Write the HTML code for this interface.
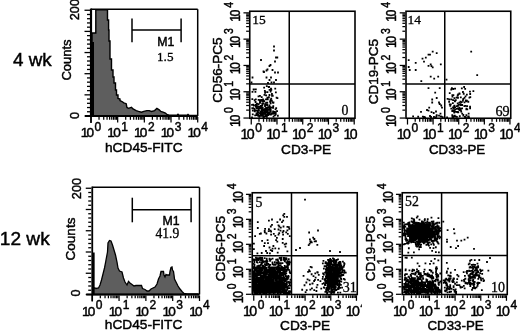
<!DOCTYPE html><html><head><meta charset="utf-8"><style>html,body{margin:0;padding:0;background:#fff;}svg{display:block;will-change:transform;filter:blur(0.3px)}</style></head><body>
<svg width="520" height="334" viewBox="0 0 520 334">
<rect width="520" height="334" fill="#fff"/>
<style>text{stroke:#000;stroke-width:0.45px;fill:#000}text.s{stroke-width:0.3px}</style>
<text x="13" y="66" font-family="'Liberation Sans', sans-serif" font-size="18.8" text-anchor="start" >4 wk</text>
<text x="-0.2" y="244.5" font-family="'Liberation Sans', sans-serif" font-size="19.1" text-anchor="start" >12 wk</text>
<path d="M92 116 L92 33 L95.8 33 L95.8 9.8 L107.5 9.8 L107.5 20 L108.6 20 L108.6 30 L109 30 L109 41 L110 41 L110 59 L111.5 59 L111.5 70 L113 70 L113 77 L114 77 L114 83 L115.5 83 L115.5 90 L116.5 90 L116.5 95 L118 95 L118 98.5 L120 99 L120 100.6 L122 101.5 L123.8 102.9 L126.2 103.7 L126.9 107.5 L128.5 108.3 L131.5 107.3 L133 109 L136.2 110.6 L138.5 111.4 L141.5 112.2 L143.8 111.4 L146.9 110.6 L149.2 110.6 L151.5 111.4 L154.6 110.6 L156.9 108.3 L159.2 109.8 L160.8 111.4 L163.1 112.2 L165.4 113 L166.9 114.5 L169.2 115.2 L177 115.2 L178 114.2 L179 115.2 L187 115.2 L188 114.4 L189 115.2 L197 115.5 L197 116 Z" fill="#5e5e5e" stroke="#000" stroke-width="1.4" stroke-linejoin="miter"/>
<line x1="91" y1="9.25" x2="197.7" y2="9.25" stroke="#000" stroke-width="1.5"/>
<line x1="197.7" y1="9.25" x2="197.7" y2="116" stroke="#000" stroke-width="1.5"/>
<line x1="91" y1="8.55" x2="91" y2="117" stroke="#000" stroke-width="2.2"/>
<line x1="85" y1="116" x2="197.7" y2="116" stroke="#000" stroke-width="2"/>
<line x1="90" y1="116" x2="84.5" y2="116" stroke="#000" stroke-width="1.3"/>
<line x1="90" y1="111.77" x2="87" y2="111.77" stroke="#000" stroke-width="1.3"/>
<line x1="90" y1="107.54" x2="87" y2="107.54" stroke="#000" stroke-width="1.3"/>
<line x1="90" y1="103.31" x2="87" y2="103.31" stroke="#000" stroke-width="1.3"/>
<line x1="90" y1="99.08" x2="87" y2="99.08" stroke="#000" stroke-width="1.3"/>
<line x1="90" y1="94.85" x2="84.5" y2="94.85" stroke="#000" stroke-width="1.3"/>
<line x1="90" y1="90.62" x2="87" y2="90.62" stroke="#000" stroke-width="1.3"/>
<line x1="90" y1="86.39" x2="87" y2="86.39" stroke="#000" stroke-width="1.3"/>
<line x1="90" y1="82.16" x2="87" y2="82.16" stroke="#000" stroke-width="1.3"/>
<line x1="90" y1="77.93" x2="87" y2="77.93" stroke="#000" stroke-width="1.3"/>
<line x1="90" y1="73.7" x2="84.5" y2="73.7" stroke="#000" stroke-width="1.3"/>
<line x1="90" y1="69.47" x2="87" y2="69.47" stroke="#000" stroke-width="1.3"/>
<line x1="90" y1="65.24" x2="87" y2="65.24" stroke="#000" stroke-width="1.3"/>
<line x1="90" y1="61.01" x2="87" y2="61.01" stroke="#000" stroke-width="1.3"/>
<line x1="90" y1="56.78" x2="87" y2="56.78" stroke="#000" stroke-width="1.3"/>
<line x1="90" y1="52.55" x2="84.5" y2="52.55" stroke="#000" stroke-width="1.3"/>
<line x1="90" y1="48.32" x2="87" y2="48.32" stroke="#000" stroke-width="1.3"/>
<line x1="90" y1="44.09" x2="87" y2="44.09" stroke="#000" stroke-width="1.3"/>
<line x1="90" y1="39.86" x2="87" y2="39.86" stroke="#000" stroke-width="1.3"/>
<line x1="90" y1="35.63" x2="87" y2="35.63" stroke="#000" stroke-width="1.3"/>
<line x1="90" y1="31.4" x2="84.5" y2="31.4" stroke="#000" stroke-width="1.3"/>
<line x1="90" y1="27.17" x2="87" y2="27.17" stroke="#000" stroke-width="1.3"/>
<line x1="90" y1="22.94" x2="87" y2="22.94" stroke="#000" stroke-width="1.3"/>
<line x1="90" y1="18.71" x2="87" y2="18.71" stroke="#000" stroke-width="1.3"/>
<line x1="90" y1="14.48" x2="87" y2="14.48" stroke="#000" stroke-width="1.3"/>
<line x1="90" y1="10.25" x2="84.5" y2="10.25" stroke="#000" stroke-width="1.3"/>
<line x1="93" y1="42" x2="93" y2="116" stroke="#000" stroke-width="2"/>
<line x1="91" y1="117" x2="91" y2="122.5" stroke="#000" stroke-width="1.25"/>
<line x1="99.03" y1="117" x2="99.03" y2="119.8" stroke="#000" stroke-width="1.25"/>
<line x1="103.73" y1="117" x2="103.73" y2="119.8" stroke="#000" stroke-width="1.25"/>
<line x1="107.06" y1="117" x2="107.06" y2="119.8" stroke="#000" stroke-width="1.25"/>
<line x1="109.65" y1="117" x2="109.65" y2="119.8" stroke="#000" stroke-width="1.25"/>
<line x1="111.76" y1="117" x2="111.76" y2="119.8" stroke="#000" stroke-width="1.25"/>
<line x1="113.54" y1="117" x2="113.54" y2="119.8" stroke="#000" stroke-width="1.25"/>
<line x1="115.09" y1="117" x2="115.09" y2="119.8" stroke="#000" stroke-width="1.25"/>
<line x1="116.45" y1="117" x2="116.45" y2="119.8" stroke="#000" stroke-width="1.25"/>
<line x1="117.67" y1="117" x2="117.67" y2="122.5" stroke="#000" stroke-width="1.25"/>
<line x1="125.7" y1="117" x2="125.7" y2="119.8" stroke="#000" stroke-width="1.25"/>
<line x1="130.4" y1="117" x2="130.4" y2="119.8" stroke="#000" stroke-width="1.25"/>
<line x1="133.73" y1="117" x2="133.73" y2="119.8" stroke="#000" stroke-width="1.25"/>
<line x1="136.32" y1="117" x2="136.32" y2="119.8" stroke="#000" stroke-width="1.25"/>
<line x1="138.43" y1="117" x2="138.43" y2="119.8" stroke="#000" stroke-width="1.25"/>
<line x1="140.22" y1="117" x2="140.22" y2="119.8" stroke="#000" stroke-width="1.25"/>
<line x1="141.76" y1="117" x2="141.76" y2="119.8" stroke="#000" stroke-width="1.25"/>
<line x1="143.13" y1="117" x2="143.13" y2="119.8" stroke="#000" stroke-width="1.25"/>
<line x1="144.35" y1="117" x2="144.35" y2="122.5" stroke="#000" stroke-width="1.25"/>
<line x1="152.38" y1="117" x2="152.38" y2="119.8" stroke="#000" stroke-width="1.25"/>
<line x1="157.08" y1="117" x2="157.08" y2="119.8" stroke="#000" stroke-width="1.25"/>
<line x1="160.41" y1="117" x2="160.41" y2="119.8" stroke="#000" stroke-width="1.25"/>
<line x1="163" y1="117" x2="163" y2="119.8" stroke="#000" stroke-width="1.25"/>
<line x1="165.11" y1="117" x2="165.11" y2="119.8" stroke="#000" stroke-width="1.25"/>
<line x1="166.89" y1="117" x2="166.89" y2="119.8" stroke="#000" stroke-width="1.25"/>
<line x1="168.44" y1="117" x2="168.44" y2="119.8" stroke="#000" stroke-width="1.25"/>
<line x1="169.8" y1="117" x2="169.8" y2="119.8" stroke="#000" stroke-width="1.25"/>
<line x1="171.02" y1="117" x2="171.02" y2="122.5" stroke="#000" stroke-width="1.25"/>
<line x1="179.05" y1="117" x2="179.05" y2="119.8" stroke="#000" stroke-width="1.25"/>
<line x1="183.75" y1="117" x2="183.75" y2="119.8" stroke="#000" stroke-width="1.25"/>
<line x1="187.08" y1="117" x2="187.08" y2="119.8" stroke="#000" stroke-width="1.25"/>
<line x1="189.67" y1="117" x2="189.67" y2="119.8" stroke="#000" stroke-width="1.25"/>
<line x1="191.78" y1="117" x2="191.78" y2="119.8" stroke="#000" stroke-width="1.25"/>
<line x1="193.57" y1="117" x2="193.57" y2="119.8" stroke="#000" stroke-width="1.25"/>
<line x1="195.11" y1="117" x2="195.11" y2="119.8" stroke="#000" stroke-width="1.25"/>
<line x1="196.48" y1="117" x2="196.48" y2="119.8" stroke="#000" stroke-width="1.25"/>
<line x1="197.7" y1="117" x2="197.7" y2="122.5" stroke="#000" stroke-width="1.25"/>
<line x1="91" y1="116" x2="91" y2="123" stroke="#000" stroke-width="1.6"/>
<line x1="132" y1="18.5" x2="132" y2="42.3" stroke="#000" stroke-width="1.5"/>
<line x1="181.1" y1="18.5" x2="181.1" y2="42.3" stroke="#000" stroke-width="1.5"/>
<line x1="132" y1="30" x2="181.1" y2="30" stroke="#000" stroke-width="1.5"/>
<text x="157.2" y="46.2" font-family="'Liberation Sans', sans-serif" font-size="12.3" text-anchor="start" >M1</text>
<text x="157" y="60.5" font-family="'Liberation Serif', serif" font-size="13.2" text-anchor="start"  class="s">1.5</text>
<text transform="translate(79.4,9.6) rotate(-90)" font-family="'Liberation Sans', sans-serif" font-size="12.8" text-anchor="middle">200</text>
<text transform="translate(79.4,115.5) rotate(-90)" font-family="'Liberation Sans', sans-serif" font-size="12.8" text-anchor="middle">0</text>
<text transform="translate(71,60) rotate(-90)" font-family="'Liberation Sans', sans-serif" font-size="13" text-anchor="middle">Counts</text>
<text x="91" y="137.3" font-family="'Liberation Sans', sans-serif" font-size="13.6" text-anchor="middle">1<tspan dx="-1.8">0</tspan><tspan dx="0.6" dy="-6.6" font-size="12">0</tspan></text>
<text x="117.67" y="137.3" font-family="'Liberation Sans', sans-serif" font-size="13.6" text-anchor="middle">1<tspan dx="-1.8">0</tspan><tspan dx="0.6" dy="-6.6" font-size="12">1</tspan></text>
<text x="144.35" y="137.3" font-family="'Liberation Sans', sans-serif" font-size="13.6" text-anchor="middle">1<tspan dx="-1.8">0</tspan><tspan dx="0.6" dy="-6.6" font-size="12">2</tspan></text>
<text x="171.02" y="137.3" font-family="'Liberation Sans', sans-serif" font-size="13.6" text-anchor="middle">1<tspan dx="-1.8">0</tspan><tspan dx="0.6" dy="-6.6" font-size="12">3</tspan></text>
<text x="197.7" y="137.3" font-family="'Liberation Sans', sans-serif" font-size="13.6" text-anchor="middle">1<tspan dx="-1.8">0</tspan><tspan dx="0.6" dy="-6.6" font-size="12">4</tspan></text>
<text x="105" y="152" font-family="'Liberation Sans', sans-serif" font-size="13.7" text-anchor="start" >hCD45-FITC</text>
<path d="M93 294.5 L93 288 L95 288 L96 288.5 L98.5 288 L100 285 L101.5 280 L103 274 L104.5 268 L105.5 263 L106 260 L107.5 252 L108 243 L109.5 240.5 L111 241 L112.5 245 L114 250 L115.5 255 L117 262 L118 268 L119.5 271 L122 272 L123.5 278 L125 282 L127 285 L128.5 281.5 L130 283 L132 284.5 L134 286 L136 285.5 L141.5 285.5 L142.5 288.5 L145 289.5 L147 291 L149 291 L151 289 L155 287 L157 284 L158.5 279 L160 276 L161 271.5 L163.5 271.5 L164 275 L165 277 L166 274.5 L167 275 L169.5 275 L170 271.5 L171 267.5 L172 267 L172.5 270 L173.5 271.5 L174 275 L174.5 279 L176 282 L178 286 L180 289 L182 291.5 L184 293.5 L187 294 L198 294 L198 294.5 Z" fill="#5e5e5e" stroke="#000" stroke-width="1.3" stroke-linejoin="miter"/>
<line x1="92.25" y1="187.25" x2="199.5" y2="187.25" stroke="#000" stroke-width="1.5"/>
<line x1="199.5" y1="187.25" x2="199.5" y2="294.5" stroke="#000" stroke-width="1.5"/>
<line x1="92.25" y1="186.55" x2="92.25" y2="295.5" stroke="#000" stroke-width="1.8"/>
<line x1="86.25" y1="294.5" x2="199.5" y2="294.5" stroke="#000" stroke-width="1.8"/>
<line x1="91.25" y1="294.5" x2="85.75" y2="294.5" stroke="#000" stroke-width="1.3"/>
<line x1="91.25" y1="290.25" x2="88.25" y2="290.25" stroke="#000" stroke-width="1.3"/>
<line x1="91.25" y1="286" x2="88.25" y2="286" stroke="#000" stroke-width="1.3"/>
<line x1="91.25" y1="281.75" x2="88.25" y2="281.75" stroke="#000" stroke-width="1.3"/>
<line x1="91.25" y1="277.5" x2="88.25" y2="277.5" stroke="#000" stroke-width="1.3"/>
<line x1="91.25" y1="273.25" x2="85.75" y2="273.25" stroke="#000" stroke-width="1.3"/>
<line x1="91.25" y1="269" x2="88.25" y2="269" stroke="#000" stroke-width="1.3"/>
<line x1="91.25" y1="264.75" x2="88.25" y2="264.75" stroke="#000" stroke-width="1.3"/>
<line x1="91.25" y1="260.5" x2="88.25" y2="260.5" stroke="#000" stroke-width="1.3"/>
<line x1="91.25" y1="256.25" x2="88.25" y2="256.25" stroke="#000" stroke-width="1.3"/>
<line x1="91.25" y1="252" x2="85.75" y2="252" stroke="#000" stroke-width="1.3"/>
<line x1="91.25" y1="247.75" x2="88.25" y2="247.75" stroke="#000" stroke-width="1.3"/>
<line x1="91.25" y1="243.5" x2="88.25" y2="243.5" stroke="#000" stroke-width="1.3"/>
<line x1="91.25" y1="239.25" x2="88.25" y2="239.25" stroke="#000" stroke-width="1.3"/>
<line x1="91.25" y1="235" x2="88.25" y2="235" stroke="#000" stroke-width="1.3"/>
<line x1="91.25" y1="230.75" x2="85.75" y2="230.75" stroke="#000" stroke-width="1.3"/>
<line x1="91.25" y1="226.5" x2="88.25" y2="226.5" stroke="#000" stroke-width="1.3"/>
<line x1="91.25" y1="222.25" x2="88.25" y2="222.25" stroke="#000" stroke-width="1.3"/>
<line x1="91.25" y1="218" x2="88.25" y2="218" stroke="#000" stroke-width="1.3"/>
<line x1="91.25" y1="213.75" x2="88.25" y2="213.75" stroke="#000" stroke-width="1.3"/>
<line x1="91.25" y1="209.5" x2="85.75" y2="209.5" stroke="#000" stroke-width="1.3"/>
<line x1="91.25" y1="205.25" x2="88.25" y2="205.25" stroke="#000" stroke-width="1.3"/>
<line x1="91.25" y1="201" x2="88.25" y2="201" stroke="#000" stroke-width="1.3"/>
<line x1="91.25" y1="196.75" x2="88.25" y2="196.75" stroke="#000" stroke-width="1.3"/>
<line x1="91.25" y1="192.5" x2="88.25" y2="192.5" stroke="#000" stroke-width="1.3"/>
<line x1="91.25" y1="188.25" x2="85.75" y2="188.25" stroke="#000" stroke-width="1.3"/>
<line x1="93.7" y1="252.5" x2="93.7" y2="294.5" stroke="#000" stroke-width="1.9"/>
<line x1="92.25" y1="295.5" x2="92.25" y2="301" stroke="#000" stroke-width="1.25"/>
<line x1="100.32" y1="295.5" x2="100.32" y2="298.3" stroke="#000" stroke-width="1.25"/>
<line x1="105.04" y1="295.5" x2="105.04" y2="298.3" stroke="#000" stroke-width="1.25"/>
<line x1="108.39" y1="295.5" x2="108.39" y2="298.3" stroke="#000" stroke-width="1.25"/>
<line x1="110.99" y1="295.5" x2="110.99" y2="298.3" stroke="#000" stroke-width="1.25"/>
<line x1="113.11" y1="295.5" x2="113.11" y2="298.3" stroke="#000" stroke-width="1.25"/>
<line x1="114.91" y1="295.5" x2="114.91" y2="298.3" stroke="#000" stroke-width="1.25"/>
<line x1="116.46" y1="295.5" x2="116.46" y2="298.3" stroke="#000" stroke-width="1.25"/>
<line x1="117.84" y1="295.5" x2="117.84" y2="298.3" stroke="#000" stroke-width="1.25"/>
<line x1="119.06" y1="295.5" x2="119.06" y2="301" stroke="#000" stroke-width="1.25"/>
<line x1="127.13" y1="295.5" x2="127.13" y2="298.3" stroke="#000" stroke-width="1.25"/>
<line x1="131.86" y1="295.5" x2="131.86" y2="298.3" stroke="#000" stroke-width="1.25"/>
<line x1="135.21" y1="295.5" x2="135.21" y2="298.3" stroke="#000" stroke-width="1.25"/>
<line x1="137.8" y1="295.5" x2="137.8" y2="298.3" stroke="#000" stroke-width="1.25"/>
<line x1="139.93" y1="295.5" x2="139.93" y2="298.3" stroke="#000" stroke-width="1.25"/>
<line x1="141.72" y1="295.5" x2="141.72" y2="298.3" stroke="#000" stroke-width="1.25"/>
<line x1="143.28" y1="295.5" x2="143.28" y2="298.3" stroke="#000" stroke-width="1.25"/>
<line x1="144.65" y1="295.5" x2="144.65" y2="298.3" stroke="#000" stroke-width="1.25"/>
<line x1="145.88" y1="295.5" x2="145.88" y2="301" stroke="#000" stroke-width="1.25"/>
<line x1="153.95" y1="295.5" x2="153.95" y2="298.3" stroke="#000" stroke-width="1.25"/>
<line x1="158.67" y1="295.5" x2="158.67" y2="298.3" stroke="#000" stroke-width="1.25"/>
<line x1="162.02" y1="295.5" x2="162.02" y2="298.3" stroke="#000" stroke-width="1.25"/>
<line x1="164.62" y1="295.5" x2="164.62" y2="298.3" stroke="#000" stroke-width="1.25"/>
<line x1="166.74" y1="295.5" x2="166.74" y2="298.3" stroke="#000" stroke-width="1.25"/>
<line x1="168.53" y1="295.5" x2="168.53" y2="298.3" stroke="#000" stroke-width="1.25"/>
<line x1="170.09" y1="295.5" x2="170.09" y2="298.3" stroke="#000" stroke-width="1.25"/>
<line x1="171.46" y1="295.5" x2="171.46" y2="298.3" stroke="#000" stroke-width="1.25"/>
<line x1="172.69" y1="295.5" x2="172.69" y2="301" stroke="#000" stroke-width="1.25"/>
<line x1="180.76" y1="295.5" x2="180.76" y2="298.3" stroke="#000" stroke-width="1.25"/>
<line x1="185.48" y1="295.5" x2="185.48" y2="298.3" stroke="#000" stroke-width="1.25"/>
<line x1="188.83" y1="295.5" x2="188.83" y2="298.3" stroke="#000" stroke-width="1.25"/>
<line x1="191.43" y1="295.5" x2="191.43" y2="298.3" stroke="#000" stroke-width="1.25"/>
<line x1="193.55" y1="295.5" x2="193.55" y2="298.3" stroke="#000" stroke-width="1.25"/>
<line x1="195.35" y1="295.5" x2="195.35" y2="298.3" stroke="#000" stroke-width="1.25"/>
<line x1="196.9" y1="295.5" x2="196.9" y2="298.3" stroke="#000" stroke-width="1.25"/>
<line x1="198.27" y1="295.5" x2="198.27" y2="298.3" stroke="#000" stroke-width="1.25"/>
<line x1="199.5" y1="295.5" x2="199.5" y2="301" stroke="#000" stroke-width="1.25"/>
<line x1="92.25" y1="294.5" x2="92.25" y2="301.5" stroke="#000" stroke-width="1.6"/>
<line x1="132.3" y1="197.7" x2="132.3" y2="222.3" stroke="#000" stroke-width="1.5"/>
<line x1="191.1" y1="197.7" x2="191.1" y2="222.3" stroke="#000" stroke-width="1.5"/>
<line x1="132.3" y1="209.7" x2="191.1" y2="209.7" stroke="#000" stroke-width="1.5"/>
<text x="162.6" y="224.6" font-family="'Liberation Sans', sans-serif" font-size="12.3" text-anchor="start" >M1</text>
<text x="155.5" y="237.7" font-family="'Liberation Serif', serif" font-size="13.6" text-anchor="start"  class="s">41.9</text>
<text transform="translate(81.4,188.5) rotate(-90)" font-family="'Liberation Sans', sans-serif" font-size="12.8" text-anchor="middle">200</text>
<text transform="translate(80.2,293) rotate(-90)" font-family="'Liberation Sans', sans-serif" font-size="12.8" text-anchor="middle">0</text>
<text transform="translate(74.8,239) rotate(-90)" font-family="'Liberation Sans', sans-serif" font-size="13.5" text-anchor="middle">Counts</text>
<text x="92.25" y="315.8" font-family="'Liberation Sans', sans-serif" font-size="13.6" text-anchor="middle">1<tspan dx="-1.8">0</tspan><tspan dx="0.6" dy="-6.6" font-size="12">0</tspan></text>
<text x="119.06" y="315.8" font-family="'Liberation Sans', sans-serif" font-size="13.6" text-anchor="middle">1<tspan dx="-1.8">0</tspan><tspan dx="0.6" dy="-6.6" font-size="12">1</tspan></text>
<text x="145.88" y="315.8" font-family="'Liberation Sans', sans-serif" font-size="13.6" text-anchor="middle">1<tspan dx="-1.8">0</tspan><tspan dx="0.6" dy="-6.6" font-size="12">2</tspan></text>
<text x="172.69" y="315.8" font-family="'Liberation Sans', sans-serif" font-size="13.6" text-anchor="middle">1<tspan dx="-1.8">0</tspan><tspan dx="0.6" dy="-6.6" font-size="12">3</tspan></text>
<text x="199.5" y="315.8" font-family="'Liberation Sans', sans-serif" font-size="13.6" text-anchor="middle">1<tspan dx="-1.8">0</tspan><tspan dx="0.6" dy="-6.6" font-size="12">4</tspan></text>
<text x="104.8" y="329.3" font-family="'Liberation Sans', sans-serif" font-size="13.7" text-anchor="start" >hCD45-FITC</text>
<rect x="249.75" y="11.25" width="105.25" height="107" fill="none" stroke="#000" stroke-width="1.6"/>
<line x1="289.25" y1="11.25" x2="289.25" y2="118.25" stroke="#000" stroke-width="1.5"/>
<line x1="249.75" y1="84" x2="355" y2="84" stroke="#000" stroke-width="1.5"/>
<line x1="248.95" y1="118.05" x2="243.45" y2="118.05" stroke="#000" stroke-width="1.25"/>
<line x1="248.95" y1="110.13" x2="246.15" y2="110.13" stroke="#000" stroke-width="1.25"/>
<line x1="248.95" y1="105.5" x2="246.15" y2="105.5" stroke="#000" stroke-width="1.25"/>
<line x1="248.95" y1="102.22" x2="246.15" y2="102.22" stroke="#000" stroke-width="1.25"/>
<line x1="248.95" y1="99.67" x2="246.15" y2="99.67" stroke="#000" stroke-width="1.25"/>
<line x1="248.95" y1="97.58" x2="246.15" y2="97.58" stroke="#000" stroke-width="1.25"/>
<line x1="248.95" y1="95.82" x2="246.15" y2="95.82" stroke="#000" stroke-width="1.25"/>
<line x1="248.95" y1="94.3" x2="246.15" y2="94.3" stroke="#000" stroke-width="1.25"/>
<line x1="248.95" y1="92.95" x2="246.15" y2="92.95" stroke="#000" stroke-width="1.25"/>
<line x1="248.95" y1="91.75" x2="243.45" y2="91.75" stroke="#000" stroke-width="1.25"/>
<line x1="248.95" y1="83.83" x2="246.15" y2="83.83" stroke="#000" stroke-width="1.25"/>
<line x1="248.95" y1="79.2" x2="246.15" y2="79.2" stroke="#000" stroke-width="1.25"/>
<line x1="248.95" y1="75.92" x2="246.15" y2="75.92" stroke="#000" stroke-width="1.25"/>
<line x1="248.95" y1="73.37" x2="246.15" y2="73.37" stroke="#000" stroke-width="1.25"/>
<line x1="248.95" y1="71.28" x2="246.15" y2="71.28" stroke="#000" stroke-width="1.25"/>
<line x1="248.95" y1="69.52" x2="246.15" y2="69.52" stroke="#000" stroke-width="1.25"/>
<line x1="248.95" y1="68" x2="246.15" y2="68" stroke="#000" stroke-width="1.25"/>
<line x1="248.95" y1="66.65" x2="246.15" y2="66.65" stroke="#000" stroke-width="1.25"/>
<line x1="248.95" y1="65.45" x2="243.45" y2="65.45" stroke="#000" stroke-width="1.25"/>
<line x1="248.95" y1="57.53" x2="246.15" y2="57.53" stroke="#000" stroke-width="1.25"/>
<line x1="248.95" y1="52.9" x2="246.15" y2="52.9" stroke="#000" stroke-width="1.25"/>
<line x1="248.95" y1="49.62" x2="246.15" y2="49.62" stroke="#000" stroke-width="1.25"/>
<line x1="248.95" y1="47.07" x2="246.15" y2="47.07" stroke="#000" stroke-width="1.25"/>
<line x1="248.95" y1="44.98" x2="246.15" y2="44.98" stroke="#000" stroke-width="1.25"/>
<line x1="248.95" y1="43.22" x2="246.15" y2="43.22" stroke="#000" stroke-width="1.25"/>
<line x1="248.95" y1="41.7" x2="246.15" y2="41.7" stroke="#000" stroke-width="1.25"/>
<line x1="248.95" y1="40.35" x2="246.15" y2="40.35" stroke="#000" stroke-width="1.25"/>
<line x1="248.95" y1="39.15" x2="243.45" y2="39.15" stroke="#000" stroke-width="1.25"/>
<line x1="248.95" y1="31.23" x2="246.15" y2="31.23" stroke="#000" stroke-width="1.25"/>
<line x1="248.95" y1="26.6" x2="246.15" y2="26.6" stroke="#000" stroke-width="1.25"/>
<line x1="248.95" y1="23.32" x2="246.15" y2="23.32" stroke="#000" stroke-width="1.25"/>
<line x1="248.95" y1="20.77" x2="246.15" y2="20.77" stroke="#000" stroke-width="1.25"/>
<line x1="248.95" y1="18.68" x2="246.15" y2="18.68" stroke="#000" stroke-width="1.25"/>
<line x1="248.95" y1="16.92" x2="246.15" y2="16.92" stroke="#000" stroke-width="1.25"/>
<line x1="248.95" y1="15.4" x2="246.15" y2="15.4" stroke="#000" stroke-width="1.25"/>
<line x1="248.95" y1="14.05" x2="246.15" y2="14.05" stroke="#000" stroke-width="1.25"/>
<line x1="248.95" y1="12.85" x2="243.45" y2="12.85" stroke="#000" stroke-width="1.25"/>
<line x1="251.25" y1="119.05" x2="251.25" y2="124.55" stroke="#000" stroke-width="1.25"/>
<line x1="259" y1="119.05" x2="259" y2="121.85" stroke="#000" stroke-width="1.25"/>
<line x1="263.53" y1="119.05" x2="263.53" y2="121.85" stroke="#000" stroke-width="1.25"/>
<line x1="266.75" y1="119.05" x2="266.75" y2="121.85" stroke="#000" stroke-width="1.25"/>
<line x1="269.24" y1="119.05" x2="269.24" y2="121.85" stroke="#000" stroke-width="1.25"/>
<line x1="271.28" y1="119.05" x2="271.28" y2="121.85" stroke="#000" stroke-width="1.25"/>
<line x1="273" y1="119.05" x2="273" y2="121.85" stroke="#000" stroke-width="1.25"/>
<line x1="274.49" y1="119.05" x2="274.49" y2="121.85" stroke="#000" stroke-width="1.25"/>
<line x1="275.81" y1="119.05" x2="275.81" y2="121.85" stroke="#000" stroke-width="1.25"/>
<line x1="276.99" y1="119.05" x2="276.99" y2="124.55" stroke="#000" stroke-width="1.25"/>
<line x1="284.74" y1="119.05" x2="284.74" y2="121.85" stroke="#000" stroke-width="1.25"/>
<line x1="289.27" y1="119.05" x2="289.27" y2="121.85" stroke="#000" stroke-width="1.25"/>
<line x1="292.48" y1="119.05" x2="292.48" y2="121.85" stroke="#000" stroke-width="1.25"/>
<line x1="294.98" y1="119.05" x2="294.98" y2="121.85" stroke="#000" stroke-width="1.25"/>
<line x1="297.02" y1="119.05" x2="297.02" y2="121.85" stroke="#000" stroke-width="1.25"/>
<line x1="298.74" y1="119.05" x2="298.74" y2="121.85" stroke="#000" stroke-width="1.25"/>
<line x1="300.23" y1="119.05" x2="300.23" y2="121.85" stroke="#000" stroke-width="1.25"/>
<line x1="301.55" y1="119.05" x2="301.55" y2="121.85" stroke="#000" stroke-width="1.25"/>
<line x1="302.73" y1="119.05" x2="302.73" y2="124.55" stroke="#000" stroke-width="1.25"/>
<line x1="310.47" y1="119.05" x2="310.47" y2="121.85" stroke="#000" stroke-width="1.25"/>
<line x1="315" y1="119.05" x2="315" y2="121.85" stroke="#000" stroke-width="1.25"/>
<line x1="318.22" y1="119.05" x2="318.22" y2="121.85" stroke="#000" stroke-width="1.25"/>
<line x1="320.71" y1="119.05" x2="320.71" y2="121.85" stroke="#000" stroke-width="1.25"/>
<line x1="322.75" y1="119.05" x2="322.75" y2="121.85" stroke="#000" stroke-width="1.25"/>
<line x1="324.48" y1="119.05" x2="324.48" y2="121.85" stroke="#000" stroke-width="1.25"/>
<line x1="325.97" y1="119.05" x2="325.97" y2="121.85" stroke="#000" stroke-width="1.25"/>
<line x1="327.28" y1="119.05" x2="327.28" y2="121.85" stroke="#000" stroke-width="1.25"/>
<line x1="328.46" y1="119.05" x2="328.46" y2="124.55" stroke="#000" stroke-width="1.25"/>
<line x1="336.21" y1="119.05" x2="336.21" y2="121.85" stroke="#000" stroke-width="1.25"/>
<line x1="340.74" y1="119.05" x2="340.74" y2="121.85" stroke="#000" stroke-width="1.25"/>
<line x1="343.96" y1="119.05" x2="343.96" y2="121.85" stroke="#000" stroke-width="1.25"/>
<line x1="346.45" y1="119.05" x2="346.45" y2="121.85" stroke="#000" stroke-width="1.25"/>
<line x1="348.49" y1="119.05" x2="348.49" y2="121.85" stroke="#000" stroke-width="1.25"/>
<line x1="350.21" y1="119.05" x2="350.21" y2="121.85" stroke="#000" stroke-width="1.25"/>
<line x1="351.71" y1="119.05" x2="351.71" y2="121.85" stroke="#000" stroke-width="1.25"/>
<line x1="353.02" y1="119.05" x2="353.02" y2="121.85" stroke="#000" stroke-width="1.25"/>
<line x1="354.2" y1="119.05" x2="354.2" y2="124.55" stroke="#000" stroke-width="1.25"/>
<text transform="translate(240.05,117.05) rotate(-90) scale(0.87,1)" font-family="'Liberation Sans', sans-serif" font-size="14.2" text-anchor="middle">1<tspan dx="-1.8">0</tspan><tspan dx="2" dy="-6.6" font-size="12">0</tspan></text>
<text transform="translate(240.05,90.75) rotate(-90) scale(0.87,1)" font-family="'Liberation Sans', sans-serif" font-size="14.2" text-anchor="middle">1<tspan dx="-1.8">0</tspan><tspan dx="2" dy="-6.6" font-size="12">1</tspan></text>
<text transform="translate(240.05,64.45) rotate(-90) scale(0.87,1)" font-family="'Liberation Sans', sans-serif" font-size="14.2" text-anchor="middle">1<tspan dx="-1.8">0</tspan><tspan dx="2" dy="-6.6" font-size="12">2</tspan></text>
<text transform="translate(240.05,38.15) rotate(-90) scale(0.87,1)" font-family="'Liberation Sans', sans-serif" font-size="14.2" text-anchor="middle">1<tspan dx="-1.8">0</tspan><tspan dx="2" dy="-6.6" font-size="12">3</tspan></text>
<text transform="translate(240.05,11.85) rotate(-90) scale(0.87,1)" font-family="'Liberation Sans', sans-serif" font-size="14.2" text-anchor="middle">1<tspan dx="-1.8">0</tspan><tspan dx="2" dy="-6.6" font-size="12">4</tspan></text>
<clipPath id="c1"><rect x="0" y="0" width="357.5" height="334"/></clipPath><g clip-path="url(#c1)">
<text x="251.25" y="139.25" font-family="'Liberation Sans', sans-serif" font-size="14.2" text-anchor="middle">1<tspan dx="-1.8">0</tspan><tspan dx="0.6" dy="-7" font-size="12">0</tspan></text>
<text x="276.99" y="139.25" font-family="'Liberation Sans', sans-serif" font-size="14.2" text-anchor="middle">1<tspan dx="-1.8">0</tspan><tspan dx="0.6" dy="-7" font-size="12">1</tspan></text>
<text x="302.73" y="139.25" font-family="'Liberation Sans', sans-serif" font-size="14.2" text-anchor="middle">1<tspan dx="-1.8">0</tspan><tspan dx="0.6" dy="-7" font-size="12">2</tspan></text>
<text x="328.46" y="139.25" font-family="'Liberation Sans', sans-serif" font-size="14.2" text-anchor="middle">1<tspan dx="-1.8">0</tspan><tspan dx="0.6" dy="-7" font-size="12">3</tspan></text>
<text x="354.2" y="139.25" font-family="'Liberation Sans', sans-serif" font-size="14.2" text-anchor="middle">1<tspan dx="-1.8">0</tspan><tspan dx="0.6" dy="-7" font-size="12">4</tspan></text>
</g>
<text transform="translate(222.05,70) rotate(-90)" font-family="'Liberation Sans', sans-serif" font-size="13.5" text-anchor="middle">CD56-PC5</text>
<text x="281" y="153.55" font-family="'Liberation Sans', sans-serif" font-size="13.7" text-anchor="start" >CD3-PE</text>
<text x="252.2" y="23.8" font-family="'Liberation Serif', serif" font-size="13.5" text-anchor="start"  class="s">15</text>
<text x="341.6" y="115" font-family="'Liberation Serif', serif" font-size="13.8" text-anchor="start"  class="s">0</text>
<path d="M273.1 45.6h1.8v1.8h-1.8zM273.1 49.6h1.8v1.8h-1.8zM275.1 56.6h1.8v1.8h-1.8zM276.4 56.6h1.8v1.8h-1.8zM260.1 59.1h1.8v1.8h-1.8zM274.1 60.6h1.8v1.8h-1.8zM269.6 64.1h1.8v1.8h-1.8zM268.6 65.1h1.8v1.8h-1.8zM266.6 68.6h1.8v1.8h-1.8zM265.6 69.6h1.8v1.8h-1.8zM271.6 69.1h1.8v1.8h-1.8zM263.1 71.1h1.8v1.8h-1.8zM274.1 71.6h1.8v1.8h-1.8zM277.1 71.6h1.8v1.8h-1.8zM262.6 70.6h1.8v1.8h-1.8zM251.6 76.6h1.8v1.8h-1.8zM265.6 76.6h1.8v1.8h-1.8zM270.1 76.6h1.8v1.8h-1.8zM268.6 79.1h1.8v1.8h-1.8zM275.1 79.1h1.8v1.8h-1.8zM250.6 81.6h1.8v1.8h-1.8zM267.1 82.1h1.8v1.8h-1.8zM270.6 81.6h1.8v1.8h-1.8zM273.1 81.6h1.8v1.8h-1.8z" fill="#000"/>
<path d="M260.31 111.42h1.8v1.8h-1.8zM260.52 106.05h1.8v1.8h-1.8zM255.59 106.71h1.8v1.8h-1.8zM269.88 110.86h1.8v1.8h-1.8zM269.36 109.72h1.8v1.8h-1.8zM264.86 109.3h1.8v1.8h-1.8zM265.64 111.34h1.8v1.8h-1.8zM255.87 105.06h1.8v1.8h-1.8zM264.24 107.8h1.8v1.8h-1.8zM265.75 103.93h1.8v1.8h-1.8zM264.26 110.66h1.8v1.8h-1.8zM266 115.88h1.8v1.8h-1.8zM257.76 103.29h1.8v1.8h-1.8zM259.69 107.41h1.8v1.8h-1.8zM266.52 109.71h1.8v1.8h-1.8zM258.97 101.88h1.8v1.8h-1.8zM258.46 116.04h1.8v1.8h-1.8zM256.44 109.69h1.8v1.8h-1.8zM265.09 98.42h1.8v1.8h-1.8zM262.44 116.59h1.8v1.8h-1.8zM261.36 102.79h1.8v1.8h-1.8zM265.58 107.7h1.8v1.8h-1.8zM251.85 113.48h1.8v1.8h-1.8zM266.79 114.25h1.8v1.8h-1.8zM272.18 110.45h1.8v1.8h-1.8zM262.93 99.66h1.8v1.8h-1.8zM266.41 104.12h1.8v1.8h-1.8zM258.93 99.88h1.8v1.8h-1.8zM255.33 104.65h1.8v1.8h-1.8zM271.12 94.89h1.8v1.8h-1.8zM251.9 109.66h1.8v1.8h-1.8zM272.2 111.86h1.8v1.8h-1.8zM264.6 103.31h1.8v1.8h-1.8zM254.26 114.45h1.8v1.8h-1.8zM269.81 109.12h1.8v1.8h-1.8zM263.82 110.92h1.8v1.8h-1.8zM273.26 112.12h1.8v1.8h-1.8zM265.73 111.66h1.8v1.8h-1.8zM251.12 116.43h1.8v1.8h-1.8zM268.79 111.54h1.8v1.8h-1.8zM268 96.33h1.8v1.8h-1.8zM260.81 114.73h1.8v1.8h-1.8zM265.96 107.12h1.8v1.8h-1.8zM264.37 112.32h1.8v1.8h-1.8zM262.94 115.55h1.8v1.8h-1.8zM257.47 105.4h1.8v1.8h-1.8zM269.39 108.27h1.8v1.8h-1.8zM255.94 114.25h1.8v1.8h-1.8zM272.36 105.21h1.8v1.8h-1.8zM252.44 107.22h1.8v1.8h-1.8zM261.06 106.16h1.8v1.8h-1.8zM271.93 101.42h1.8v1.8h-1.8zM270.92 99.86h1.8v1.8h-1.8zM256.59 112.2h1.8v1.8h-1.8zM270 113.68h1.8v1.8h-1.8zM264.52 109.03h1.8v1.8h-1.8zM263.17 111.84h1.8v1.8h-1.8zM260.87 109.9h1.8v1.8h-1.8zM266.11 108.11h1.8v1.8h-1.8zM267.45 111.78h1.8v1.8h-1.8zM276.17 110.21h1.8v1.8h-1.8zM259.11 105.68h1.8v1.8h-1.8zM262.01 114.1h1.8v1.8h-1.8zM259.74 110.61h1.8v1.8h-1.8zM274.96 91.43h1.8v1.8h-1.8zM254.23 109.69h1.8v1.8h-1.8zM264.89 109.65h1.8v1.8h-1.8zM259.08 112.36h1.8v1.8h-1.8zM264.07 104.71h1.8v1.8h-1.8zM258.22 107.45h1.8v1.8h-1.8zM260.52 107.69h1.8v1.8h-1.8zM269.16 100.5h1.8v1.8h-1.8zM261.63 114.3h1.8v1.8h-1.8zM259.71 112.15h1.8v1.8h-1.8zM269.74 90.66h1.8v1.8h-1.8zM269.72 98.69h1.8v1.8h-1.8zM266.88 98.4h1.8v1.8h-1.8zM263.33 115.87h1.8v1.8h-1.8zM261.05 109.34h1.8v1.8h-1.8zM267.68 109.02h1.8v1.8h-1.8zM269.44 106.19h1.8v1.8h-1.8zM268.5 106.37h1.8v1.8h-1.8zM263.03 112.68h1.8v1.8h-1.8zM263.66 112.25h1.8v1.8h-1.8zM251.41 98.29h1.8v1.8h-1.8zM266.4 101.84h1.8v1.8h-1.8zM254.91 98.54h1.8v1.8h-1.8zM270.96 112.95h1.8v1.8h-1.8zM272.41 102h1.8v1.8h-1.8zM262.11 100.69h1.8v1.8h-1.8zM269.02 106.94h1.8v1.8h-1.8zM261.43 104.18h1.8v1.8h-1.8zM264.9 110.76h1.8v1.8h-1.8zM272.59 101.47h1.8v1.8h-1.8zM272.27 106.93h1.8v1.8h-1.8zM256.89 114.72h1.8v1.8h-1.8zM262.91 108.91h1.8v1.8h-1.8zM272.07 106.39h1.8v1.8h-1.8zM264.32 104.13h1.8v1.8h-1.8zM262.03 113.51h1.8v1.8h-1.8zM261.67 114.86h1.8v1.8h-1.8zM257.4 113.82h1.8v1.8h-1.8zM253.48 108.02h1.8v1.8h-1.8zM260.75 107.91h1.8v1.8h-1.8zM257.96 109.62h1.8v1.8h-1.8zM274.64 108.39h1.8v1.8h-1.8zM265.82 114.6h1.8v1.8h-1.8zM260.71 99.91h1.8v1.8h-1.8zM258.21 115.08h1.8v1.8h-1.8zM269.15 113.25h1.8v1.8h-1.8zM262.15 113.33h1.8v1.8h-1.8zM263.26 100.44h1.8v1.8h-1.8zM251.15 103.95h1.8v1.8h-1.8zM268.56 104.42h1.8v1.8h-1.8zM255.78 103.09h1.8v1.8h-1.8zM251.38 107.34h1.8v1.8h-1.8zM253.84 110.47h1.8v1.8h-1.8zM257.61 95.48h1.8v1.8h-1.8zM267.17 106.31h1.8v1.8h-1.8zM264.14 105.12h1.8v1.8h-1.8zM267.56 112.96h1.8v1.8h-1.8zM266.76 110.22h1.8v1.8h-1.8zM271.44 112.39h1.8v1.8h-1.8zM265.26 94.55h1.8v1.8h-1.8zM260.02 105.05h1.8v1.8h-1.8zM275.68 96.67h1.8v1.8h-1.8zM255.61 112.58h1.8v1.8h-1.8zM275.3 107.32h1.8v1.8h-1.8zM266.03 113.97h1.8v1.8h-1.8zM255.76 107.52h1.8v1.8h-1.8zM264.15 113.47h1.8v1.8h-1.8zM261.86 106.83h1.8v1.8h-1.8zM254.99 105.77h1.8v1.8h-1.8zM268.34 108.76h1.8v1.8h-1.8zM256.13 102.63h1.8v1.8h-1.8zM266.56 91.25h1.8v1.8h-1.8zM266.45 111.22h1.8v1.8h-1.8zM273.89 110.88h1.8v1.8h-1.8zM261.63 111.5h1.8v1.8h-1.8zM264.37 103.54h1.8v1.8h-1.8zM252.28 103.77h1.8v1.8h-1.8zM264.14 109.29h1.8v1.8h-1.8zM259.31 101.77h1.8v1.8h-1.8zM276.94 114.84h1.8v1.8h-1.8zM253.74 99.36h1.8v1.8h-1.8zM274.02 114.53h1.8v1.8h-1.8zM274.85 113.37h1.8v1.8h-1.8zM256 109.79h1.8v1.8h-1.8zM261.69 111.5h1.8v1.8h-1.8zM257.01 107.29h1.8v1.8h-1.8zM265.31 110.55h1.8v1.8h-1.8zM266.57 109.46h1.8v1.8h-1.8zM259.83 113.23h1.8v1.8h-1.8zM262.45 102.73h1.8v1.8h-1.8zM257.72 108.1h1.8v1.8h-1.8zM261.33 109.12h1.8v1.8h-1.8zM262.1 109.24h1.8v1.8h-1.8zM261.16 99.92h1.8v1.8h-1.8zM265.05 114.95h1.8v1.8h-1.8zM265.14 106.87h1.8v1.8h-1.8zM265.23 101.82h1.8v1.8h-1.8zM255.59 112.91h1.8v1.8h-1.8zM254.51 91.01h1.8v1.8h-1.8zM259.43 99.2h1.8v1.8h-1.8zM256.76 111.49h1.8v1.8h-1.8zM265.58 109.25h1.8v1.8h-1.8zM272.49 112.69h1.8v1.8h-1.8zM261.95 111.98h1.8v1.8h-1.8zM273.68 114.41h1.8v1.8h-1.8zM269.27 101.06h1.8v1.8h-1.8zM261.06 112.84h1.8v1.8h-1.8zM260.02 115.05h1.8v1.8h-1.8zM266.27 114h1.8v1.8h-1.8zM270.78 106.7h1.8v1.8h-1.8zM259.7 113.78h1.8v1.8h-1.8zM268.96 108.14h1.8v1.8h-1.8zM253.93 109.32h1.8v1.8h-1.8zM264.62 115.44h1.8v1.8h-1.8zM267.58 108.26h1.8v1.8h-1.8zM268.08 111.61h1.8v1.8h-1.8zM263.54 108.46h1.8v1.8h-1.8zM260.4 112.56h1.8v1.8h-1.8zM254.72 104.01h1.8v1.8h-1.8zM262.13 98.58h1.8v1.8h-1.8zM259.05 95.04h1.8v1.8h-1.8zM257.32 111.79h1.8v1.8h-1.8zM266.06 107.75h1.8v1.8h-1.8zM260.48 98.89h1.8v1.8h-1.8zM274.89 111.45h1.8v1.8h-1.8zM269.75 102.36h1.8v1.8h-1.8zM260.8 96.27h1.8v1.8h-1.8zM267.56 114.18h1.8v1.8h-1.8zM266.51 96.65h1.8v1.8h-1.8zM257.7 98.98h1.8v1.8h-1.8zM262.32 109.72h1.8v1.8h-1.8zM266.54 112.66h1.8v1.8h-1.8zM272.62 115.67h1.8v1.8h-1.8zM252.92 104.81h1.8v1.8h-1.8zM254.68 101.1h1.8v1.8h-1.8zM261.53 108.14h1.8v1.8h-1.8zM271.84 94.83h1.8v1.8h-1.8zM264.18 92.06h1.8v1.8h-1.8zM268.24 85.96h1.8v1.8h-1.8zM270.26 88.38h1.8v1.8h-1.8zM253.04 88.55h1.8v1.8h-1.8zM270.06 87.77h1.8v1.8h-1.8zM270.34 97.78h1.8v1.8h-1.8zM263.94 90.07h1.8v1.8h-1.8zM263.55 93.99h1.8v1.8h-1.8zM271.04 93.12h1.8v1.8h-1.8zM267.81 86.11h1.8v1.8h-1.8zM254.93 88.4h1.8v1.8h-1.8zM270.42 89.06h1.8v1.8h-1.8zM265.86 85.26h1.8v1.8h-1.8zM252.68 88.59h1.8v1.8h-1.8zM268.57 94.1h1.8v1.8h-1.8zM268.67 88.88h1.8v1.8h-1.8zM264.53 91.14h1.8v1.8h-1.8zM263.22 86.64h1.8v1.8h-1.8zM274.34 87.69h1.8v1.8h-1.8zM276.53 97.27h1.8v1.8h-1.8zM251.56 91.07h1.8v1.8h-1.8z" fill="#000"/>
<rect x="406" y="11.25" width="104.75" height="107" fill="none" stroke="#000" stroke-width="1.6"/>
<line x1="444.75" y1="11.25" x2="444.75" y2="118.25" stroke="#000" stroke-width="1.5"/>
<line x1="406" y1="84" x2="510.75" y2="84" stroke="#000" stroke-width="1.5"/>
<line x1="405.2" y1="118.05" x2="399.7" y2="118.05" stroke="#000" stroke-width="1.25"/>
<line x1="405.2" y1="110.13" x2="402.4" y2="110.13" stroke="#000" stroke-width="1.25"/>
<line x1="405.2" y1="105.5" x2="402.4" y2="105.5" stroke="#000" stroke-width="1.25"/>
<line x1="405.2" y1="102.22" x2="402.4" y2="102.22" stroke="#000" stroke-width="1.25"/>
<line x1="405.2" y1="99.67" x2="402.4" y2="99.67" stroke="#000" stroke-width="1.25"/>
<line x1="405.2" y1="97.58" x2="402.4" y2="97.58" stroke="#000" stroke-width="1.25"/>
<line x1="405.2" y1="95.82" x2="402.4" y2="95.82" stroke="#000" stroke-width="1.25"/>
<line x1="405.2" y1="94.3" x2="402.4" y2="94.3" stroke="#000" stroke-width="1.25"/>
<line x1="405.2" y1="92.95" x2="402.4" y2="92.95" stroke="#000" stroke-width="1.25"/>
<line x1="405.2" y1="91.75" x2="399.7" y2="91.75" stroke="#000" stroke-width="1.25"/>
<line x1="405.2" y1="83.83" x2="402.4" y2="83.83" stroke="#000" stroke-width="1.25"/>
<line x1="405.2" y1="79.2" x2="402.4" y2="79.2" stroke="#000" stroke-width="1.25"/>
<line x1="405.2" y1="75.92" x2="402.4" y2="75.92" stroke="#000" stroke-width="1.25"/>
<line x1="405.2" y1="73.37" x2="402.4" y2="73.37" stroke="#000" stroke-width="1.25"/>
<line x1="405.2" y1="71.28" x2="402.4" y2="71.28" stroke="#000" stroke-width="1.25"/>
<line x1="405.2" y1="69.52" x2="402.4" y2="69.52" stroke="#000" stroke-width="1.25"/>
<line x1="405.2" y1="68" x2="402.4" y2="68" stroke="#000" stroke-width="1.25"/>
<line x1="405.2" y1="66.65" x2="402.4" y2="66.65" stroke="#000" stroke-width="1.25"/>
<line x1="405.2" y1="65.45" x2="399.7" y2="65.45" stroke="#000" stroke-width="1.25"/>
<line x1="405.2" y1="57.53" x2="402.4" y2="57.53" stroke="#000" stroke-width="1.25"/>
<line x1="405.2" y1="52.9" x2="402.4" y2="52.9" stroke="#000" stroke-width="1.25"/>
<line x1="405.2" y1="49.62" x2="402.4" y2="49.62" stroke="#000" stroke-width="1.25"/>
<line x1="405.2" y1="47.07" x2="402.4" y2="47.07" stroke="#000" stroke-width="1.25"/>
<line x1="405.2" y1="44.98" x2="402.4" y2="44.98" stroke="#000" stroke-width="1.25"/>
<line x1="405.2" y1="43.22" x2="402.4" y2="43.22" stroke="#000" stroke-width="1.25"/>
<line x1="405.2" y1="41.7" x2="402.4" y2="41.7" stroke="#000" stroke-width="1.25"/>
<line x1="405.2" y1="40.35" x2="402.4" y2="40.35" stroke="#000" stroke-width="1.25"/>
<line x1="405.2" y1="39.15" x2="399.7" y2="39.15" stroke="#000" stroke-width="1.25"/>
<line x1="405.2" y1="31.23" x2="402.4" y2="31.23" stroke="#000" stroke-width="1.25"/>
<line x1="405.2" y1="26.6" x2="402.4" y2="26.6" stroke="#000" stroke-width="1.25"/>
<line x1="405.2" y1="23.32" x2="402.4" y2="23.32" stroke="#000" stroke-width="1.25"/>
<line x1="405.2" y1="20.77" x2="402.4" y2="20.77" stroke="#000" stroke-width="1.25"/>
<line x1="405.2" y1="18.68" x2="402.4" y2="18.68" stroke="#000" stroke-width="1.25"/>
<line x1="405.2" y1="16.92" x2="402.4" y2="16.92" stroke="#000" stroke-width="1.25"/>
<line x1="405.2" y1="15.4" x2="402.4" y2="15.4" stroke="#000" stroke-width="1.25"/>
<line x1="405.2" y1="14.05" x2="402.4" y2="14.05" stroke="#000" stroke-width="1.25"/>
<line x1="405.2" y1="12.85" x2="399.7" y2="12.85" stroke="#000" stroke-width="1.25"/>
<line x1="407.5" y1="119.05" x2="407.5" y2="124.55" stroke="#000" stroke-width="1.25"/>
<line x1="415.21" y1="119.05" x2="415.21" y2="121.85" stroke="#000" stroke-width="1.25"/>
<line x1="419.72" y1="119.05" x2="419.72" y2="121.85" stroke="#000" stroke-width="1.25"/>
<line x1="422.92" y1="119.05" x2="422.92" y2="121.85" stroke="#000" stroke-width="1.25"/>
<line x1="425.4" y1="119.05" x2="425.4" y2="121.85" stroke="#000" stroke-width="1.25"/>
<line x1="427.43" y1="119.05" x2="427.43" y2="121.85" stroke="#000" stroke-width="1.25"/>
<line x1="429.15" y1="119.05" x2="429.15" y2="121.85" stroke="#000" stroke-width="1.25"/>
<line x1="430.63" y1="119.05" x2="430.63" y2="121.85" stroke="#000" stroke-width="1.25"/>
<line x1="431.94" y1="119.05" x2="431.94" y2="121.85" stroke="#000" stroke-width="1.25"/>
<line x1="433.11" y1="119.05" x2="433.11" y2="124.55" stroke="#000" stroke-width="1.25"/>
<line x1="440.82" y1="119.05" x2="440.82" y2="121.85" stroke="#000" stroke-width="1.25"/>
<line x1="445.33" y1="119.05" x2="445.33" y2="121.85" stroke="#000" stroke-width="1.25"/>
<line x1="448.53" y1="119.05" x2="448.53" y2="121.85" stroke="#000" stroke-width="1.25"/>
<line x1="451.01" y1="119.05" x2="451.01" y2="121.85" stroke="#000" stroke-width="1.25"/>
<line x1="453.04" y1="119.05" x2="453.04" y2="121.85" stroke="#000" stroke-width="1.25"/>
<line x1="454.76" y1="119.05" x2="454.76" y2="121.85" stroke="#000" stroke-width="1.25"/>
<line x1="456.24" y1="119.05" x2="456.24" y2="121.85" stroke="#000" stroke-width="1.25"/>
<line x1="457.55" y1="119.05" x2="457.55" y2="121.85" stroke="#000" stroke-width="1.25"/>
<line x1="458.73" y1="119.05" x2="458.73" y2="124.55" stroke="#000" stroke-width="1.25"/>
<line x1="466.44" y1="119.05" x2="466.44" y2="121.85" stroke="#000" stroke-width="1.25"/>
<line x1="470.95" y1="119.05" x2="470.95" y2="121.85" stroke="#000" stroke-width="1.25"/>
<line x1="474.15" y1="119.05" x2="474.15" y2="121.85" stroke="#000" stroke-width="1.25"/>
<line x1="476.63" y1="119.05" x2="476.63" y2="121.85" stroke="#000" stroke-width="1.25"/>
<line x1="478.66" y1="119.05" x2="478.66" y2="121.85" stroke="#000" stroke-width="1.25"/>
<line x1="480.37" y1="119.05" x2="480.37" y2="121.85" stroke="#000" stroke-width="1.25"/>
<line x1="481.86" y1="119.05" x2="481.86" y2="121.85" stroke="#000" stroke-width="1.25"/>
<line x1="483.17" y1="119.05" x2="483.17" y2="121.85" stroke="#000" stroke-width="1.25"/>
<line x1="484.34" y1="119.05" x2="484.34" y2="124.55" stroke="#000" stroke-width="1.25"/>
<line x1="492.05" y1="119.05" x2="492.05" y2="121.85" stroke="#000" stroke-width="1.25"/>
<line x1="496.56" y1="119.05" x2="496.56" y2="121.85" stroke="#000" stroke-width="1.25"/>
<line x1="499.76" y1="119.05" x2="499.76" y2="121.85" stroke="#000" stroke-width="1.25"/>
<line x1="502.24" y1="119.05" x2="502.24" y2="121.85" stroke="#000" stroke-width="1.25"/>
<line x1="504.27" y1="119.05" x2="504.27" y2="121.85" stroke="#000" stroke-width="1.25"/>
<line x1="505.98" y1="119.05" x2="505.98" y2="121.85" stroke="#000" stroke-width="1.25"/>
<line x1="507.47" y1="119.05" x2="507.47" y2="121.85" stroke="#000" stroke-width="1.25"/>
<line x1="508.78" y1="119.05" x2="508.78" y2="121.85" stroke="#000" stroke-width="1.25"/>
<line x1="509.95" y1="119.05" x2="509.95" y2="124.55" stroke="#000" stroke-width="1.25"/>
<text transform="translate(396.3,117.05) rotate(-90) scale(0.87,1)" font-family="'Liberation Sans', sans-serif" font-size="14.2" text-anchor="middle">1<tspan dx="-1.8">0</tspan><tspan dx="2" dy="-6.6" font-size="12">0</tspan></text>
<text transform="translate(396.3,90.75) rotate(-90) scale(0.87,1)" font-family="'Liberation Sans', sans-serif" font-size="14.2" text-anchor="middle">1<tspan dx="-1.8">0</tspan><tspan dx="2" dy="-6.6" font-size="12">1</tspan></text>
<text transform="translate(396.3,64.45) rotate(-90) scale(0.87,1)" font-family="'Liberation Sans', sans-serif" font-size="14.2" text-anchor="middle">1<tspan dx="-1.8">0</tspan><tspan dx="2" dy="-6.6" font-size="12">2</tspan></text>
<text transform="translate(396.3,38.15) rotate(-90) scale(0.87,1)" font-family="'Liberation Sans', sans-serif" font-size="14.2" text-anchor="middle">1<tspan dx="-1.8">0</tspan><tspan dx="2" dy="-6.6" font-size="12">3</tspan></text>
<text transform="translate(396.3,11.85) rotate(-90) scale(0.87,1)" font-family="'Liberation Sans', sans-serif" font-size="14.2" text-anchor="middle">1<tspan dx="-1.8">0</tspan><tspan dx="2" dy="-6.6" font-size="12">4</tspan></text>
<text x="407.5" y="139.25" font-family="'Liberation Sans', sans-serif" font-size="14.2" text-anchor="middle">1<tspan dx="-1.8">0</tspan><tspan dx="0.6" dy="-7" font-size="12">0</tspan></text>
<text x="433.11" y="139.25" font-family="'Liberation Sans', sans-serif" font-size="14.2" text-anchor="middle">1<tspan dx="-1.8">0</tspan><tspan dx="0.6" dy="-7" font-size="12">1</tspan></text>
<text x="458.73" y="139.25" font-family="'Liberation Sans', sans-serif" font-size="14.2" text-anchor="middle">1<tspan dx="-1.8">0</tspan><tspan dx="0.6" dy="-7" font-size="12">2</tspan></text>
<text x="484.34" y="139.25" font-family="'Liberation Sans', sans-serif" font-size="14.2" text-anchor="middle">1<tspan dx="-1.8">0</tspan><tspan dx="0.6" dy="-7" font-size="12">3</tspan></text>
<text x="509.95" y="139.25" font-family="'Liberation Sans', sans-serif" font-size="14.2" text-anchor="middle">1<tspan dx="-1.8">0</tspan><tspan dx="0.6" dy="-7" font-size="12">4</tspan></text>
<text transform="translate(378.3,71.5) rotate(-90)" font-family="'Liberation Sans', sans-serif" font-size="13.5" text-anchor="middle">CD19-PC5</text>
<text x="429" y="153.55" font-family="'Liberation Sans', sans-serif" font-size="13.3" text-anchor="start" >CD33-PE</text>
<text x="407.6" y="23.8" font-family="'Liberation Serif', serif" font-size="13.5" text-anchor="start"  class="s">14</text>
<text x="495.5" y="116" font-family="'Liberation Serif', serif" font-size="14.2" text-anchor="start"  class="s">69</text>
<path d="M431.8 50.8h1.8v1.8h-1.8zM435.8 52.3h1.8v1.8h-1.8zM427.6 53.8h1.8v1.8h-1.8zM429.1 53.8h1.8v1.8h-1.8zM424.9 56.8h1.8v1.8h-1.8zM421.6 57.8h1.8v1.8h-1.8zM423.1 60.8h1.8v1.8h-1.8zM407.8 59.3h1.8v1.8h-1.8zM414.8 61.9h1.8v1.8h-1.8zM439.9 63.5h1.8v1.8h-1.8zM429.8 63.4h1.8v1.8h-1.8zM427.6 64.9h1.8v1.8h-1.8zM430.6 65.3h1.8v1.8h-1.8zM431.8 66.5h1.8v1.8h-1.8zM407.8 66.1h1.8v1.8h-1.8zM408.8 69.1h1.8v1.8h-1.8zM414.8 69.1h1.8v1.8h-1.8zM429.8 75.8h1.8v1.8h-1.8zM433.3 77.8h1.8v1.8h-1.8zM437.3 75.8h1.8v1.8h-1.8zM420.4 80.3h1.8v1.8h-1.8zM445.6 78.8h1.8v1.8h-1.8zM470.3 50.8h1.8v1.8h-1.8zM476.3 74.3h1.8v1.8h-1.8z" fill="#000"/>
<path d="M427.6 87.3h1.8v1.8h-1.8zM438.8 87.3h1.8v1.8h-1.8zM434.3 91.8h1.8v1.8h-1.8zM435.8 97.1h1.8v1.8h-1.8zM431.3 98.6h1.8v1.8h-1.8zM431.3 101.6h1.8v1.8h-1.8zM438.1 101.6h1.8v1.8h-1.8zM438.8 103.1h1.8v1.8h-1.8zM440.3 104.6h1.8v1.8h-1.8zM441.1 106.8h1.8v1.8h-1.8zM428.3 106.8h1.8v1.8h-1.8zM426.1 109.1h1.8v1.8h-1.8zM427.6 109.8h1.8v1.8h-1.8zM420.1 110.9h1.8v1.8h-1.8zM430.6 111.3h1.8v1.8h-1.8zM432.8 112.1h1.8v1.8h-1.8zM435.1 110.6h1.8v1.8h-1.8zM439.6 112.8h1.8v1.8h-1.8zM429.1 115.1h1.8v1.8h-1.8zM435.8 114.3h1.8v1.8h-1.8zM438.1 114.8h1.8v1.8h-1.8zM423.1 116.1h1.8v1.8h-1.8zM430.1 116.1h1.8v1.8h-1.8zM433.1 116.1h1.8v1.8h-1.8z" fill="#000"/>
<path d="M463.24 86.09h1.8v1.8h-1.8zM452.97 107.08h1.8v1.8h-1.8zM458.87 115.34h1.8v1.8h-1.8zM461.32 112.68h1.8v1.8h-1.8zM459.91 103.85h1.8v1.8h-1.8zM459.9 96.47h1.8v1.8h-1.8zM463.6 96.96h1.8v1.8h-1.8zM455.87 105.26h1.8v1.8h-1.8zM463.5 105.31h1.8v1.8h-1.8zM452.66 107.17h1.8v1.8h-1.8zM460.3 110.78h1.8v1.8h-1.8zM466.27 105.25h1.8v1.8h-1.8zM458.58 101.67h1.8v1.8h-1.8zM464.88 99.46h1.8v1.8h-1.8zM460.81 101.26h1.8v1.8h-1.8zM453.28 110.85h1.8v1.8h-1.8zM464.44 105.02h1.8v1.8h-1.8zM453.37 111.59h1.8v1.8h-1.8zM456.83 107.59h1.8v1.8h-1.8zM465.48 114.15h1.8v1.8h-1.8zM457.12 111.39h1.8v1.8h-1.8zM453.54 104.74h1.8v1.8h-1.8zM464.61 95.38h1.8v1.8h-1.8zM448.82 92.13h1.8v1.8h-1.8zM463.57 101.42h1.8v1.8h-1.8zM456.77 102.6h1.8v1.8h-1.8zM456.43 96.39h1.8v1.8h-1.8zM457.23 93.6h1.8v1.8h-1.8zM456.71 107.57h1.8v1.8h-1.8zM459.67 103.25h1.8v1.8h-1.8zM452.13 106.38h1.8v1.8h-1.8zM461.32 104.18h1.8v1.8h-1.8zM454.51 99.48h1.8v1.8h-1.8zM451.95 102.28h1.8v1.8h-1.8zM458.72 109.22h1.8v1.8h-1.8zM453.22 105.2h1.8v1.8h-1.8zM472.47 90.16h1.8v1.8h-1.8zM454.23 106.46h1.8v1.8h-1.8zM457.95 108.36h1.8v1.8h-1.8zM455.79 108.03h1.8v1.8h-1.8zM457.39 111.27h1.8v1.8h-1.8zM446.69 98.02h1.8v1.8h-1.8zM457.09 96.85h1.8v1.8h-1.8zM451.35 110.12h1.8v1.8h-1.8zM453.53 110.18h1.8v1.8h-1.8zM461.2 107.55h1.8v1.8h-1.8zM459.89 104.26h1.8v1.8h-1.8zM449.35 104.86h1.8v1.8h-1.8zM459.6 100.86h1.8v1.8h-1.8zM456.55 111.09h1.8v1.8h-1.8zM452.27 110.22h1.8v1.8h-1.8zM467.34 100.66h1.8v1.8h-1.8zM457.91 103.9h1.8v1.8h-1.8zM465.57 107.63h1.8v1.8h-1.8zM462.04 99.58h1.8v1.8h-1.8zM457.01 105.02h1.8v1.8h-1.8zM462.05 91.11h1.8v1.8h-1.8zM461.19 104.05h1.8v1.8h-1.8zM459.57 108.03h1.8v1.8h-1.8zM448.86 103.4h1.8v1.8h-1.8zM465.31 100.5h1.8v1.8h-1.8zM451.47 94.22h1.8v1.8h-1.8zM450.38 107.78h1.8v1.8h-1.8zM466.41 108.54h1.8v1.8h-1.8zM454.24 99.71h1.8v1.8h-1.8zM460.01 109.49h1.8v1.8h-1.8zM451.52 95.74h1.8v1.8h-1.8zM458.7 107.08h1.8v1.8h-1.8zM449.91 103.48h1.8v1.8h-1.8zM454.12 108.78h1.8v1.8h-1.8zM460.92 87.4h1.8v1.8h-1.8zM454.03 100.46h1.8v1.8h-1.8zM469.16 105.79h1.8v1.8h-1.8zM467.43 100.88h1.8v1.8h-1.8zM452.5 94.26h1.8v1.8h-1.8zM469.19 107.53h1.8v1.8h-1.8zM454.17 87.73h1.8v1.8h-1.8zM458.56 106.66h1.8v1.8h-1.8zM456.76 94.56h1.8v1.8h-1.8zM462.45 113.93h1.8v1.8h-1.8zM452.32 88.09h1.8v1.8h-1.8zM454.88 99.3h1.8v1.8h-1.8zM462.8 92.84h1.8v1.8h-1.8zM465.43 108.53h1.8v1.8h-1.8zM458.71 93.05h1.8v1.8h-1.8zM469.41 96.14h1.8v1.8h-1.8zM465.96 93.79h1.8v1.8h-1.8zM452.19 109.15h1.8v1.8h-1.8zM453.88 114.71h1.8v1.8h-1.8zM458.5 92.53h1.8v1.8h-1.8zM452.24 99.19h1.8v1.8h-1.8zM462.4 114.61h1.8v1.8h-1.8zM450.47 98.51h1.8v1.8h-1.8zM452 115.35h1.8v1.8h-1.8zM450.36 88.6h1.8v1.8h-1.8zM448.48 98.51h1.8v1.8h-1.8zM467.76 112.72h1.8v1.8h-1.8zM463.95 116.03h1.8v1.8h-1.8zM468.53 96.65h1.8v1.8h-1.8zM451.37 114.24h1.8v1.8h-1.8zM464.27 88.02h1.8v1.8h-1.8zM462.38 98.08h1.8v1.8h-1.8zM455.7 96.72h1.8v1.8h-1.8zM450.99 87.18h1.8v1.8h-1.8zM453.54 97.29h1.8v1.8h-1.8zM469.08 90.69h1.8v1.8h-1.8zM469.28 93.11h1.8v1.8h-1.8zM455.3 110.93h1.8v1.8h-1.8zM466.01 99.64h1.8v1.8h-1.8zM448.23 100.83h1.8v1.8h-1.8zM423.03 116.6h1.8v1.8h-1.8zM417.28 115.87h1.8v1.8h-1.8zM439.8 115.44h1.8v1.8h-1.8zM424.25 116.46h1.8v1.8h-1.8zM435.63 115.45h1.8v1.8h-1.8zM412.22 115.48h1.8v1.8h-1.8zM440.54 115.73h1.8v1.8h-1.8zM435.01 116.57h1.8v1.8h-1.8zM421.95 115.75h1.8v1.8h-1.8zM441.75 116.2h1.8v1.8h-1.8zM452.13 116.33h1.8v1.8h-1.8zM453.38 115.76h1.8v1.8h-1.8zM446.19 116.38h1.8v1.8h-1.8zM467.18 116.22h1.8v1.8h-1.8zM467.79 115.43h1.8v1.8h-1.8zM451.48 116.02h1.8v1.8h-1.8zM468.11 116.64h1.8v1.8h-1.8zM454.99 115.73h1.8v1.8h-1.8zM455.99 116.04h1.8v1.8h-1.8zM467.45 115.64h1.8v1.8h-1.8zM464.56 116.36h1.8v1.8h-1.8zM465.02 116.4h1.8v1.8h-1.8z" fill="#000"/>
<rect x="252.25" y="192.75" width="105" height="101.75" fill="none" stroke="#000" stroke-width="1.6"/>
<line x1="291.5" y1="192.75" x2="291.5" y2="294.5" stroke="#000" stroke-width="1.5"/>
<line x1="252.25" y1="255.75" x2="357.25" y2="255.75" stroke="#000" stroke-width="1.5"/>
<line x1="251.45" y1="294.3" x2="245.95" y2="294.3" stroke="#000" stroke-width="1.25"/>
<line x1="251.45" y1="286.78" x2="248.65" y2="286.78" stroke="#000" stroke-width="1.25"/>
<line x1="251.45" y1="282.38" x2="248.65" y2="282.38" stroke="#000" stroke-width="1.25"/>
<line x1="251.45" y1="279.26" x2="248.65" y2="279.26" stroke="#000" stroke-width="1.25"/>
<line x1="251.45" y1="276.83" x2="248.65" y2="276.83" stroke="#000" stroke-width="1.25"/>
<line x1="251.45" y1="274.86" x2="248.65" y2="274.86" stroke="#000" stroke-width="1.25"/>
<line x1="251.45" y1="273.18" x2="248.65" y2="273.18" stroke="#000" stroke-width="1.25"/>
<line x1="251.45" y1="271.73" x2="248.65" y2="271.73" stroke="#000" stroke-width="1.25"/>
<line x1="251.45" y1="270.46" x2="248.65" y2="270.46" stroke="#000" stroke-width="1.25"/>
<line x1="251.45" y1="269.31" x2="245.95" y2="269.31" stroke="#000" stroke-width="1.25"/>
<line x1="251.45" y1="261.79" x2="248.65" y2="261.79" stroke="#000" stroke-width="1.25"/>
<line x1="251.45" y1="257.39" x2="248.65" y2="257.39" stroke="#000" stroke-width="1.25"/>
<line x1="251.45" y1="254.27" x2="248.65" y2="254.27" stroke="#000" stroke-width="1.25"/>
<line x1="251.45" y1="251.85" x2="248.65" y2="251.85" stroke="#000" stroke-width="1.25"/>
<line x1="251.45" y1="249.87" x2="248.65" y2="249.87" stroke="#000" stroke-width="1.25"/>
<line x1="251.45" y1="248.2" x2="248.65" y2="248.2" stroke="#000" stroke-width="1.25"/>
<line x1="251.45" y1="246.75" x2="248.65" y2="246.75" stroke="#000" stroke-width="1.25"/>
<line x1="251.45" y1="245.47" x2="248.65" y2="245.47" stroke="#000" stroke-width="1.25"/>
<line x1="251.45" y1="244.32" x2="245.95" y2="244.32" stroke="#000" stroke-width="1.25"/>
<line x1="251.45" y1="236.8" x2="248.65" y2="236.8" stroke="#000" stroke-width="1.25"/>
<line x1="251.45" y1="232.4" x2="248.65" y2="232.4" stroke="#000" stroke-width="1.25"/>
<line x1="251.45" y1="229.28" x2="248.65" y2="229.28" stroke="#000" stroke-width="1.25"/>
<line x1="251.45" y1="226.86" x2="248.65" y2="226.86" stroke="#000" stroke-width="1.25"/>
<line x1="251.45" y1="224.88" x2="248.65" y2="224.88" stroke="#000" stroke-width="1.25"/>
<line x1="251.45" y1="223.21" x2="248.65" y2="223.21" stroke="#000" stroke-width="1.25"/>
<line x1="251.45" y1="221.76" x2="248.65" y2="221.76" stroke="#000" stroke-width="1.25"/>
<line x1="251.45" y1="220.48" x2="248.65" y2="220.48" stroke="#000" stroke-width="1.25"/>
<line x1="251.45" y1="219.34" x2="245.95" y2="219.34" stroke="#000" stroke-width="1.25"/>
<line x1="251.45" y1="211.82" x2="248.65" y2="211.82" stroke="#000" stroke-width="1.25"/>
<line x1="251.45" y1="207.42" x2="248.65" y2="207.42" stroke="#000" stroke-width="1.25"/>
<line x1="251.45" y1="204.29" x2="248.65" y2="204.29" stroke="#000" stroke-width="1.25"/>
<line x1="251.45" y1="201.87" x2="248.65" y2="201.87" stroke="#000" stroke-width="1.25"/>
<line x1="251.45" y1="199.89" x2="248.65" y2="199.89" stroke="#000" stroke-width="1.25"/>
<line x1="251.45" y1="198.22" x2="248.65" y2="198.22" stroke="#000" stroke-width="1.25"/>
<line x1="251.45" y1="196.77" x2="248.65" y2="196.77" stroke="#000" stroke-width="1.25"/>
<line x1="251.45" y1="195.49" x2="248.65" y2="195.49" stroke="#000" stroke-width="1.25"/>
<line x1="251.45" y1="194.35" x2="245.95" y2="194.35" stroke="#000" stroke-width="1.25"/>
<line x1="253.75" y1="295.3" x2="253.75" y2="300.8" stroke="#000" stroke-width="1.25"/>
<line x1="261.48" y1="295.3" x2="261.48" y2="298.1" stroke="#000" stroke-width="1.25"/>
<line x1="266" y1="295.3" x2="266" y2="298.1" stroke="#000" stroke-width="1.25"/>
<line x1="269.21" y1="295.3" x2="269.21" y2="298.1" stroke="#000" stroke-width="1.25"/>
<line x1="271.7" y1="295.3" x2="271.7" y2="298.1" stroke="#000" stroke-width="1.25"/>
<line x1="273.73" y1="295.3" x2="273.73" y2="298.1" stroke="#000" stroke-width="1.25"/>
<line x1="275.45" y1="295.3" x2="275.45" y2="298.1" stroke="#000" stroke-width="1.25"/>
<line x1="276.94" y1="295.3" x2="276.94" y2="298.1" stroke="#000" stroke-width="1.25"/>
<line x1="278.25" y1="295.3" x2="278.25" y2="298.1" stroke="#000" stroke-width="1.25"/>
<line x1="279.43" y1="295.3" x2="279.43" y2="300.8" stroke="#000" stroke-width="1.25"/>
<line x1="287.15" y1="295.3" x2="287.15" y2="298.1" stroke="#000" stroke-width="1.25"/>
<line x1="291.68" y1="295.3" x2="291.68" y2="298.1" stroke="#000" stroke-width="1.25"/>
<line x1="294.88" y1="295.3" x2="294.88" y2="298.1" stroke="#000" stroke-width="1.25"/>
<line x1="297.37" y1="295.3" x2="297.37" y2="298.1" stroke="#000" stroke-width="1.25"/>
<line x1="299.4" y1="295.3" x2="299.4" y2="298.1" stroke="#000" stroke-width="1.25"/>
<line x1="301.12" y1="295.3" x2="301.12" y2="298.1" stroke="#000" stroke-width="1.25"/>
<line x1="302.61" y1="295.3" x2="302.61" y2="298.1" stroke="#000" stroke-width="1.25"/>
<line x1="303.93" y1="295.3" x2="303.93" y2="298.1" stroke="#000" stroke-width="1.25"/>
<line x1="305.1" y1="295.3" x2="305.1" y2="300.8" stroke="#000" stroke-width="1.25"/>
<line x1="312.83" y1="295.3" x2="312.83" y2="298.1" stroke="#000" stroke-width="1.25"/>
<line x1="317.35" y1="295.3" x2="317.35" y2="298.1" stroke="#000" stroke-width="1.25"/>
<line x1="320.56" y1="295.3" x2="320.56" y2="298.1" stroke="#000" stroke-width="1.25"/>
<line x1="323.05" y1="295.3" x2="323.05" y2="298.1" stroke="#000" stroke-width="1.25"/>
<line x1="325.08" y1="295.3" x2="325.08" y2="298.1" stroke="#000" stroke-width="1.25"/>
<line x1="326.8" y1="295.3" x2="326.8" y2="298.1" stroke="#000" stroke-width="1.25"/>
<line x1="328.29" y1="295.3" x2="328.29" y2="298.1" stroke="#000" stroke-width="1.25"/>
<line x1="329.6" y1="295.3" x2="329.6" y2="298.1" stroke="#000" stroke-width="1.25"/>
<line x1="330.77" y1="295.3" x2="330.77" y2="300.8" stroke="#000" stroke-width="1.25"/>
<line x1="338.5" y1="295.3" x2="338.5" y2="298.1" stroke="#000" stroke-width="1.25"/>
<line x1="343.03" y1="295.3" x2="343.03" y2="298.1" stroke="#000" stroke-width="1.25"/>
<line x1="346.23" y1="295.3" x2="346.23" y2="298.1" stroke="#000" stroke-width="1.25"/>
<line x1="348.72" y1="295.3" x2="348.72" y2="298.1" stroke="#000" stroke-width="1.25"/>
<line x1="350.75" y1="295.3" x2="350.75" y2="298.1" stroke="#000" stroke-width="1.25"/>
<line x1="352.47" y1="295.3" x2="352.47" y2="298.1" stroke="#000" stroke-width="1.25"/>
<line x1="353.96" y1="295.3" x2="353.96" y2="298.1" stroke="#000" stroke-width="1.25"/>
<line x1="355.28" y1="295.3" x2="355.28" y2="298.1" stroke="#000" stroke-width="1.25"/>
<line x1="356.45" y1="295.3" x2="356.45" y2="300.8" stroke="#000" stroke-width="1.25"/>
<text transform="translate(242.55,293.3) rotate(-90) scale(0.87,1)" font-family="'Liberation Sans', sans-serif" font-size="14.2" text-anchor="middle">1<tspan dx="-1.8">0</tspan><tspan dx="2" dy="-6.6" font-size="12">0</tspan></text>
<text transform="translate(242.55,268.31) rotate(-90) scale(0.87,1)" font-family="'Liberation Sans', sans-serif" font-size="14.2" text-anchor="middle">1<tspan dx="-1.8">0</tspan><tspan dx="2" dy="-6.6" font-size="12">1</tspan></text>
<text transform="translate(242.55,243.32) rotate(-90) scale(0.87,1)" font-family="'Liberation Sans', sans-serif" font-size="14.2" text-anchor="middle">1<tspan dx="-1.8">0</tspan><tspan dx="2" dy="-6.6" font-size="12">2</tspan></text>
<text transform="translate(242.55,218.34) rotate(-90) scale(0.87,1)" font-family="'Liberation Sans', sans-serif" font-size="14.2" text-anchor="middle">1<tspan dx="-1.8">0</tspan><tspan dx="2" dy="-6.6" font-size="12">3</tspan></text>
<text transform="translate(242.55,193.35) rotate(-90) scale(0.87,1)" font-family="'Liberation Sans', sans-serif" font-size="14.2" text-anchor="middle">1<tspan dx="-1.8">0</tspan><tspan dx="2" dy="-6.6" font-size="12">4</tspan></text>
<clipPath id="c3"><rect x="0" y="0" width="361.8" height="334"/></clipPath><g clip-path="url(#c3)">
<text x="253.75" y="315.5" font-family="'Liberation Sans', sans-serif" font-size="14.2" text-anchor="middle">1<tspan dx="-1.8">0</tspan><tspan dx="0.6" dy="-7" font-size="12">0</tspan></text>
<text x="279.43" y="315.5" font-family="'Liberation Sans', sans-serif" font-size="14.2" text-anchor="middle">1<tspan dx="-1.8">0</tspan><tspan dx="0.6" dy="-7" font-size="12">1</tspan></text>
<text x="305.1" y="315.5" font-family="'Liberation Sans', sans-serif" font-size="14.2" text-anchor="middle">1<tspan dx="-1.8">0</tspan><tspan dx="0.6" dy="-7" font-size="12">2</tspan></text>
<text x="330.77" y="315.5" font-family="'Liberation Sans', sans-serif" font-size="14.2" text-anchor="middle">1<tspan dx="-1.8">0</tspan><tspan dx="0.6" dy="-7" font-size="12">3</tspan></text>
<text x="356.45" y="315.5" font-family="'Liberation Sans', sans-serif" font-size="14.2" text-anchor="middle">1<tspan dx="-1.8">0</tspan><tspan dx="0.6" dy="-7" font-size="12">4</tspan></text>
</g>
<text transform="translate(224.55,248.5) rotate(-90)" font-family="'Liberation Sans', sans-serif" font-size="13.5" text-anchor="middle">CD56-PC5</text>
<text x="280" y="329.8" font-family="'Liberation Sans', sans-serif" font-size="13.7" text-anchor="start" >CD3-PE</text>
<text x="255.4" y="206.5" font-family="'Liberation Serif', serif" font-size="13.8" text-anchor="start"  class="s">5</text>
<text x="342.8" y="292" font-family="'Liberation Serif', serif" font-size="14" text-anchor="start"  class="s">31</text>
<path d="M272.34 274.29h1.8v1.8h-1.8zM262.99 275.15h1.8v1.8h-1.8zM278.02 268.08h1.8v1.8h-1.8zM259.01 284.92h1.8v1.8h-1.8zM260.64 267.72h1.8v1.8h-1.8zM253.7 279.91h1.8v1.8h-1.8zM263.19 290.61h1.8v1.8h-1.8zM281.31 290.8h1.8v1.8h-1.8zM261.21 268.2h1.8v1.8h-1.8zM255.73 278.56h1.8v1.8h-1.8zM275.67 277.27h1.8v1.8h-1.8zM260.21 276.52h1.8v1.8h-1.8zM272.76 282.95h1.8v1.8h-1.8zM276.91 287.27h1.8v1.8h-1.8zM274.19 269.13h1.8v1.8h-1.8zM279.93 273.44h1.8v1.8h-1.8zM271.02 275.42h1.8v1.8h-1.8zM276.59 271.08h1.8v1.8h-1.8zM260.64 272.23h1.8v1.8h-1.8zM257.58 288.2h1.8v1.8h-1.8zM271.39 274.26h1.8v1.8h-1.8zM265.47 290.91h1.8v1.8h-1.8zM269.09 271.88h1.8v1.8h-1.8zM278.87 282.43h1.8v1.8h-1.8zM284.81 268.66h1.8v1.8h-1.8zM268.03 286.58h1.8v1.8h-1.8zM279.92 288.96h1.8v1.8h-1.8zM253.91 273.44h1.8v1.8h-1.8zM256.47 270.84h1.8v1.8h-1.8zM284.22 280.68h1.8v1.8h-1.8zM282.83 275.41h1.8v1.8h-1.8zM280.75 277.33h1.8v1.8h-1.8zM261.05 285.54h1.8v1.8h-1.8zM283.34 268.74h1.8v1.8h-1.8zM271.97 281.6h1.8v1.8h-1.8zM259.67 275.32h1.8v1.8h-1.8zM257.19 271.2h1.8v1.8h-1.8zM260.88 281.09h1.8v1.8h-1.8zM273.78 271.19h1.8v1.8h-1.8zM252.97 274.28h1.8v1.8h-1.8zM274.65 270.73h1.8v1.8h-1.8zM262.75 271.19h1.8v1.8h-1.8zM278.45 279.8h1.8v1.8h-1.8zM254.66 268.63h1.8v1.8h-1.8zM265.45 279.85h1.8v1.8h-1.8zM273.37 268.38h1.8v1.8h-1.8zM257.92 283.49h1.8v1.8h-1.8zM265.92 273.18h1.8v1.8h-1.8zM262.6 289.93h1.8v1.8h-1.8zM262.75 280.26h1.8v1.8h-1.8zM264.21 276.51h1.8v1.8h-1.8zM280.69 291.02h1.8v1.8h-1.8zM264.42 271.03h1.8v1.8h-1.8zM276.26 271.19h1.8v1.8h-1.8zM252.79 288.64h1.8v1.8h-1.8zM266.37 286.61h1.8v1.8h-1.8zM265.8 288.17h1.8v1.8h-1.8zM267.58 270.16h1.8v1.8h-1.8zM253.08 279.89h1.8v1.8h-1.8zM273.42 288.84h1.8v1.8h-1.8zM255.49 281.65h1.8v1.8h-1.8zM264.65 278.71h1.8v1.8h-1.8zM257.34 273.18h1.8v1.8h-1.8zM269.54 289.24h1.8v1.8h-1.8zM256.14 278.36h1.8v1.8h-1.8zM278.76 290.27h1.8v1.8h-1.8zM259.01 269.27h1.8v1.8h-1.8zM283.25 290.49h1.8v1.8h-1.8zM268.29 267.43h1.8v1.8h-1.8zM282.7 275.8h1.8v1.8h-1.8zM281.99 281.61h1.8v1.8h-1.8zM279.4 270.11h1.8v1.8h-1.8zM278.14 271.65h1.8v1.8h-1.8zM265.75 287.26h1.8v1.8h-1.8zM279.55 270.67h1.8v1.8h-1.8zM259.69 276.09h1.8v1.8h-1.8zM269.43 275.69h1.8v1.8h-1.8zM256.6 272.28h1.8v1.8h-1.8zM276.16 288.53h1.8v1.8h-1.8zM253.94 280.16h1.8v1.8h-1.8zM277.22 267.05h1.8v1.8h-1.8zM279.84 269.04h1.8v1.8h-1.8zM272.08 279.85h1.8v1.8h-1.8zM272.98 273.76h1.8v1.8h-1.8zM266.25 280.67h1.8v1.8h-1.8zM266.44 282.57h1.8v1.8h-1.8zM267.12 277.06h1.8v1.8h-1.8zM253.36 281.57h1.8v1.8h-1.8zM268.51 271.98h1.8v1.8h-1.8zM277.42 285.6h1.8v1.8h-1.8zM267.49 270.59h1.8v1.8h-1.8zM267.98 268.78h1.8v1.8h-1.8zM256.77 276.86h1.8v1.8h-1.8zM255.58 277.15h1.8v1.8h-1.8zM269.18 267.12h1.8v1.8h-1.8zM273.28 268.16h1.8v1.8h-1.8zM276.44 285.54h1.8v1.8h-1.8zM269.22 267.46h1.8v1.8h-1.8zM268.98 275.55h1.8v1.8h-1.8zM283.5 269.5h1.8v1.8h-1.8zM280.45 291h1.8v1.8h-1.8zM276.39 286.47h1.8v1.8h-1.8zM258.9 290.64h1.8v1.8h-1.8zM268.59 290.02h1.8v1.8h-1.8zM282.37 270.23h1.8v1.8h-1.8zM278.22 289.36h1.8v1.8h-1.8zM254.73 274.87h1.8v1.8h-1.8zM277.18 270.07h1.8v1.8h-1.8zM281.74 272.97h1.8v1.8h-1.8zM279.11 269.69h1.8v1.8h-1.8zM268.92 289.1h1.8v1.8h-1.8zM259.37 272.67h1.8v1.8h-1.8zM269.05 274.08h1.8v1.8h-1.8zM253.8 270.65h1.8v1.8h-1.8zM257.84 289.51h1.8v1.8h-1.8zM274.69 288.49h1.8v1.8h-1.8zM258.08 285.72h1.8v1.8h-1.8zM256.34 279.37h1.8v1.8h-1.8zM273.28 275.09h1.8v1.8h-1.8zM280.97 279.98h1.8v1.8h-1.8zM271.45 288.16h1.8v1.8h-1.8zM256 290.92h1.8v1.8h-1.8zM273.07 275.96h1.8v1.8h-1.8zM278.52 272.72h1.8v1.8h-1.8zM284.79 280.53h1.8v1.8h-1.8zM264.31 285.22h1.8v1.8h-1.8zM266.97 270.52h1.8v1.8h-1.8zM276.77 267.31h1.8v1.8h-1.8zM279.24 272.44h1.8v1.8h-1.8zM273.38 290.7h1.8v1.8h-1.8zM271.64 282.69h1.8v1.8h-1.8zM262.76 266.14h1.8v1.8h-1.8zM253.7 269.83h1.8v1.8h-1.8zM272.62 276.91h1.8v1.8h-1.8zM269.26 288.49h1.8v1.8h-1.8zM256.89 271.78h1.8v1.8h-1.8zM273.83 266.66h1.8v1.8h-1.8zM252.69 274.97h1.8v1.8h-1.8zM256.06 275.03h1.8v1.8h-1.8zM259.89 280.69h1.8v1.8h-1.8zM271.75 271.2h1.8v1.8h-1.8zM272.88 277.97h1.8v1.8h-1.8zM256.98 289.51h1.8v1.8h-1.8zM260.52 269.83h1.8v1.8h-1.8zM255.71 282.06h1.8v1.8h-1.8zM280.92 285.65h1.8v1.8h-1.8zM265.66 272.71h1.8v1.8h-1.8zM252.97 282.22h1.8v1.8h-1.8zM270.88 274.86h1.8v1.8h-1.8zM273.58 277.19h1.8v1.8h-1.8zM283.06 284.44h1.8v1.8h-1.8zM260.68 288.69h1.8v1.8h-1.8zM254.03 279.39h1.8v1.8h-1.8zM265.79 272.04h1.8v1.8h-1.8zM254.5 285.57h1.8v1.8h-1.8zM253 279.87h1.8v1.8h-1.8zM283.18 269.66h1.8v1.8h-1.8zM259.08 281.3h1.8v1.8h-1.8zM269.08 282.14h1.8v1.8h-1.8zM279.03 270.47h1.8v1.8h-1.8zM262.65 273.61h1.8v1.8h-1.8zM254.18 288.33h1.8v1.8h-1.8zM278.05 283.98h1.8v1.8h-1.8zM252.81 287.21h1.8v1.8h-1.8zM276.82 277.73h1.8v1.8h-1.8zM276.71 277.41h1.8v1.8h-1.8zM259.94 268.73h1.8v1.8h-1.8zM260.15 267.07h1.8v1.8h-1.8zM263.5 284.84h1.8v1.8h-1.8zM275.19 287.23h1.8v1.8h-1.8zM275.73 272.75h1.8v1.8h-1.8zM270.6 277h1.8v1.8h-1.8zM278.22 279.18h1.8v1.8h-1.8zM261.22 282.15h1.8v1.8h-1.8zM283.97 271.52h1.8v1.8h-1.8zM281.2 266.48h1.8v1.8h-1.8zM261.06 272h1.8v1.8h-1.8zM276.78 289.72h1.8v1.8h-1.8zM276.85 274.27h1.8v1.8h-1.8zM281.21 274.31h1.8v1.8h-1.8zM260.37 288.79h1.8v1.8h-1.8zM273.1 283.42h1.8v1.8h-1.8zM274.22 290.58h1.8v1.8h-1.8zM267.86 287.09h1.8v1.8h-1.8zM275.27 287.54h1.8v1.8h-1.8zM266.81 284.22h1.8v1.8h-1.8zM271.14 273.79h1.8v1.8h-1.8zM259.49 281.67h1.8v1.8h-1.8zM255.13 288.87h1.8v1.8h-1.8zM257.3 266.77h1.8v1.8h-1.8zM256.07 289.32h1.8v1.8h-1.8zM263.81 269.65h1.8v1.8h-1.8zM253.53 267.14h1.8v1.8h-1.8zM275.11 281.95h1.8v1.8h-1.8zM275.25 284.52h1.8v1.8h-1.8zM254.74 280.86h1.8v1.8h-1.8zM264.41 286.54h1.8v1.8h-1.8zM279.24 288.38h1.8v1.8h-1.8zM254.74 287.79h1.8v1.8h-1.8zM282.32 289.71h1.8v1.8h-1.8zM256.08 271.24h1.8v1.8h-1.8zM256.24 266.96h1.8v1.8h-1.8zM280.15 286.4h1.8v1.8h-1.8zM273.21 286.73h1.8v1.8h-1.8zM273.12 273.28h1.8v1.8h-1.8zM255.85 268.55h1.8v1.8h-1.8zM277.21 271.22h1.8v1.8h-1.8zM262.97 276.69h1.8v1.8h-1.8zM253.28 272.52h1.8v1.8h-1.8zM261.78 283.99h1.8v1.8h-1.8zM264.56 274.12h1.8v1.8h-1.8zM283.93 278.69h1.8v1.8h-1.8zM280.27 281.56h1.8v1.8h-1.8zM253.61 276.42h1.8v1.8h-1.8zM266.78 285.43h1.8v1.8h-1.8zM263.87 283.72h1.8v1.8h-1.8zM270.08 271.51h1.8v1.8h-1.8zM280.62 268.37h1.8v1.8h-1.8zM279.24 270.36h1.8v1.8h-1.8zM252.64 271.15h1.8v1.8h-1.8zM277.37 290.55h1.8v1.8h-1.8zM252.74 278.37h1.8v1.8h-1.8zM268.57 286.02h1.8v1.8h-1.8zM258.6 278.46h1.8v1.8h-1.8zM263.88 286.9h1.8v1.8h-1.8zM261.07 289.7h1.8v1.8h-1.8zM261.82 271.47h1.8v1.8h-1.8zM275.33 278.56h1.8v1.8h-1.8zM256.17 282.01h1.8v1.8h-1.8zM255.23 285.8h1.8v1.8h-1.8zM275.26 285.77h1.8v1.8h-1.8zM273.01 274.99h1.8v1.8h-1.8zM265.64 275.96h1.8v1.8h-1.8zM281.54 268.25h1.8v1.8h-1.8zM281.47 266.73h1.8v1.8h-1.8zM259.3 272.68h1.8v1.8h-1.8zM281.89 278.63h1.8v1.8h-1.8zM264.93 288.2h1.8v1.8h-1.8zM260.19 277.62h1.8v1.8h-1.8zM269.88 284.96h1.8v1.8h-1.8zM277.07 282.26h1.8v1.8h-1.8zM263.93 274.27h1.8v1.8h-1.8zM257.65 287.18h1.8v1.8h-1.8zM274.12 284.65h1.8v1.8h-1.8zM258.11 277.07h1.8v1.8h-1.8zM277.74 280.58h1.8v1.8h-1.8zM256.7 277.65h1.8v1.8h-1.8zM281.37 272.05h1.8v1.8h-1.8zM258.83 273.64h1.8v1.8h-1.8zM275.45 287.19h1.8v1.8h-1.8zM257.62 270h1.8v1.8h-1.8zM260.65 274.26h1.8v1.8h-1.8zM269.57 270.12h1.8v1.8h-1.8zM263.26 270.83h1.8v1.8h-1.8zM284.29 284.32h1.8v1.8h-1.8zM255.91 290.16h1.8v1.8h-1.8zM255.9 275.71h1.8v1.8h-1.8zM284.57 285.97h1.8v1.8h-1.8zM276.43 276.97h1.8v1.8h-1.8zM258.98 282.05h1.8v1.8h-1.8zM256.07 271.26h1.8v1.8h-1.8zM265.22 266.95h1.8v1.8h-1.8zM265.57 285.88h1.8v1.8h-1.8zM275.14 278.61h1.8v1.8h-1.8zM273.15 277.68h1.8v1.8h-1.8zM257.21 281.19h1.8v1.8h-1.8zM265.75 284.62h1.8v1.8h-1.8zM282.11 276.85h1.8v1.8h-1.8zM271.25 284.83h1.8v1.8h-1.8zM266.29 271.81h1.8v1.8h-1.8zM276.07 288.1h1.8v1.8h-1.8zM277.76 283.6h1.8v1.8h-1.8zM280.3 283.09h1.8v1.8h-1.8zM273.45 277.45h1.8v1.8h-1.8zM262.77 281.81h1.8v1.8h-1.8zM255.78 276.59h1.8v1.8h-1.8zM278.03 283.93h1.8v1.8h-1.8zM273.06 272.35h1.8v1.8h-1.8zM266.37 277.48h1.8v1.8h-1.8zM272.8 276.33h1.8v1.8h-1.8zM274.55 289.35h1.8v1.8h-1.8zM258.55 282.46h1.8v1.8h-1.8zM277.89 275.82h1.8v1.8h-1.8zM268.52 290.47h1.8v1.8h-1.8zM253.84 279.68h1.8v1.8h-1.8zM257.83 285.64h1.8v1.8h-1.8zM283.17 279.08h1.8v1.8h-1.8zM255.89 280.46h1.8v1.8h-1.8zM270.18 284.03h1.8v1.8h-1.8zM269.25 282.08h1.8v1.8h-1.8zM279.54 279.14h1.8v1.8h-1.8zM265.94 289.8h1.8v1.8h-1.8zM259.43 283.21h1.8v1.8h-1.8zM265.36 285.17h1.8v1.8h-1.8zM256.58 290.71h1.8v1.8h-1.8zM264.15 267.52h1.8v1.8h-1.8zM261.52 276.09h1.8v1.8h-1.8zM253.03 276.56h1.8v1.8h-1.8zM266.27 283.56h1.8v1.8h-1.8zM264.04 272.73h1.8v1.8h-1.8zM259.89 284.64h1.8v1.8h-1.8zM283.15 279.28h1.8v1.8h-1.8zM259.71 286.14h1.8v1.8h-1.8zM265.34 271.4h1.8v1.8h-1.8zM256.8 285.52h1.8v1.8h-1.8zM278.91 281.96h1.8v1.8h-1.8zM267.85 280.15h1.8v1.8h-1.8zM259.94 290.2h1.8v1.8h-1.8zM264.08 282.07h1.8v1.8h-1.8zM279.21 286.5h1.8v1.8h-1.8zM267.81 273.46h1.8v1.8h-1.8zM270.42 269.23h1.8v1.8h-1.8zM279.7 274.97h1.8v1.8h-1.8zM280.25 272.79h1.8v1.8h-1.8zM264.82 272.44h1.8v1.8h-1.8zM266.45 270.75h1.8v1.8h-1.8zM252.69 284.14h1.8v1.8h-1.8zM261.74 272.22h1.8v1.8h-1.8zM262.41 278.09h1.8v1.8h-1.8zM266.53 282.03h1.8v1.8h-1.8zM274.03 275.16h1.8v1.8h-1.8zM282.78 287.46h1.8v1.8h-1.8zM254.45 286.8h1.8v1.8h-1.8zM282.04 285.7h1.8v1.8h-1.8zM257.16 286.88h1.8v1.8h-1.8zM273.18 266.47h1.8v1.8h-1.8zM252.97 289.89h1.8v1.8h-1.8zM273.92 272.35h1.8v1.8h-1.8zM255.9 269.67h1.8v1.8h-1.8zM260.19 285.51h1.8v1.8h-1.8zM263.86 269.92h1.8v1.8h-1.8zM281.98 285.89h1.8v1.8h-1.8zM258.06 288.38h1.8v1.8h-1.8zM272.37 285.63h1.8v1.8h-1.8zM274.32 288.45h1.8v1.8h-1.8zM278.21 287.07h1.8v1.8h-1.8zM259.01 283.42h1.8v1.8h-1.8zM269.85 284.65h1.8v1.8h-1.8zM266.85 288.17h1.8v1.8h-1.8zM270.64 272.71h1.8v1.8h-1.8zM260.21 269.58h1.8v1.8h-1.8zM268.62 267.56h1.8v1.8h-1.8zM267.78 269.71h1.8v1.8h-1.8zM268.57 278.55h1.8v1.8h-1.8zM270.14 287.67h1.8v1.8h-1.8zM252.81 287.12h1.8v1.8h-1.8zM267.81 280.16h1.8v1.8h-1.8zM274.22 287.11h1.8v1.8h-1.8zM264.79 276.57h1.8v1.8h-1.8zM283.82 267.98h1.8v1.8h-1.8zM273.3 282h1.8v1.8h-1.8zM253.53 281.34h1.8v1.8h-1.8zM274.78 289.39h1.8v1.8h-1.8zM263.34 290.64h1.8v1.8h-1.8zM269.2 278.22h1.8v1.8h-1.8zM281.77 266.95h1.8v1.8h-1.8zM275.94 281.73h1.8v1.8h-1.8zM263.6 287.64h1.8v1.8h-1.8zM264.5 277.96h1.8v1.8h-1.8zM269.68 285.36h1.8v1.8h-1.8zM259.45 276.98h1.8v1.8h-1.8zM266.33 279.95h1.8v1.8h-1.8zM279.47 273.42h1.8v1.8h-1.8zM279.5 276.19h1.8v1.8h-1.8zM268.97 272.89h1.8v1.8h-1.8zM269.06 290.47h1.8v1.8h-1.8zM273.87 285.9h1.8v1.8h-1.8zM263.35 274.03h1.8v1.8h-1.8zM262.32 280.76h1.8v1.8h-1.8zM273.23 285.71h1.8v1.8h-1.8zM253.9 284.17h1.8v1.8h-1.8zM281.38 279.74h1.8v1.8h-1.8zM254.22 273.61h1.8v1.8h-1.8zM252.8 270.85h1.8v1.8h-1.8zM282.55 281.32h1.8v1.8h-1.8zM273.99 285.83h1.8v1.8h-1.8zM282.17 281.39h1.8v1.8h-1.8zM272.64 281.77h1.8v1.8h-1.8zM275.23 281.01h1.8v1.8h-1.8zM274.73 271.41h1.8v1.8h-1.8zM274.28 277.55h1.8v1.8h-1.8zM277.39 268.63h1.8v1.8h-1.8zM258.49 267.02h1.8v1.8h-1.8zM277.77 288.95h1.8v1.8h-1.8zM273.91 275.32h1.8v1.8h-1.8zM279.33 285.76h1.8v1.8h-1.8zM270.87 272.55h1.8v1.8h-1.8zM262.42 276.64h1.8v1.8h-1.8zM262.95 276.87h1.8v1.8h-1.8zM273.46 289.45h1.8v1.8h-1.8zM254.38 280.29h1.8v1.8h-1.8zM253.88 269.07h1.8v1.8h-1.8zM278.94 280.48h1.8v1.8h-1.8zM282.46 277.26h1.8v1.8h-1.8zM253.06 275.78h1.8v1.8h-1.8zM271.84 289.54h1.8v1.8h-1.8zM284.48 277.99h1.8v1.8h-1.8zM266 268.65h1.8v1.8h-1.8zM273.55 271.41h1.8v1.8h-1.8zM257.53 266.49h1.8v1.8h-1.8zM252.76 283.19h1.8v1.8h-1.8zM256.55 290.26h1.8v1.8h-1.8zM255.46 287.84h1.8v1.8h-1.8zM256.79 266.54h1.8v1.8h-1.8zM275.98 272.16h1.8v1.8h-1.8zM276.44 270.79h1.8v1.8h-1.8zM254.23 285.45h1.8v1.8h-1.8zM275.79 287.49h1.8v1.8h-1.8zM276.32 268.21h1.8v1.8h-1.8zM273.03 283.83h1.8v1.8h-1.8zM267.57 289.41h1.8v1.8h-1.8zM260.86 290.21h1.8v1.8h-1.8zM275.91 266.39h1.8v1.8h-1.8zM253.08 282.37h1.8v1.8h-1.8zM279.16 268.09h1.8v1.8h-1.8zM262.71 284.34h1.8v1.8h-1.8zM257.99 287.62h1.8v1.8h-1.8zM268.41 267.59h1.8v1.8h-1.8zM264.55 280.47h1.8v1.8h-1.8zM266.86 283.02h1.8v1.8h-1.8zM257.31 286.03h1.8v1.8h-1.8zM264.41 282.22h1.8v1.8h-1.8zM273.07 276.55h1.8v1.8h-1.8zM265.14 285.76h1.8v1.8h-1.8zM283.31 285.72h1.8v1.8h-1.8zM271.02 273.41h1.8v1.8h-1.8zM254.57 290.45h1.8v1.8h-1.8zM275.46 286.79h1.8v1.8h-1.8zM263.39 281.25h1.8v1.8h-1.8zM284.37 286.88h1.8v1.8h-1.8zM272.14 273.81h1.8v1.8h-1.8zM266.53 288.3h1.8v1.8h-1.8zM264.84 283.22h1.8v1.8h-1.8zM272.16 288.5h1.8v1.8h-1.8zM278.84 273.18h1.8v1.8h-1.8zM252.65 272.68h1.8v1.8h-1.8zM266.33 280.77h1.8v1.8h-1.8zM279.12 288.29h1.8v1.8h-1.8zM253.97 286.93h1.8v1.8h-1.8zM278.98 287.78h1.8v1.8h-1.8zM271.19 272.95h1.8v1.8h-1.8zM280.26 286.28h1.8v1.8h-1.8zM274.85 288.94h1.8v1.8h-1.8zM263.87 268.23h1.8v1.8h-1.8zM270.59 286.03h1.8v1.8h-1.8zM259.11 284.85h1.8v1.8h-1.8zM282.88 271.95h1.8v1.8h-1.8zM272.32 283.04h1.8v1.8h-1.8zM267.72 271.26h1.8v1.8h-1.8zM260.88 284.88h1.8v1.8h-1.8zM278.33 277.59h1.8v1.8h-1.8zM255.45 286.26h1.8v1.8h-1.8zM277.7 271.92h1.8v1.8h-1.8zM271.44 288.52h1.8v1.8h-1.8zM281.37 279.15h1.8v1.8h-1.8zM268.09 280.83h1.8v1.8h-1.8zM258.75 270.91h1.8v1.8h-1.8zM258.47 283.63h1.8v1.8h-1.8zM264.39 280.21h1.8v1.8h-1.8zM265.68 279.03h1.8v1.8h-1.8zM257.44 267.21h1.8v1.8h-1.8zM285.01 275.45h1.8v1.8h-1.8zM256.05 281.92h1.8v1.8h-1.8zM278.19 270h1.8v1.8h-1.8zM272.01 274.72h1.8v1.8h-1.8zM269.48 266.61h1.8v1.8h-1.8zM253.69 290.86h1.8v1.8h-1.8zM280.75 278.26h1.8v1.8h-1.8zM271.03 272.64h1.8v1.8h-1.8zM277.92 276.75h1.8v1.8h-1.8zM283.36 285.28h1.8v1.8h-1.8zM279.21 290.19h1.8v1.8h-1.8zM260.85 267.05h1.8v1.8h-1.8zM259.13 270.62h1.8v1.8h-1.8zM255.32 267.37h1.8v1.8h-1.8zM270.71 287.87h1.8v1.8h-1.8zM267.49 289.78h1.8v1.8h-1.8zM282.17 267.7h1.8v1.8h-1.8zM272.04 276.03h1.8v1.8h-1.8zM256.5 290.08h1.8v1.8h-1.8zM260.96 280.21h1.8v1.8h-1.8zM273.42 290.01h1.8v1.8h-1.8zM274.37 275.93h1.8v1.8h-1.8zM267.17 270.09h1.8v1.8h-1.8zM283.99 290.89h1.8v1.8h-1.8zM259.81 267.07h1.8v1.8h-1.8zM260.92 274.9h1.8v1.8h-1.8zM281.94 288.71h1.8v1.8h-1.8zM279.81 267.28h1.8v1.8h-1.8zM278.16 283.84h1.8v1.8h-1.8zM273.62 290.74h1.8v1.8h-1.8zM254.41 269.72h1.8v1.8h-1.8zM277.14 289.58h1.8v1.8h-1.8zM274.6 273.57h1.8v1.8h-1.8zM271.82 285.05h1.8v1.8h-1.8zM256.03 274.2h1.8v1.8h-1.8zM260.95 269.2h1.8v1.8h-1.8zM268.24 270.31h1.8v1.8h-1.8zM260.35 269.68h1.8v1.8h-1.8zM274.62 266.42h1.8v1.8h-1.8zM275.91 270.98h1.8v1.8h-1.8zM253.77 289.29h1.8v1.8h-1.8zM259.77 289.45h1.8v1.8h-1.8zM280.77 288.32h1.8v1.8h-1.8zM257.14 277.28h1.8v1.8h-1.8zM255.75 289.32h1.8v1.8h-1.8zM279.97 281.81h1.8v1.8h-1.8zM267.3 274.59h1.8v1.8h-1.8zM279.35 278.04h1.8v1.8h-1.8zM273.02 269.67h1.8v1.8h-1.8zM259.8 267.52h1.8v1.8h-1.8zM275.8 279.93h1.8v1.8h-1.8zM257.3 287.87h1.8v1.8h-1.8zM261.26 276.39h1.8v1.8h-1.8zM257.66 272.88h1.8v1.8h-1.8zM279.89 274.46h1.8v1.8h-1.8zM258.05 278.38h1.8v1.8h-1.8zM262.94 288.68h1.8v1.8h-1.8zM256.31 290.57h1.8v1.8h-1.8zM254.45 288.48h1.8v1.8h-1.8zM274.32 271.38h1.8v1.8h-1.8zM268.12 273.26h1.8v1.8h-1.8zM260.98 271.14h1.8v1.8h-1.8zM264.44 290.88h1.8v1.8h-1.8zM285.04 289.23h1.8v1.8h-1.8zM255.77 273.34h1.8v1.8h-1.8zM281.73 267.54h1.8v1.8h-1.8zM276.21 273.44h1.8v1.8h-1.8zM284.41 266.5h1.8v1.8h-1.8zM278.83 274.62h1.8v1.8h-1.8zM257.15 266.15h1.8v1.8h-1.8zM279.65 279.26h1.8v1.8h-1.8zM258.64 276.98h1.8v1.8h-1.8zM282.24 271.56h1.8v1.8h-1.8zM271.17 269.55h1.8v1.8h-1.8zM258.45 285.36h1.8v1.8h-1.8zM275.73 271.02h1.8v1.8h-1.8zM255.18 268.29h1.8v1.8h-1.8zM272.38 278.49h1.8v1.8h-1.8zM261.5 271.25h1.8v1.8h-1.8zM272.5 283.79h1.8v1.8h-1.8zM278.98 280.67h1.8v1.8h-1.8zM259.17 267.74h1.8v1.8h-1.8zM276.41 276.3h1.8v1.8h-1.8zM276.05 267.48h1.8v1.8h-1.8zM278.95 274.48h1.8v1.8h-1.8zM279.96 287.71h1.8v1.8h-1.8zM268.62 266.49h1.8v1.8h-1.8zM282.18 278.02h1.8v1.8h-1.8zM280.94 272.76h1.8v1.8h-1.8zM258.65 286.89h1.8v1.8h-1.8zM264.53 270.19h1.8v1.8h-1.8zM264.66 280.97h1.8v1.8h-1.8zM252.75 279.1h1.8v1.8h-1.8zM267.09 278.99h1.8v1.8h-1.8zM256.53 283.96h1.8v1.8h-1.8zM279.14 287.74h1.8v1.8h-1.8zM263.03 283.88h1.8v1.8h-1.8zM265 284.88h1.8v1.8h-1.8zM254.59 287.92h1.8v1.8h-1.8zM283.61 278.47h1.8v1.8h-1.8zM269.28 279.36h1.8v1.8h-1.8zM270.06 266.62h1.8v1.8h-1.8zM284.04 271.69h1.8v1.8h-1.8zM258.53 268.67h1.8v1.8h-1.8zM260.74 286.53h1.8v1.8h-1.8zM253.58 268.51h1.8v1.8h-1.8zM275.32 270.98h1.8v1.8h-1.8zM253.17 281.08h1.8v1.8h-1.8zM271.34 279.17h1.8v1.8h-1.8zM275.44 268.67h1.8v1.8h-1.8zM280.86 284.03h1.8v1.8h-1.8zM254.07 269.18h1.8v1.8h-1.8zM268.64 278.62h1.8v1.8h-1.8zM261.69 269.15h1.8v1.8h-1.8zM265.78 269.52h1.8v1.8h-1.8zM271.83 287.63h1.8v1.8h-1.8zM257.38 280.42h1.8v1.8h-1.8zM276.86 270.21h1.8v1.8h-1.8zM279.45 289.54h1.8v1.8h-1.8zM265.23 276.61h1.8v1.8h-1.8zM279.89 279.24h1.8v1.8h-1.8zM265.46 289.63h1.8v1.8h-1.8zM277.85 274.56h1.8v1.8h-1.8zM260.41 274.48h1.8v1.8h-1.8zM266.76 290.63h1.8v1.8h-1.8zM278.74 288.92h1.8v1.8h-1.8zM279.09 287.29h1.8v1.8h-1.8zM254.34 279.03h1.8v1.8h-1.8zM283.73 289.46h1.8v1.8h-1.8zM260.7 276.65h1.8v1.8h-1.8zM273.16 275.21h1.8v1.8h-1.8zM269.85 267.83h1.8v1.8h-1.8zM266.67 278.72h1.8v1.8h-1.8zM253.28 269.59h1.8v1.8h-1.8zM284.12 285.51h1.8v1.8h-1.8zM283.05 281.93h1.8v1.8h-1.8zM278.9 288.21h1.8v1.8h-1.8zM281.35 266.96h1.8v1.8h-1.8zM273.45 272.74h1.8v1.8h-1.8zM274.65 272.94h1.8v1.8h-1.8zM270.22 289.21h1.8v1.8h-1.8zM272.79 272.36h1.8v1.8h-1.8zM269.51 276.94h1.8v1.8h-1.8zM283.5 273.29h1.8v1.8h-1.8zM262.53 282.29h1.8v1.8h-1.8zM256.51 280.96h1.8v1.8h-1.8zM283.67 278.94h1.8v1.8h-1.8zM261.32 277.76h1.8v1.8h-1.8zM269.95 269.81h1.8v1.8h-1.8zM256.63 269.38h1.8v1.8h-1.8zM262.14 276.26h1.8v1.8h-1.8zM261.97 272.19h1.8v1.8h-1.8zM255.46 279.76h1.8v1.8h-1.8zM279.89 281.35h1.8v1.8h-1.8zM271.13 282.36h1.8v1.8h-1.8zM259.14 283.86h1.8v1.8h-1.8zM267.58 279.8h1.8v1.8h-1.8zM272.52 277.82h1.8v1.8h-1.8zM262.69 272.16h1.8v1.8h-1.8zM259.8 278.91h1.8v1.8h-1.8zM265.05 280.74h1.8v1.8h-1.8zM252.99 274.92h1.8v1.8h-1.8zM280.61 272.06h1.8v1.8h-1.8zM270.69 278.39h1.8v1.8h-1.8zM261.86 290.79h1.8v1.8h-1.8zM262.2 285.4h1.8v1.8h-1.8zM257.75 267.77h1.8v1.8h-1.8zM280.92 277.1h1.8v1.8h-1.8zM254.62 275.8h1.8v1.8h-1.8zM266.9 284.49h1.8v1.8h-1.8zM256.15 271.73h1.8v1.8h-1.8zM283.78 284.57h1.8v1.8h-1.8zM257.62 274.53h1.8v1.8h-1.8zM264.05 282.98h1.8v1.8h-1.8zM272.63 287.35h1.8v1.8h-1.8zM279.29 279.04h1.8v1.8h-1.8zM276.61 284.68h1.8v1.8h-1.8zM277.29 277.98h1.8v1.8h-1.8zM278.11 283.81h1.8v1.8h-1.8zM282.33 269.28h1.8v1.8h-1.8zM280.9 266.21h1.8v1.8h-1.8zM277.48 280.75h1.8v1.8h-1.8zM268.78 290.17h1.8v1.8h-1.8zM271.19 276.55h1.8v1.8h-1.8zM278.07 287.92h1.8v1.8h-1.8zM272.34 275.59h1.8v1.8h-1.8zM267.3 277.55h1.8v1.8h-1.8zM276.1 273.42h1.8v1.8h-1.8zM265.3 279.98h1.8v1.8h-1.8zM265.1 274.15h1.8v1.8h-1.8zM278.18 287.34h1.8v1.8h-1.8zM268.84 277.2h1.8v1.8h-1.8zM258.59 273.7h1.8v1.8h-1.8zM257.31 280.49h1.8v1.8h-1.8zM271.5 268.3h1.8v1.8h-1.8zM282.51 274.2h1.8v1.8h-1.8zM280.01 287.05h1.8v1.8h-1.8zM283.76 271.21h1.8v1.8h-1.8zM266.46 288.86h1.8v1.8h-1.8zM252.95 267.29h1.8v1.8h-1.8zM270.96 278.53h1.8v1.8h-1.8zM282.51 285.44h1.8v1.8h-1.8zM270.1 291.06h1.8v1.8h-1.8zM269.42 279.03h1.8v1.8h-1.8zM274.87 275.84h1.8v1.8h-1.8zM264.23 280.97h1.8v1.8h-1.8zM264.01 289.8h1.8v1.8h-1.8zM274.59 279.23h1.8v1.8h-1.8zM255.82 275.46h1.8v1.8h-1.8zM265.63 280.13h1.8v1.8h-1.8zM271.26 288.1h1.8v1.8h-1.8zM283.95 278.27h1.8v1.8h-1.8zM266.91 281.72h1.8v1.8h-1.8zM284.97 274.68h1.8v1.8h-1.8zM269.83 286.5h1.8v1.8h-1.8zM258.15 274.05h1.8v1.8h-1.8zM284.4 286.75h1.8v1.8h-1.8zM269.26 268.86h1.8v1.8h-1.8zM281.67 283.35h1.8v1.8h-1.8zM279.27 290.86h1.8v1.8h-1.8zM281.46 276.62h1.8v1.8h-1.8zM257.68 273.35h1.8v1.8h-1.8zM269.23 278.72h1.8v1.8h-1.8zM258.71 270.66h1.8v1.8h-1.8zM273.08 281.18h1.8v1.8h-1.8zM264.08 290.94h1.8v1.8h-1.8zM273.29 267.16h1.8v1.8h-1.8zM265.97 285.79h1.8v1.8h-1.8zM262.57 283.37h1.8v1.8h-1.8zM252.73 273.71h1.8v1.8h-1.8zM279.97 280.76h1.8v1.8h-1.8zM274.31 271.02h1.8v1.8h-1.8zM268.78 279.93h1.8v1.8h-1.8zM261.25 282.27h1.8v1.8h-1.8zM269.87 291.03h1.8v1.8h-1.8zM271.27 276.38h1.8v1.8h-1.8zM256.55 270.02h1.8v1.8h-1.8zM277.28 268.77h1.8v1.8h-1.8zM255.85 270.36h1.8v1.8h-1.8zM269.58 286.68h1.8v1.8h-1.8zM272.52 286.27h1.8v1.8h-1.8zM254.62 266.41h1.8v1.8h-1.8zM277.64 274.17h1.8v1.8h-1.8zM275.85 274.95h1.8v1.8h-1.8zM258.11 272.77h1.8v1.8h-1.8zM255.83 288.7h1.8v1.8h-1.8zM271.52 274.82h1.8v1.8h-1.8zM267.22 275.74h1.8v1.8h-1.8zM254.38 288.36h1.8v1.8h-1.8zM271.54 290.09h1.8v1.8h-1.8zM266.89 281.6h1.8v1.8h-1.8zM260.7 267.2h1.8v1.8h-1.8zM282.85 287.47h1.8v1.8h-1.8zM262.83 288.57h1.8v1.8h-1.8zM279.12 273.69h1.8v1.8h-1.8zM272.18 290.1h1.8v1.8h-1.8zM268.71 289.84h1.8v1.8h-1.8zM260.5 275.84h1.8v1.8h-1.8zM275.95 271.63h1.8v1.8h-1.8zM262.65 287.98h1.8v1.8h-1.8zM268.34 285.92h1.8v1.8h-1.8zM260.51 270.44h1.8v1.8h-1.8zM264.25 270.76h1.8v1.8h-1.8zM284.18 273.37h1.8v1.8h-1.8zM270.85 268.97h1.8v1.8h-1.8zM269.95 275.74h1.8v1.8h-1.8zM265.7 267.74h1.8v1.8h-1.8zM256.61 286.75h1.8v1.8h-1.8zM264.02 272.22h1.8v1.8h-1.8zM258.81 273.19h1.8v1.8h-1.8zM260.31 266.97h1.8v1.8h-1.8zM274.19 274.64h1.8v1.8h-1.8zM257.67 283.75h1.8v1.8h-1.8zM255.61 272.84h1.8v1.8h-1.8zM279.74 269.29h1.8v1.8h-1.8zM267.01 287.01h1.8v1.8h-1.8zM278.76 270.08h1.8v1.8h-1.8zM264.07 284.16h1.8v1.8h-1.8zM264.85 290.06h1.8v1.8h-1.8zM259.36 289.87h1.8v1.8h-1.8zM269.01 271.78h1.8v1.8h-1.8zM267.31 269.37h1.8v1.8h-1.8zM275.56 272.62h1.8v1.8h-1.8zM281.84 280.79h1.8v1.8h-1.8zM264.56 272.26h1.8v1.8h-1.8zM272.37 271.41h1.8v1.8h-1.8zM280.95 269.17h1.8v1.8h-1.8zM269.27 279.66h1.8v1.8h-1.8zM261.39 285.39h1.8v1.8h-1.8zM265.11 282.54h1.8v1.8h-1.8zM271.05 273.87h1.8v1.8h-1.8zM265.27 268.25h1.8v1.8h-1.8zM258.35 287.38h1.8v1.8h-1.8zM263.03 282.67h1.8v1.8h-1.8zM256.14 280.15h1.8v1.8h-1.8zM264.35 278.61h1.8v1.8h-1.8zM262.25 267.75h1.8v1.8h-1.8zM262.72 271.76h1.8v1.8h-1.8zM256.7 284.02h1.8v1.8h-1.8zM261.78 276.18h1.8v1.8h-1.8zM282.14 285.47h1.8v1.8h-1.8zM281.29 287.63h1.8v1.8h-1.8zM256.9 273.01h1.8v1.8h-1.8zM253.56 283.09h1.8v1.8h-1.8zM274.17 274.89h1.8v1.8h-1.8zM266.01 282.58h1.8v1.8h-1.8zM275.33 272.31h1.8v1.8h-1.8zM280.12 274.9h1.8v1.8h-1.8zM273.04 270.64h1.8v1.8h-1.8zM256.35 288.92h1.8v1.8h-1.8zM276.46 283.91h1.8v1.8h-1.8zM253.91 267.1h1.8v1.8h-1.8zM257.87 271.05h1.8v1.8h-1.8zM262.45 275.62h1.8v1.8h-1.8zM253.88 273.87h1.8v1.8h-1.8zM273.35 270.59h1.8v1.8h-1.8zM279.88 280.35h1.8v1.8h-1.8zM275.89 272.47h1.8v1.8h-1.8zM266.74 283.21h1.8v1.8h-1.8zM263.94 266.12h1.8v1.8h-1.8zM279.71 285.51h1.8v1.8h-1.8zM261.91 267.17h1.8v1.8h-1.8zM280.36 281.28h1.8v1.8h-1.8zM254.14 272.21h1.8v1.8h-1.8zM256.21 285.89h1.8v1.8h-1.8zM259.43 288.96h1.8v1.8h-1.8zM276.96 268.25h1.8v1.8h-1.8zM275.18 275.94h1.8v1.8h-1.8zM276.9 286.82h1.8v1.8h-1.8zM261.74 268.35h1.8v1.8h-1.8zM283.36 276.7h1.8v1.8h-1.8zM282.83 283.39h1.8v1.8h-1.8zM276.6 286.85h1.8v1.8h-1.8zM273.01 277.42h1.8v1.8h-1.8zM254.36 283.56h1.8v1.8h-1.8zM266.52 278.9h1.8v1.8h-1.8zM282.76 269.29h1.8v1.8h-1.8zM277.36 267.19h1.8v1.8h-1.8zM275.44 286.24h1.8v1.8h-1.8zM286.28 278.31h1.8v1.8h-1.8zM289.46 281.18h1.8v1.8h-1.8zM287.55 268.97h1.8v1.8h-1.8zM285.37 272.37h1.8v1.8h-1.8zM286.95 267.44h1.8v1.8h-1.8zM286.5 265.4h1.8v1.8h-1.8zM288.28 282.22h1.8v1.8h-1.8zM286.17 268.71h1.8v1.8h-1.8zM287.42 275.12h1.8v1.8h-1.8zM289.31 272.17h1.8v1.8h-1.8zM286.45 288.97h1.8v1.8h-1.8zM285.74 278.84h1.8v1.8h-1.8zM286.6 286.78h1.8v1.8h-1.8zM287.57 285.06h1.8v1.8h-1.8zM285.86 282.1h1.8v1.8h-1.8zM287.79 275.63h1.8v1.8h-1.8zM288.55 287.28h1.8v1.8h-1.8zM285.62 270.21h1.8v1.8h-1.8zM286.72 267.6h1.8v1.8h-1.8zM285.37 269.95h1.8v1.8h-1.8zM285.99 283.2h1.8v1.8h-1.8zM287.12 264.66h1.8v1.8h-1.8zM286.56 275.86h1.8v1.8h-1.8zM286.73 266.4h1.8v1.8h-1.8zM285.42 261.44h1.8v1.8h-1.8zM289.56 284.74h1.8v1.8h-1.8zM285.48 283.69h1.8v1.8h-1.8zM289.51 278.86h1.8v1.8h-1.8zM285.59 276.5h1.8v1.8h-1.8zM287.05 267.08h1.8v1.8h-1.8zM287.54 261.36h1.8v1.8h-1.8zM289.24 281.4h1.8v1.8h-1.8zM287.92 290.56h1.8v1.8h-1.8zM288.04 269.02h1.8v1.8h-1.8zM286.21 265.47h1.8v1.8h-1.8zM285.22 285.49h1.8v1.8h-1.8zM288.88 270.43h1.8v1.8h-1.8zM285.94 281.2h1.8v1.8h-1.8zM288.91 290.29h1.8v1.8h-1.8zM285.86 285.82h1.8v1.8h-1.8zM288.84 284.48h1.8v1.8h-1.8zM286.57 266.91h1.8v1.8h-1.8zM288.81 271.18h1.8v1.8h-1.8zM286.76 278.46h1.8v1.8h-1.8zM286.76 287.29h1.8v1.8h-1.8zM286.18 262.4h1.8v1.8h-1.8zM287.65 280.89h1.8v1.8h-1.8zM288.79 283.33h1.8v1.8h-1.8zM289.17 290.87h1.8v1.8h-1.8zM287.32 276.84h1.8v1.8h-1.8zM258.35 291.55h1.8v1.8h-1.8zM273.81 291.22h1.8v1.8h-1.8zM277.71 291.35h1.8v1.8h-1.8zM268.78 292.55h1.8v1.8h-1.8zM255.87 291.16h1.8v1.8h-1.8zM268.64 291.39h1.8v1.8h-1.8zM278.99 291.1h1.8v1.8h-1.8zM283.29 292.38h1.8v1.8h-1.8zM281.32 291.74h1.8v1.8h-1.8zM262.94 292.09h1.8v1.8h-1.8zM271.38 291.73h1.8v1.8h-1.8zM264.96 291.76h1.8v1.8h-1.8zM276.91 292.34h1.8v1.8h-1.8zM285.6 291.35h1.8v1.8h-1.8zM263.39 291.76h1.8v1.8h-1.8zM273.16 291.62h1.8v1.8h-1.8zM259.73 291.23h1.8v1.8h-1.8zM264.41 291.79h1.8v1.8h-1.8zM288.05 292.46h1.8v1.8h-1.8zM284.19 292.56h1.8v1.8h-1.8zM287.71 292.03h1.8v1.8h-1.8zM282.21 291.19h1.8v1.8h-1.8zM277.29 292.01h1.8v1.8h-1.8zM263.44 291.96h1.8v1.8h-1.8zM287.38 291.82h1.8v1.8h-1.8zM276.23 291.55h1.8v1.8h-1.8zM265.13 292.43h1.8v1.8h-1.8zM253.62 291.38h1.8v1.8h-1.8zM277.37 291.77h1.8v1.8h-1.8zM255.71 292.09h1.8v1.8h-1.8zM266.18 291.97h1.8v1.8h-1.8zM267.8 291.89h1.8v1.8h-1.8zM273.22 291.69h1.8v1.8h-1.8zM256.77 291.37h1.8v1.8h-1.8zM285.08 291.92h1.8v1.8h-1.8zM256.7 292.39h1.8v1.8h-1.8zM261.85 291.24h1.8v1.8h-1.8zM271.97 291.48h1.8v1.8h-1.8zM270.46 291.93h1.8v1.8h-1.8zM260.87 291.96h1.8v1.8h-1.8zM256.73 291.87h1.8v1.8h-1.8zM274.08 291.22h1.8v1.8h-1.8zM267.49 291.21h1.8v1.8h-1.8zM268.64 292.4h1.8v1.8h-1.8zM272.7 292.17h1.8v1.8h-1.8zM280.23 291.27h1.8v1.8h-1.8zM288.76 292.18h1.8v1.8h-1.8zM256.33 292.35h1.8v1.8h-1.8zM266.91 291.36h1.8v1.8h-1.8zM287.64 291.94h1.8v1.8h-1.8zM280.89 291.31h1.8v1.8h-1.8zM280.93 291.19h1.8v1.8h-1.8zM261.25 291.66h1.8v1.8h-1.8zM253.15 291.99h1.8v1.8h-1.8zM260.38 291.55h1.8v1.8h-1.8zM278.42 291.74h1.8v1.8h-1.8zM285.03 292.03h1.8v1.8h-1.8zM284.43 291.94h1.8v1.8h-1.8zM286.09 292.41h1.8v1.8h-1.8zM258.73 292.22h1.8v1.8h-1.8zM256.41 276.94h1.8v1.8h-1.8zM272.72 291.14h1.8v1.8h-1.8zM262.96 272.56h1.8v1.8h-1.8zM264.52 285.34h1.8v1.8h-1.8zM261.09 285.43h1.8v1.8h-1.8zM261.28 283h1.8v1.8h-1.8zM272.74 280.37h1.8v1.8h-1.8zM266.81 287.91h1.8v1.8h-1.8zM260.6 289.38h1.8v1.8h-1.8zM274.8 281.84h1.8v1.8h-1.8zM257.69 276.97h1.8v1.8h-1.8zM266.84 286.78h1.8v1.8h-1.8zM261.65 289.97h1.8v1.8h-1.8zM266.02 285.57h1.8v1.8h-1.8zM260.39 281.69h1.8v1.8h-1.8zM258.72 287.63h1.8v1.8h-1.8zM271.29 282.14h1.8v1.8h-1.8zM275.65 281.2h1.8v1.8h-1.8zM273.83 289.56h1.8v1.8h-1.8zM262.32 286.15h1.8v1.8h-1.8zM270.13 292.07h1.8v1.8h-1.8zM257.27 290.73h1.8v1.8h-1.8zM279.56 287.4h1.8v1.8h-1.8zM263.97 288.16h1.8v1.8h-1.8zM271.03 288.05h1.8v1.8h-1.8zM260.92 282.89h1.8v1.8h-1.8zM267.99 287.02h1.8v1.8h-1.8zM278.3 279.66h1.8v1.8h-1.8zM254.64 280.78h1.8v1.8h-1.8zM259.27 290.8h1.8v1.8h-1.8zM271.37 275.41h1.8v1.8h-1.8zM280.51 283.69h1.8v1.8h-1.8zM264.24 279.96h1.8v1.8h-1.8zM258.35 282.91h1.8v1.8h-1.8zM254.44 285.18h1.8v1.8h-1.8zM274.37 289.12h1.8v1.8h-1.8zM254.65 287.77h1.8v1.8h-1.8zM265.43 291.49h1.8v1.8h-1.8zM261.63 289.73h1.8v1.8h-1.8zM253.67 288.99h1.8v1.8h-1.8zM256.62 284.97h1.8v1.8h-1.8zM267.09 289.04h1.8v1.8h-1.8zM262.1 291.99h1.8v1.8h-1.8zM263.06 279.59h1.8v1.8h-1.8zM274.37 285h1.8v1.8h-1.8zM277.91 283.33h1.8v1.8h-1.8zM271.15 288.91h1.8v1.8h-1.8zM276.63 289.95h1.8v1.8h-1.8zM272.22 284.24h1.8v1.8h-1.8zM264.99 288.39h1.8v1.8h-1.8zM269.54 291.17h1.8v1.8h-1.8zM262.92 283.06h1.8v1.8h-1.8zM259.16 289.47h1.8v1.8h-1.8zM260.75 283.92h1.8v1.8h-1.8zM262.24 271.76h1.8v1.8h-1.8zM261.5 285.65h1.8v1.8h-1.8zM273.3 275.7h1.8v1.8h-1.8zM261.87 289.83h1.8v1.8h-1.8zM276.25 281.05h1.8v1.8h-1.8zM271.82 285.17h1.8v1.8h-1.8zM258.45 282.18h1.8v1.8h-1.8zM260.79 282.19h1.8v1.8h-1.8zM275.74 289.29h1.8v1.8h-1.8zM279.91 289.47h1.8v1.8h-1.8zM258.17 284.43h1.8v1.8h-1.8zM263.33 287.33h1.8v1.8h-1.8zM277.74 283.6h1.8v1.8h-1.8zM268.82 286.94h1.8v1.8h-1.8zM262.78 289.44h1.8v1.8h-1.8zM268.49 289.87h1.8v1.8h-1.8zM265.61 284.51h1.8v1.8h-1.8zM269.62 281.31h1.8v1.8h-1.8zM257.18 283.9h1.8v1.8h-1.8zM264.62 282.47h1.8v1.8h-1.8zM260.62 277.21h1.8v1.8h-1.8zM266.64 282.01h1.8v1.8h-1.8zM269.39 270.75h1.8v1.8h-1.8zM256.6 288.51h1.8v1.8h-1.8zM266.1 287.7h1.8v1.8h-1.8zM266.68 281.47h1.8v1.8h-1.8zM273 286.82h1.8v1.8h-1.8zM265.3 284.5h1.8v1.8h-1.8zM270.91 287.66h1.8v1.8h-1.8zM277.17 289.71h1.8v1.8h-1.8zM258.55 285.81h1.8v1.8h-1.8zM274.85 284.98h1.8v1.8h-1.8zM269.16 290.12h1.8v1.8h-1.8zM263.19 273.61h1.8v1.8h-1.8zM266.5 288.34h1.8v1.8h-1.8zM266.54 282.7h1.8v1.8h-1.8zM277.95 286.32h1.8v1.8h-1.8zM258.47 282.94h1.8v1.8h-1.8zM268.91 280.77h1.8v1.8h-1.8zM279.62 290.55h1.8v1.8h-1.8zM278.28 289.95h1.8v1.8h-1.8zM279.64 284.24h1.8v1.8h-1.8zM266.46 291.61h1.8v1.8h-1.8zM265.97 291.12h1.8v1.8h-1.8zM266.01 278.51h1.8v1.8h-1.8zM271.01 283.64h1.8v1.8h-1.8zM265.3 275.94h1.8v1.8h-1.8zM263.09 292.37h1.8v1.8h-1.8zM255.22 283.31h1.8v1.8h-1.8zM269.66 284.22h1.8v1.8h-1.8zM264.38 288.38h1.8v1.8h-1.8zM270.57 289.2h1.8v1.8h-1.8zM263.14 284.72h1.8v1.8h-1.8zM260.33 274.97h1.8v1.8h-1.8zM267.92 286.9h1.8v1.8h-1.8zM263.97 285.55h1.8v1.8h-1.8zM257.12 286.97h1.8v1.8h-1.8zM260.41 288.29h1.8v1.8h-1.8zM274.34 291.86h1.8v1.8h-1.8zM272.75 291.88h1.8v1.8h-1.8zM259.73 287.09h1.8v1.8h-1.8zM274 284.38h1.8v1.8h-1.8zM278.34 280.58h1.8v1.8h-1.8zM264.11 290.81h1.8v1.8h-1.8zM264.72 289.36h1.8v1.8h-1.8zM277.74 289.02h1.8v1.8h-1.8zM253.34 291.28h1.8v1.8h-1.8zM264.06 287.77h1.8v1.8h-1.8zM259.03 279.02h1.8v1.8h-1.8zM253.65 271.24h1.8v1.8h-1.8zM277.4 280.31h1.8v1.8h-1.8zM257.34 290.21h1.8v1.8h-1.8zM256.87 290.96h1.8v1.8h-1.8zM259.94 288.89h1.8v1.8h-1.8zM266.23 287.09h1.8v1.8h-1.8zM259.26 290.21h1.8v1.8h-1.8zM266.84 289.93h1.8v1.8h-1.8zM275.73 278.34h1.8v1.8h-1.8zM268.04 286.06h1.8v1.8h-1.8zM261.75 282.11h1.8v1.8h-1.8zM256.68 281.08h1.8v1.8h-1.8zM283.32 287.16h1.8v1.8h-1.8zM273.05 281.39h1.8v1.8h-1.8zM264.65 281.25h1.8v1.8h-1.8zM262.51 281.27h1.8v1.8h-1.8zM260.82 282.35h1.8v1.8h-1.8zM255.61 281.66h1.8v1.8h-1.8zM252.7 286.16h1.8v1.8h-1.8zM266.2 290.37h1.8v1.8h-1.8zM277.21 283.85h1.8v1.8h-1.8zM268.25 283.02h1.8v1.8h-1.8zM276 275.86h1.8v1.8h-1.8zM267.31 285.78h1.8v1.8h-1.8zM267.43 284.3h1.8v1.8h-1.8zM269.86 290.86h1.8v1.8h-1.8zM273.35 290.49h1.8v1.8h-1.8zM269.48 280.22h1.8v1.8h-1.8zM260.58 287.85h1.8v1.8h-1.8zM261.03 280.93h1.8v1.8h-1.8zM265.45 283.69h1.8v1.8h-1.8zM260.63 281.91h1.8v1.8h-1.8zM257.07 286.53h1.8v1.8h-1.8zM258.2 291.07h1.8v1.8h-1.8zM263.57 287.87h1.8v1.8h-1.8zM271.55 288.43h1.8v1.8h-1.8zM263.35 282.39h1.8v1.8h-1.8zM261.43 291.09h1.8v1.8h-1.8zM267.53 284.83h1.8v1.8h-1.8zM269.11 279.07h1.8v1.8h-1.8zM262.82 288.4h1.8v1.8h-1.8zM255.26 289.13h1.8v1.8h-1.8zM262.95 282.22h1.8v1.8h-1.8zM268.92 281.91h1.8v1.8h-1.8zM254.23 292.3h1.8v1.8h-1.8zM271.49 285.32h1.8v1.8h-1.8zM282.17 285.41h1.8v1.8h-1.8zM263.08 289.12h1.8v1.8h-1.8zM265.51 281.24h1.8v1.8h-1.8zM280.16 281.24h1.8v1.8h-1.8zM279.65 288.39h1.8v1.8h-1.8zM253.19 288.66h1.8v1.8h-1.8zM271.18 281.85h1.8v1.8h-1.8zM253.21 289.67h1.8v1.8h-1.8zM256.43 278.45h1.8v1.8h-1.8zM262.52 288.1h1.8v1.8h-1.8zM259.14 280.21h1.8v1.8h-1.8zM267.37 276.89h1.8v1.8h-1.8zM270.83 289.96h1.8v1.8h-1.8zM283.05 292.26h1.8v1.8h-1.8zM268.9 288.64h1.8v1.8h-1.8zM265.4 279.37h1.8v1.8h-1.8zM280.74 290.17h1.8v1.8h-1.8zM262.04 280.42h1.8v1.8h-1.8zM280.97 290.2h1.8v1.8h-1.8zM285.37 286.97h1.8v1.8h-1.8zM269.38 284.68h1.8v1.8h-1.8zM263.78 291.72h1.8v1.8h-1.8zM261.84 291.35h1.8v1.8h-1.8zM273.95 281.18h1.8v1.8h-1.8zM253.64 286.67h1.8v1.8h-1.8zM273.99 288.72h1.8v1.8h-1.8zM278.36 279.08h1.8v1.8h-1.8zM270.37 283.47h1.8v1.8h-1.8zM266.17 288.97h1.8v1.8h-1.8zM254.74 285.77h1.8v1.8h-1.8zM252.67 288.65h1.8v1.8h-1.8zM256.02 284.22h1.8v1.8h-1.8zM267.44 283.3h1.8v1.8h-1.8zM277.36 283.39h1.8v1.8h-1.8zM274.17 288.75h1.8v1.8h-1.8zM254.06 285.83h1.8v1.8h-1.8zM256.17 285h1.8v1.8h-1.8zM269.87 279.5h1.8v1.8h-1.8zM276.07 289.37h1.8v1.8h-1.8zM262.87 285.64h1.8v1.8h-1.8zM267.86 285.34h1.8v1.8h-1.8zM259.4 284.95h1.8v1.8h-1.8zM277.57 283.49h1.8v1.8h-1.8zM269.15 280.41h1.8v1.8h-1.8zM257.51 279.11h1.8v1.8h-1.8zM262.99 291.07h1.8v1.8h-1.8zM268.35 284.24h1.8v1.8h-1.8zM271.61 285.08h1.8v1.8h-1.8zM269.07 288.69h1.8v1.8h-1.8zM270.87 272.71h1.8v1.8h-1.8zM262.6 283.9h1.8v1.8h-1.8zM281 290.33h1.8v1.8h-1.8zM285.31 290.06h1.8v1.8h-1.8zM262.93 291.3h1.8v1.8h-1.8zM256.72 284.51h1.8v1.8h-1.8zM259.19 285.81h1.8v1.8h-1.8zM273.39 284.31h1.8v1.8h-1.8zM268.53 284.21h1.8v1.8h-1.8zM274.5 271.11h1.8v1.8h-1.8zM262.89 288.08h1.8v1.8h-1.8zM275.33 290.82h1.8v1.8h-1.8zM263.51 280.8h1.8v1.8h-1.8zM262.76 284.43h1.8v1.8h-1.8zM267.76 284.4h1.8v1.8h-1.8zM277.59 284.38h1.8v1.8h-1.8zM262.52 292.47h1.8v1.8h-1.8zM265.13 280.07h1.8v1.8h-1.8zM269.5 285.97h1.8v1.8h-1.8zM253.89 282.79h1.8v1.8h-1.8zM270.23 288.84h1.8v1.8h-1.8zM269.56 283.54h1.8v1.8h-1.8zM267.61 286.4h1.8v1.8h-1.8zM263.15 285.5h1.8v1.8h-1.8zM263.85 289.27h1.8v1.8h-1.8zM260.5 286.12h1.8v1.8h-1.8zM255 283.33h1.8v1.8h-1.8zM278.01 288.61h1.8v1.8h-1.8zM278.1 292.07h1.8v1.8h-1.8zM258.68 291.74h1.8v1.8h-1.8zM261.68 284.03h1.8v1.8h-1.8zM273.91 282.2h1.8v1.8h-1.8zM268 289.25h1.8v1.8h-1.8zM269.08 285.04h1.8v1.8h-1.8zM274.23 291.64h1.8v1.8h-1.8zM254.59 286.86h1.8v1.8h-1.8zM266.75 290.1h1.8v1.8h-1.8zM270 290.96h1.8v1.8h-1.8zM275.89 288.26h1.8v1.8h-1.8zM256.02 286.53h1.8v1.8h-1.8zM268.67 285.5h1.8v1.8h-1.8zM258.03 285.03h1.8v1.8h-1.8zM264.14 285.02h1.8v1.8h-1.8zM268.27 286.91h1.8v1.8h-1.8zM252.67 280.87h1.8v1.8h-1.8zM269.08 282.06h1.8v1.8h-1.8zM269.65 280.9h1.8v1.8h-1.8zM266.52 286.68h1.8v1.8h-1.8zM275.65 284.83h1.8v1.8h-1.8zM261.16 288.52h1.8v1.8h-1.8zM262.38 284h1.8v1.8h-1.8zM261.72 289.84h1.8v1.8h-1.8zM267.58 291.1h1.8v1.8h-1.8zM284.58 286.92h1.8v1.8h-1.8zM269.49 274.21h1.8v1.8h-1.8zM265.24 278.57h1.8v1.8h-1.8zM276.04 278.4h1.8v1.8h-1.8zM279.72 292.33h1.8v1.8h-1.8zM261.28 290h1.8v1.8h-1.8zM281.16 285.19h1.8v1.8h-1.8zM264.93 283.87h1.8v1.8h-1.8zM277.34 274.67h1.8v1.8h-1.8zM280.13 281.51h1.8v1.8h-1.8zM274.91 277.72h1.8v1.8h-1.8zM255.19 283.65h1.8v1.8h-1.8zM273.87 277.74h1.8v1.8h-1.8zM271.48 283.43h1.8v1.8h-1.8zM278.24 285.3h1.8v1.8h-1.8zM270.25 286.11h1.8v1.8h-1.8zM284.08 285.02h1.8v1.8h-1.8zM265.92 291.06h1.8v1.8h-1.8zM257.3 288.25h1.8v1.8h-1.8zM258.25 278.42h1.8v1.8h-1.8zM269.61 278.35h1.8v1.8h-1.8zM284.3 283.08h1.8v1.8h-1.8zM261.2 288.52h1.8v1.8h-1.8zM253.06 277.76h1.8v1.8h-1.8zM275.17 277.98h1.8v1.8h-1.8zM277.84 287.3h1.8v1.8h-1.8zM270.4 287.4h1.8v1.8h-1.8zM269.48 281.32h1.8v1.8h-1.8zM255.48 283.04h1.8v1.8h-1.8zM261.2 290.68h1.8v1.8h-1.8zM258.41 283.7h1.8v1.8h-1.8zM272.54 289.6h1.8v1.8h-1.8zM261.51 280.92h1.8v1.8h-1.8zM254.51 277.87h1.8v1.8h-1.8zM284.88 289.98h1.8v1.8h-1.8zM268.62 291.47h1.8v1.8h-1.8zM275.17 285.61h1.8v1.8h-1.8zM254.9 291.45h1.8v1.8h-1.8zM277.68 285.14h1.8v1.8h-1.8zM272.21 286.82h1.8v1.8h-1.8zM268.28 283.98h1.8v1.8h-1.8zM264.81 287.07h1.8v1.8h-1.8zM276.34 291.61h1.8v1.8h-1.8zM273.66 281.61h1.8v1.8h-1.8zM277.9 281.6h1.8v1.8h-1.8zM278.77 290.95h1.8v1.8h-1.8zM257.88 282.81h1.8v1.8h-1.8zM275.88 283.22h1.8v1.8h-1.8zM284.65 291.09h1.8v1.8h-1.8zM259.4 280.1h1.8v1.8h-1.8zM278.87 280.97h1.8v1.8h-1.8zM265.1 285.5h1.8v1.8h-1.8zM262.38 290h1.8v1.8h-1.8zM262.09 286.24h1.8v1.8h-1.8zM259.47 283.32h1.8v1.8h-1.8zM265.81 282.14h1.8v1.8h-1.8zM254.05 285.38h1.8v1.8h-1.8zM280.86 285.91h1.8v1.8h-1.8zM270.69 278.62h1.8v1.8h-1.8zM260.88 278.2h1.8v1.8h-1.8zM263.98 290.61h1.8v1.8h-1.8zM267.85 281.77h1.8v1.8h-1.8zM269.8 284.61h1.8v1.8h-1.8zM264.61 283.44h1.8v1.8h-1.8zM263.72 288.94h1.8v1.8h-1.8zM268.74 291.87h1.8v1.8h-1.8zM271.94 285.72h1.8v1.8h-1.8zM271.73 290.03h1.8v1.8h-1.8zM256.57 290.76h1.8v1.8h-1.8zM273.54 286.03h1.8v1.8h-1.8zM252.66 279.19h1.8v1.8h-1.8zM262.6 290.26h1.8v1.8h-1.8zM265.65 280.34h1.8v1.8h-1.8zM265.25 282.28h1.8v1.8h-1.8zM256.18 286.19h1.8v1.8h-1.8zM259.27 283.7h1.8v1.8h-1.8zM265.53 285.37h1.8v1.8h-1.8zM271.69 280.22h1.8v1.8h-1.8zM264.3 291.56h1.8v1.8h-1.8zM277.66 290.32h1.8v1.8h-1.8zM265.49 278.07h1.8v1.8h-1.8zM272.31 290.41h1.8v1.8h-1.8zM253.85 280.23h1.8v1.8h-1.8zM266.8 281.16h1.8v1.8h-1.8zM281.96 283.48h1.8v1.8h-1.8zM259.11 292.12h1.8v1.8h-1.8zM268.6 281.87h1.8v1.8h-1.8zM253.61 275.8h1.8v1.8h-1.8zM271.78 291.16h1.8v1.8h-1.8zM275.5 289.59h1.8v1.8h-1.8zM257.97 280.25h1.8v1.8h-1.8zM253.29 291.56h1.8v1.8h-1.8zM270.13 275.98h1.8v1.8h-1.8zM265.44 280.03h1.8v1.8h-1.8zM284 279.44h1.8v1.8h-1.8zM264.2 275.98h1.8v1.8h-1.8zM260.76 279.19h1.8v1.8h-1.8zM264.46 289.31h1.8v1.8h-1.8zM264 291.21h1.8v1.8h-1.8zM265.9 289.73h1.8v1.8h-1.8zM268.44 281.74h1.8v1.8h-1.8zM263.77 284.89h1.8v1.8h-1.8zM270.25 282.58h1.8v1.8h-1.8zM280.59 287.28h1.8v1.8h-1.8zM270.78 290.78h1.8v1.8h-1.8zM276.24 289.47h1.8v1.8h-1.8zM285.08 289.87h1.8v1.8h-1.8zM271.13 289.84h1.8v1.8h-1.8zM258.21 283.13h1.8v1.8h-1.8zM270.02 280.15h1.8v1.8h-1.8zM283.84 289.08h1.8v1.8h-1.8zM277.93 288.36h1.8v1.8h-1.8zM261.57 288.1h1.8v1.8h-1.8zM253.01 280.08h1.8v1.8h-1.8zM255.52 284.01h1.8v1.8h-1.8zM284.96 286.81h1.8v1.8h-1.8zM274.65 285.81h1.8v1.8h-1.8zM269.32 286.9h1.8v1.8h-1.8zM259.26 287.55h1.8v1.8h-1.8zM261.97 280.72h1.8v1.8h-1.8zM261.21 290.37h1.8v1.8h-1.8zM257.75 289.9h1.8v1.8h-1.8zM253.34 286.44h1.8v1.8h-1.8zM267.94 291.55h1.8v1.8h-1.8zM283.09 285.42h1.8v1.8h-1.8zM262.09 277.68h1.8v1.8h-1.8zM271.99 288.66h1.8v1.8h-1.8zM262.38 278.77h1.8v1.8h-1.8zM274.48 286.83h1.8v1.8h-1.8zM271.66 288.12h1.8v1.8h-1.8zM269.17 280.87h1.8v1.8h-1.8zM269.29 288.81h1.8v1.8h-1.8zM281.74 281.48h1.8v1.8h-1.8zM268.76 289.18h1.8v1.8h-1.8zM253.03 284.33h1.8v1.8h-1.8zM267.22 291.52h1.8v1.8h-1.8zM258.54 273.08h1.8v1.8h-1.8zM276.8 286.32h1.8v1.8h-1.8zM263.91 281.23h1.8v1.8h-1.8zM273.1 276.45h1.8v1.8h-1.8zM266.28 287.82h1.8v1.8h-1.8zM264.02 287.66h1.8v1.8h-1.8zM274.44 277.88h1.8v1.8h-1.8zM261.91 287.5h1.8v1.8h-1.8zM275.52 282.34h1.8v1.8h-1.8zM273.87 289.39h1.8v1.8h-1.8zM267.36 291.41h1.8v1.8h-1.8zM274.07 283.81h1.8v1.8h-1.8zM276.78 291.98h1.8v1.8h-1.8zM270.25 289.96h1.8v1.8h-1.8zM253.81 279.99h1.8v1.8h-1.8zM261.28 287.93h1.8v1.8h-1.8zM264.52 285.13h1.8v1.8h-1.8zM254.17 288.21h1.8v1.8h-1.8zM257 278.7h1.8v1.8h-1.8zM260.67 280.77h1.8v1.8h-1.8zM261.88 285.84h1.8v1.8h-1.8zM269.95 276.24h1.8v1.8h-1.8zM253.04 279.74h1.8v1.8h-1.8zM269.84 287.73h1.8v1.8h-1.8zM284.7 285.49h1.8v1.8h-1.8zM268.48 287.55h1.8v1.8h-1.8zM279.32 283.47h1.8v1.8h-1.8zM272.61 284.82h1.8v1.8h-1.8zM266.3 288.05h1.8v1.8h-1.8zM265.33 284.29h1.8v1.8h-1.8zM282.16 285.52h1.8v1.8h-1.8zM283.95 278.56h1.8v1.8h-1.8zM268.35 288.04h1.8v1.8h-1.8zM256.35 285.7h1.8v1.8h-1.8zM264.01 287.55h1.8v1.8h-1.8zM265.02 285.78h1.8v1.8h-1.8zM274.74 277.48h1.8v1.8h-1.8zM259.68 287.9h1.8v1.8h-1.8zM260.7 283.79h1.8v1.8h-1.8zM260.3 288.35h1.8v1.8h-1.8zM278.78 285.99h1.8v1.8h-1.8zM262.16 289.23h1.8v1.8h-1.8zM262.44 275.51h1.8v1.8h-1.8zM283.56 257.66h1.8v1.8h-1.8zM266.02 259.78h1.8v1.8h-1.8zM280.43 258.15h1.8v1.8h-1.8zM274.73 266.87h1.8v1.8h-1.8zM280.66 256.67h1.8v1.8h-1.8zM255.34 257.79h1.8v1.8h-1.8zM277.87 262.89h1.8v1.8h-1.8zM271.58 261.38h1.8v1.8h-1.8zM267.47 263.02h1.8v1.8h-1.8zM276.27 266.22h1.8v1.8h-1.8zM279.34 264.96h1.8v1.8h-1.8zM285.92 265.39h1.8v1.8h-1.8zM278.76 256.92h1.8v1.8h-1.8zM277.45 265.52h1.8v1.8h-1.8zM268.32 265.82h1.8v1.8h-1.8zM259.16 266.5h1.8v1.8h-1.8zM268.72 264.02h1.8v1.8h-1.8zM261.82 259.76h1.8v1.8h-1.8zM265.32 260.01h1.8v1.8h-1.8zM256.06 261.25h1.8v1.8h-1.8zM288.4 263.47h1.8v1.8h-1.8zM286.63 264.6h1.8v1.8h-1.8zM283.14 267.04h1.8v1.8h-1.8zM280.07 259.48h1.8v1.8h-1.8zM261.72 260.93h1.8v1.8h-1.8zM253.36 259.02h1.8v1.8h-1.8zM284.95 266.27h1.8v1.8h-1.8zM264.6 264.69h1.8v1.8h-1.8zM280.89 265.94h1.8v1.8h-1.8zM281.6 262.19h1.8v1.8h-1.8zM256.43 265.27h1.8v1.8h-1.8zM264.05 263.18h1.8v1.8h-1.8zM266 262.24h1.8v1.8h-1.8zM287.85 258.29h1.8v1.8h-1.8zM271.98 263.42h1.8v1.8h-1.8zM272.25 266.45h1.8v1.8h-1.8zM267.47 266.19h1.8v1.8h-1.8zM277.78 266.76h1.8v1.8h-1.8zM255.87 258.83h1.8v1.8h-1.8zM263.09 266.12h1.8v1.8h-1.8zM253.1 259.33h1.8v1.8h-1.8zM278.73 266.99h1.8v1.8h-1.8zM259.03 261.2h1.8v1.8h-1.8zM277.67 263.85h1.8v1.8h-1.8zM279.83 264.51h1.8v1.8h-1.8zM261.67 259.3h1.8v1.8h-1.8zM253.61 263.86h1.8v1.8h-1.8zM260.24 259.32h1.8v1.8h-1.8zM287.8 263.35h1.8v1.8h-1.8zM274.18 263.49h1.8v1.8h-1.8zM274.42 263.9h1.8v1.8h-1.8zM263.69 257.27h1.8v1.8h-1.8zM255.04 256.75h1.8v1.8h-1.8zM265.79 258.09h1.8v1.8h-1.8zM256.72 261.78h1.8v1.8h-1.8zM287.99 263.82h1.8v1.8h-1.8zM262.58 264.68h1.8v1.8h-1.8zM259.09 257.65h1.8v1.8h-1.8zM263.67 260.89h1.8v1.8h-1.8zM277.77 261.27h1.8v1.8h-1.8zM279.18 257.6h1.8v1.8h-1.8zM286.63 260.19h1.8v1.8h-1.8zM282.98 256.92h1.8v1.8h-1.8zM282.85 258.98h1.8v1.8h-1.8zM283.81 265.03h1.8v1.8h-1.8zM277.08 259.52h1.8v1.8h-1.8zM252.96 258.59h1.8v1.8h-1.8zM285.63 258.26h1.8v1.8h-1.8zM276.66 262.76h1.8v1.8h-1.8zM276.73 258.5h1.8v1.8h-1.8zM257.84 257.62h1.8v1.8h-1.8zM288.47 260.62h1.8v1.8h-1.8zM276.41 262.58h1.8v1.8h-1.8zM260.75 257.28h1.8v1.8h-1.8zM253.14 265.55h1.8v1.8h-1.8zM257.35 266.71h1.8v1.8h-1.8zM265.87 264.19h1.8v1.8h-1.8zM257.65 264.87h1.8v1.8h-1.8zM261.79 260.45h1.8v1.8h-1.8zM271.69 257.77h1.8v1.8h-1.8zM261.66 264.96h1.8v1.8h-1.8zM263.01 260.6h1.8v1.8h-1.8zM280.51 258.95h1.8v1.8h-1.8zM259.68 258.9h1.8v1.8h-1.8zM266.62 260.44h1.8v1.8h-1.8zM276.01 261.55h1.8v1.8h-1.8zM284.34 257.13h1.8v1.8h-1.8zM276.82 265.38h1.8v1.8h-1.8zM261.17 256.91h1.8v1.8h-1.8zM268.6 257.82h1.8v1.8h-1.8zM269.39 264.07h1.8v1.8h-1.8zM256.02 257.84h1.8v1.8h-1.8zM270.1 258.43h1.8v1.8h-1.8zM261.02 261.22h1.8v1.8h-1.8zM256.92 257.31h1.8v1.8h-1.8zM265.78 261.53h1.8v1.8h-1.8zM286.79 262.43h1.8v1.8h-1.8zM255.21 258.94h1.8v1.8h-1.8zM279.76 262.51h1.8v1.8h-1.8zM284.36 266.71h1.8v1.8h-1.8zM283.91 257.76h1.8v1.8h-1.8zM287.04 262.11h1.8v1.8h-1.8zM261.35 258.39h1.8v1.8h-1.8zM284.16 258.83h1.8v1.8h-1.8zM255.63 259.39h1.8v1.8h-1.8zM286.33 261.44h1.8v1.8h-1.8zM279.29 257.38h1.8v1.8h-1.8zM269.14 259.94h1.8v1.8h-1.8zM260.09 263.56h1.8v1.8h-1.8zM265.79 257.86h1.8v1.8h-1.8zM288.52 261.66h1.8v1.8h-1.8zM259.17 256.71h1.8v1.8h-1.8zM276.43 262h1.8v1.8h-1.8zM253.49 261.54h1.8v1.8h-1.8zM279.63 262.24h1.8v1.8h-1.8zM261.14 261.84h1.8v1.8h-1.8zM274.68 263.44h1.8v1.8h-1.8zM257.89 265.04h1.8v1.8h-1.8zM287.11 264.37h1.8v1.8h-1.8zM283.89 260.46h1.8v1.8h-1.8zM285.55 258.51h1.8v1.8h-1.8zM260.88 262.88h1.8v1.8h-1.8zM285.51 257.46h1.8v1.8h-1.8zM260.52 256.98h1.8v1.8h-1.8zM268.62 258.08h1.8v1.8h-1.8zM259.59 264.46h1.8v1.8h-1.8zM273.89 266.46h1.8v1.8h-1.8zM267.27 263.73h1.8v1.8h-1.8zM253.06 266.56h1.8v1.8h-1.8zM261.11 261.61h1.8v1.8h-1.8zM271.28 266.56h1.8v1.8h-1.8zM270.56 267.01h1.8v1.8h-1.8zM275.27 258.87h1.8v1.8h-1.8zM283.04 258.72h1.8v1.8h-1.8zM289.08 261.39h1.8v1.8h-1.8zM260.86 266.69h1.8v1.8h-1.8zM264.35 260.87h1.8v1.8h-1.8zM265.13 263.62h1.8v1.8h-1.8zM253.44 260.53h1.8v1.8h-1.8zM258.52 265.29h1.8v1.8h-1.8zM252.61 262.98h1.8v1.8h-1.8zM262.01 261.37h1.8v1.8h-1.8zM273.11 264.07h1.8v1.8h-1.8zM257.63 259.12h1.8v1.8h-1.8zM257 266.68h1.8v1.8h-1.8zM258.04 258.04h1.8v1.8h-1.8zM271.66 262.7h1.8v1.8h-1.8zM284.96 257.2h1.8v1.8h-1.8zM261.15 258.36h1.8v1.8h-1.8zM273.97 261.35h1.8v1.8h-1.8zM283.4 212.9h1.8v1.8h-1.8zM282.3 214.4h1.8v1.8h-1.8zM283.4 215.9h1.8v1.8h-1.8zM286.1 215.9h1.8v1.8h-1.8zM271.1 218.6h1.8v1.8h-1.8zM268 219.8h1.8v1.8h-1.8zM279.2 218.6h1.8v1.8h-1.8zM282.3 219.8h1.8v1.8h-1.8zM281.1 221.3h1.8v1.8h-1.8zM276.5 221.3h1.8v1.8h-1.8zM256.9 221.3h1.8v1.8h-1.8zM271.1 224h1.8v1.8h-1.8zM269.9 225.6h1.8v1.8h-1.8zM277.6 224.4h1.8v1.8h-1.8zM278.4 225.6h1.8v1.8h-1.8zM279.9 226.7h1.8v1.8h-1.8zM282.6 225.6h1.8v1.8h-1.8zM286.5 225.9h1.8v1.8h-1.8zM288 226.3h1.8v1.8h-1.8zM256.9 227.1h1.8v1.8h-1.8zM264.2 227.9h1.8v1.8h-1.8zM268 228.3h1.8v1.8h-1.8zM269.6 229.8h1.8v1.8h-1.8zM273.8 228.3h1.8v1.8h-1.8zM277.6 228.6h1.8v1.8h-1.8zM279.6 229.8h1.8v1.8h-1.8zM282.6 230.1h1.8v1.8h-1.8zM286.5 229.4h1.8v1.8h-1.8zM288.4 227.9h1.8v1.8h-1.8zM263.8 230.1h1.8v1.8h-1.8zM254.2 235.3h1.8v1.8h-1.8zM258.9 233h1.8v1.8h-1.8zM260 232.6h1.8v1.8h-1.8zM263.9 231.4h1.8v1.8h-1.8zM265.5 232.6h1.8v1.8h-1.8zM267.8 230.3h1.8v1.8h-1.8zM270.2 230.7h1.8v1.8h-1.8zM270.2 233.8h1.8v1.8h-1.8zM272.9 233h1.8v1.8h-1.8zM274.4 234.9h1.8v1.8h-1.8zM276 236.9h1.8v1.8h-1.8zM275.2 239.2h1.8v1.8h-1.8zM276.4 240.8h1.8v1.8h-1.8zM277.6 233.8h1.8v1.8h-1.8zM278.3 232.2h1.8v1.8h-1.8zM281.8 231.4h1.8v1.8h-1.8zM282.2 233.8h1.8v1.8h-1.8zM285.3 231.4h1.8v1.8h-1.8zM286.9 233h1.8v1.8h-1.8zM288.9 235.3h1.8v1.8h-1.8zM281.8 238.1h1.8v1.8h-1.8zM261.2 240h1.8v1.8h-1.8zM263.9 242.3h1.8v1.8h-1.8zM266.7 239.2h1.8v1.8h-1.8zM267.1 242.3h1.8v1.8h-1.8zM263.2 245.1h1.8v1.8h-1.8zM281.8 241.9h1.8v1.8h-1.8zM283.8 243.5h1.8v1.8h-1.8zM285.3 242.7h1.8v1.8h-1.8zM284.6 245.8h1.8v1.8h-1.8zM272.5 245.1h1.8v1.8h-1.8zM268.6 246.6h1.8v1.8h-1.8zM271.7 247.8h1.8v1.8h-1.8zM274.4 247.4h1.8v1.8h-1.8zM277.9 247.8h1.8v1.8h-1.8zM253 248.2h1.8v1.8h-1.8zM265.1 250.1h1.8v1.8h-1.8zM269.8 249.3h1.8v1.8h-1.8zM271.3 250.1h1.8v1.8h-1.8zM256.5 252.4h1.8v1.8h-1.8zM260.8 252.1h1.8v1.8h-1.8zM266.3 252.1h1.8v1.8h-1.8zM269 252.4h1.8v1.8h-1.8zM276.8 251.7h1.8v1.8h-1.8zM286.5 250.5h1.8v1.8h-1.8zM253 242.7h1.8v1.8h-1.8zM324.41 284.31h1.8v1.8h-1.8zM327.13 258.92h1.8v1.8h-1.8zM334 272.2h1.8v1.8h-1.8zM334.73 270.82h1.8v1.8h-1.8zM339.09 280.46h1.8v1.8h-1.8zM331.67 275.13h1.8v1.8h-1.8zM330.33 281.3h1.8v1.8h-1.8zM338.62 270.34h1.8v1.8h-1.8zM327.01 279.42h1.8v1.8h-1.8zM335.11 260.82h1.8v1.8h-1.8zM328.5 265.23h1.8v1.8h-1.8zM333.21 278.6h1.8v1.8h-1.8zM328.34 264.08h1.8v1.8h-1.8zM333.52 272.72h1.8v1.8h-1.8zM338.3 282.93h1.8v1.8h-1.8zM328.93 271.66h1.8v1.8h-1.8zM330.06 267.64h1.8v1.8h-1.8zM331.41 282.67h1.8v1.8h-1.8zM325.45 272.08h1.8v1.8h-1.8zM336.7 280.69h1.8v1.8h-1.8zM328.05 266.94h1.8v1.8h-1.8zM327.9 259.86h1.8v1.8h-1.8zM335.41 274.72h1.8v1.8h-1.8zM328.49 261.38h1.8v1.8h-1.8zM329.66 269.56h1.8v1.8h-1.8zM337.54 270.03h1.8v1.8h-1.8zM331.53 283.6h1.8v1.8h-1.8zM333.6 272.5h1.8v1.8h-1.8zM322.94 286.52h1.8v1.8h-1.8zM333.34 270.25h1.8v1.8h-1.8zM330.77 265.64h1.8v1.8h-1.8zM327.74 260.96h1.8v1.8h-1.8zM332.98 278.69h1.8v1.8h-1.8zM331.75 281.01h1.8v1.8h-1.8zM333.1 275.18h1.8v1.8h-1.8zM327.8 279.33h1.8v1.8h-1.8zM335.53 279.68h1.8v1.8h-1.8zM335.76 269.92h1.8v1.8h-1.8zM327.44 285.17h1.8v1.8h-1.8zM328.92 276.25h1.8v1.8h-1.8zM330.39 274.29h1.8v1.8h-1.8zM330.09 269.33h1.8v1.8h-1.8zM324.45 290.94h1.8v1.8h-1.8zM327.72 264.15h1.8v1.8h-1.8zM333.24 288.58h1.8v1.8h-1.8zM330.18 280.67h1.8v1.8h-1.8zM333.34 263.11h1.8v1.8h-1.8zM335.64 259.22h1.8v1.8h-1.8zM328.96 270.93h1.8v1.8h-1.8zM335.78 275.15h1.8v1.8h-1.8zM330.64 267.01h1.8v1.8h-1.8zM331.44 274.47h1.8v1.8h-1.8zM333.82 286.4h1.8v1.8h-1.8zM333.85 274.26h1.8v1.8h-1.8zM330.53 288.22h1.8v1.8h-1.8zM331.85 273.96h1.8v1.8h-1.8zM337.79 287.92h1.8v1.8h-1.8zM333.22 273.14h1.8v1.8h-1.8zM328.74 283.5h1.8v1.8h-1.8zM329.41 282.56h1.8v1.8h-1.8zM328.19 275.02h1.8v1.8h-1.8zM332.6 275.38h1.8v1.8h-1.8zM331.97 277.46h1.8v1.8h-1.8zM326.93 264.33h1.8v1.8h-1.8zM330.55 289.99h1.8v1.8h-1.8zM330.64 265.94h1.8v1.8h-1.8zM328.65 274.4h1.8v1.8h-1.8zM335.49 269.12h1.8v1.8h-1.8zM333.18 275.75h1.8v1.8h-1.8zM329.78 265.79h1.8v1.8h-1.8zM330.54 267.74h1.8v1.8h-1.8zM333.1 258.61h1.8v1.8h-1.8zM335.29 280.77h1.8v1.8h-1.8zM333.25 287.27h1.8v1.8h-1.8zM333.34 259.08h1.8v1.8h-1.8zM331.3 278.06h1.8v1.8h-1.8zM328.56 264.16h1.8v1.8h-1.8zM332.71 278.6h1.8v1.8h-1.8zM329.52 271.97h1.8v1.8h-1.8zM329.22 269.12h1.8v1.8h-1.8zM330.89 283.53h1.8v1.8h-1.8zM325.13 271.11h1.8v1.8h-1.8zM337.09 276.89h1.8v1.8h-1.8zM331.67 281.44h1.8v1.8h-1.8zM327.38 263.48h1.8v1.8h-1.8zM324.95 261.3h1.8v1.8h-1.8zM332.02 281.56h1.8v1.8h-1.8zM329.56 268.13h1.8v1.8h-1.8zM332.6 279.49h1.8v1.8h-1.8zM332.05 257.39h1.8v1.8h-1.8zM332 266.65h1.8v1.8h-1.8zM328.67 287.28h1.8v1.8h-1.8zM335.99 278.33h1.8v1.8h-1.8zM332.12 275.62h1.8v1.8h-1.8zM328.93 273.66h1.8v1.8h-1.8zM338.18 266.43h1.8v1.8h-1.8zM328.65 275.52h1.8v1.8h-1.8zM334.4 281.4h1.8v1.8h-1.8zM327.52 272.96h1.8v1.8h-1.8zM330.12 263.3h1.8v1.8h-1.8zM331.39 269.89h1.8v1.8h-1.8zM334.5 277.89h1.8v1.8h-1.8zM328.22 274.81h1.8v1.8h-1.8zM329.78 268.54h1.8v1.8h-1.8zM329.3 283.42h1.8v1.8h-1.8zM329.57 259.09h1.8v1.8h-1.8zM328.24 281.17h1.8v1.8h-1.8zM339.06 264.88h1.8v1.8h-1.8zM329.79 271.22h1.8v1.8h-1.8zM325.9 277.62h1.8v1.8h-1.8zM330.91 276.54h1.8v1.8h-1.8zM339.37 271.77h1.8v1.8h-1.8zM334.03 281.4h1.8v1.8h-1.8zM328.75 268.92h1.8v1.8h-1.8zM336.86 280.36h1.8v1.8h-1.8zM331.63 264.53h1.8v1.8h-1.8zM334.36 278.72h1.8v1.8h-1.8zM339.22 287h1.8v1.8h-1.8zM334.07 276.45h1.8v1.8h-1.8zM331.33 269.28h1.8v1.8h-1.8zM332.24 276.24h1.8v1.8h-1.8zM333.51 283.61h1.8v1.8h-1.8zM332.25 269.35h1.8v1.8h-1.8zM334.08 287.69h1.8v1.8h-1.8zM328.02 277.78h1.8v1.8h-1.8zM333.13 278.79h1.8v1.8h-1.8zM332.97 273.31h1.8v1.8h-1.8zM330.72 288.86h1.8v1.8h-1.8zM337.5 261.84h1.8v1.8h-1.8zM321.73 277.94h1.8v1.8h-1.8zM328.61 269.58h1.8v1.8h-1.8zM325.21 277.19h1.8v1.8h-1.8zM330.9 269.38h1.8v1.8h-1.8zM336.55 284.37h1.8v1.8h-1.8zM329.58 279.86h1.8v1.8h-1.8zM330.96 284.22h1.8v1.8h-1.8zM333.25 273.8h1.8v1.8h-1.8zM333.14 267.83h1.8v1.8h-1.8zM334.03 287.26h1.8v1.8h-1.8zM329.77 278.97h1.8v1.8h-1.8zM324.95 282.3h1.8v1.8h-1.8zM334.34 265.18h1.8v1.8h-1.8zM337.54 275.1h1.8v1.8h-1.8zM324.71 262.13h1.8v1.8h-1.8zM334.33 271.72h1.8v1.8h-1.8zM335.18 260.55h1.8v1.8h-1.8zM330.74 282.65h1.8v1.8h-1.8zM328.6 280.05h1.8v1.8h-1.8zM329.78 277.11h1.8v1.8h-1.8zM326.53 280.92h1.8v1.8h-1.8zM335.95 264.27h1.8v1.8h-1.8zM330.22 259.15h1.8v1.8h-1.8zM332.22 267.75h1.8v1.8h-1.8zM329.03 266.78h1.8v1.8h-1.8zM332.19 270.03h1.8v1.8h-1.8zM327.76 272.12h1.8v1.8h-1.8zM332.6 266.62h1.8v1.8h-1.8zM335.2 259.58h1.8v1.8h-1.8zM332.61 270.7h1.8v1.8h-1.8zM336.91 268.48h1.8v1.8h-1.8zM328.65 262.37h1.8v1.8h-1.8zM338.43 279.5h1.8v1.8h-1.8zM327.1 271.17h1.8v1.8h-1.8zM327.57 287.42h1.8v1.8h-1.8zM331.87 282.1h1.8v1.8h-1.8zM331.11 278.24h1.8v1.8h-1.8zM330.69 275.93h1.8v1.8h-1.8zM331.89 267.91h1.8v1.8h-1.8zM332.38 275.55h1.8v1.8h-1.8zM330.96 268.12h1.8v1.8h-1.8zM327.36 276.25h1.8v1.8h-1.8zM329.12 285.94h1.8v1.8h-1.8zM334.48 267.87h1.8v1.8h-1.8zM336.09 265.47h1.8v1.8h-1.8zM328.18 291.07h1.8v1.8h-1.8zM329.49 272.21h1.8v1.8h-1.8zM325.01 265.26h1.8v1.8h-1.8zM326.76 272.9h1.8v1.8h-1.8zM324.32 283.4h1.8v1.8h-1.8zM329.79 268.8h1.8v1.8h-1.8zM328.76 280.61h1.8v1.8h-1.8zM336.77 270.53h1.8v1.8h-1.8zM337.06 288.2h1.8v1.8h-1.8zM336.06 276.72h1.8v1.8h-1.8zM325.6 280h1.8v1.8h-1.8zM329.59 275.8h1.8v1.8h-1.8zM324.14 271.63h1.8v1.8h-1.8zM331.96 265.9h1.8v1.8h-1.8zM332.19 288.75h1.8v1.8h-1.8zM331.95 268.1h1.8v1.8h-1.8zM327.7 277.68h1.8v1.8h-1.8zM332.06 281.38h1.8v1.8h-1.8zM328.16 286.94h1.8v1.8h-1.8zM332.95 284.54h1.8v1.8h-1.8zM325.45 274.07h1.8v1.8h-1.8zM337.02 291.76h1.8v1.8h-1.8zM335.98 274.1h1.8v1.8h-1.8zM331.78 268.6h1.8v1.8h-1.8zM335.17 268.01h1.8v1.8h-1.8zM325.53 289.7h1.8v1.8h-1.8zM331.32 275.99h1.8v1.8h-1.8zM322.97 273.81h1.8v1.8h-1.8zM338.77 260.98h1.8v1.8h-1.8zM322.29 272.68h1.8v1.8h-1.8zM329.13 272.26h1.8v1.8h-1.8zM326.44 262.19h1.8v1.8h-1.8zM326.52 279.73h1.8v1.8h-1.8zM330.92 281.32h1.8v1.8h-1.8zM327.1 279.29h1.8v1.8h-1.8zM329.46 274.88h1.8v1.8h-1.8zM334.56 274.39h1.8v1.8h-1.8zM329.8 259.47h1.8v1.8h-1.8zM331.34 280.99h1.8v1.8h-1.8zM328.75 273.52h1.8v1.8h-1.8zM324.53 262.36h1.8v1.8h-1.8zM332.6 285.51h1.8v1.8h-1.8zM329.95 259.38h1.8v1.8h-1.8zM329.69 260.33h1.8v1.8h-1.8zM330.08 291.11h1.8v1.8h-1.8zM332.21 272.76h1.8v1.8h-1.8zM334.96 270.75h1.8v1.8h-1.8zM332.34 275.87h1.8v1.8h-1.8zM332.76 261.14h1.8v1.8h-1.8zM333.75 281.88h1.8v1.8h-1.8zM327.76 287.26h1.8v1.8h-1.8zM331.18 280.09h1.8v1.8h-1.8zM333.17 281.95h1.8v1.8h-1.8zM328.72 268.93h1.8v1.8h-1.8zM332.5 279.48h1.8v1.8h-1.8zM333.24 277.1h1.8v1.8h-1.8zM329.29 283.87h1.8v1.8h-1.8zM332.86 283.51h1.8v1.8h-1.8zM321.61 283.03h1.8v1.8h-1.8zM321.99 275.97h1.8v1.8h-1.8zM328.62 275.17h1.8v1.8h-1.8zM329.32 271.35h1.8v1.8h-1.8zM331.82 277.17h1.8v1.8h-1.8zM328.18 278.9h1.8v1.8h-1.8zM327.94 277.9h1.8v1.8h-1.8zM329.72 265.74h1.8v1.8h-1.8zM335.47 288.81h1.8v1.8h-1.8zM330.71 273.65h1.8v1.8h-1.8zM334.69 262.32h1.8v1.8h-1.8zM327.83 284.15h1.8v1.8h-1.8zM334.48 269.72h1.8v1.8h-1.8zM328.18 277.21h1.8v1.8h-1.8zM325.82 269.67h1.8v1.8h-1.8zM333.32 280.9h1.8v1.8h-1.8zM335.11 261.31h1.8v1.8h-1.8zM326.28 266.85h1.8v1.8h-1.8zM326.2 292.39h1.8v1.8h-1.8zM327.43 271.31h1.8v1.8h-1.8zM331.88 278.16h1.8v1.8h-1.8zM336.56 264.4h1.8v1.8h-1.8zM334.41 275.43h1.8v1.8h-1.8zM326.69 275.44h1.8v1.8h-1.8zM325.82 288.56h1.8v1.8h-1.8zM328.35 283.08h1.8v1.8h-1.8zM336 268.58h1.8v1.8h-1.8zM327.72 275.27h1.8v1.8h-1.8zM327.15 282.13h1.8v1.8h-1.8zM331.76 267.28h1.8v1.8h-1.8zM328.52 280.58h1.8v1.8h-1.8zM325.63 289.19h1.8v1.8h-1.8zM328.14 272.35h1.8v1.8h-1.8zM327.61 288.62h1.8v1.8h-1.8zM334.21 285.74h1.8v1.8h-1.8zM333.57 274.9h1.8v1.8h-1.8zM337.5 280.05h1.8v1.8h-1.8zM332.75 279.26h1.8v1.8h-1.8zM333.88 276.59h1.8v1.8h-1.8zM330.47 259.81h1.8v1.8h-1.8zM338.89 262.45h1.8v1.8h-1.8zM322.95 267.71h1.8v1.8h-1.8zM338.42 285.03h1.8v1.8h-1.8zM328.82 276.47h1.8v1.8h-1.8zM329.83 276.72h1.8v1.8h-1.8zM335.54 263.31h1.8v1.8h-1.8zM322.55 259.97h1.8v1.8h-1.8zM332.35 274.82h1.8v1.8h-1.8zM331.67 275.43h1.8v1.8h-1.8zM329.71 261.84h1.8v1.8h-1.8zM332.82 277.57h1.8v1.8h-1.8zM333.29 285.29h1.8v1.8h-1.8zM327.63 277.69h1.8v1.8h-1.8zM331.04 280.65h1.8v1.8h-1.8zM343.29 269.46h1.8v1.8h-1.8zM330.45 268.73h1.8v1.8h-1.8zM332.03 278.78h1.8v1.8h-1.8zM327.42 285.95h1.8v1.8h-1.8zM335.45 278.1h1.8v1.8h-1.8zM330.68 271.97h1.8v1.8h-1.8zM324.86 280h1.8v1.8h-1.8zM327.4 269.58h1.8v1.8h-1.8zM334.89 265.83h1.8v1.8h-1.8zM329.12 281.82h1.8v1.8h-1.8zM338.16 267.89h1.8v1.8h-1.8zM335.29 268.21h1.8v1.8h-1.8zM332.57 278.46h1.8v1.8h-1.8zM326.77 283.33h1.8v1.8h-1.8zM337.94 274.57h1.8v1.8h-1.8zM332.12 263.55h1.8v1.8h-1.8zM337.89 274.67h1.8v1.8h-1.8zM326.25 280.98h1.8v1.8h-1.8zM325.55 267.92h1.8v1.8h-1.8zM323 286.48h1.8v1.8h-1.8zM339.5 268.39h1.8v1.8h-1.8zM328.62 268.9h1.8v1.8h-1.8zM328.95 279.09h1.8v1.8h-1.8zM336.64 265.03h1.8v1.8h-1.8zM332.77 257.88h1.8v1.8h-1.8zM336.89 273.3h1.8v1.8h-1.8zM328.44 287.88h1.8v1.8h-1.8zM330.7 286.43h1.8v1.8h-1.8zM335.18 289.01h1.8v1.8h-1.8zM328.06 274.61h1.8v1.8h-1.8zM332.5 272.36h1.8v1.8h-1.8zM336.89 267.67h1.8v1.8h-1.8zM334.91 286.37h1.8v1.8h-1.8zM323.68 265.37h1.8v1.8h-1.8zM327.67 269.18h1.8v1.8h-1.8zM332.58 272.54h1.8v1.8h-1.8zM331.4 269.97h1.8v1.8h-1.8zM330.79 278.46h1.8v1.8h-1.8zM333.93 267.07h1.8v1.8h-1.8zM330.67 267.25h1.8v1.8h-1.8zM330.42 261.18h1.8v1.8h-1.8zM334.73 280.14h1.8v1.8h-1.8zM330.63 267.94h1.8v1.8h-1.8zM329.37 268.11h1.8v1.8h-1.8zM325.23 288.8h1.8v1.8h-1.8zM343.6 263.04h1.8v1.8h-1.8zM326.67 279.31h1.8v1.8h-1.8zM333.4 259.94h1.8v1.8h-1.8zM323.8 278.98h1.8v1.8h-1.8zM323.53 286.91h1.8v1.8h-1.8zM329.22 274.87h1.8v1.8h-1.8zM331.09 269.06h1.8v1.8h-1.8zM330.56 271.4h1.8v1.8h-1.8zM335.83 273.27h1.8v1.8h-1.8zM330.98 269.34h1.8v1.8h-1.8zM328.69 267.47h1.8v1.8h-1.8zM331.14 290.63h1.8v1.8h-1.8zM335.34 276.23h1.8v1.8h-1.8zM337.44 283.22h1.8v1.8h-1.8zM331.89 272.62h1.8v1.8h-1.8zM326.93 276.34h1.8v1.8h-1.8zM329.9 259.83h1.8v1.8h-1.8zM326.22 291.53h1.8v1.8h-1.8zM331.91 278.58h1.8v1.8h-1.8zM331.86 269.92h1.8v1.8h-1.8zM332.85 283.85h1.8v1.8h-1.8zM329.93 278.71h1.8v1.8h-1.8zM335 269.75h1.8v1.8h-1.8zM331.74 267.44h1.8v1.8h-1.8zM333.39 270.78h1.8v1.8h-1.8zM335.46 267.22h1.8v1.8h-1.8zM337.52 271.31h1.8v1.8h-1.8zM327.91 265.97h1.8v1.8h-1.8zM333.62 266.39h1.8v1.8h-1.8zM337.96 285.64h1.8v1.8h-1.8zM333.07 261.3h1.8v1.8h-1.8zM331.01 267.56h1.8v1.8h-1.8zM324.22 277.93h1.8v1.8h-1.8zM339.47 269.28h1.8v1.8h-1.8zM334.17 285.66h1.8v1.8h-1.8zM327.45 271.04h1.8v1.8h-1.8zM332.12 278.35h1.8v1.8h-1.8zM326.75 276.05h1.8v1.8h-1.8zM330.69 282.66h1.8v1.8h-1.8zM325.03 269.02h1.8v1.8h-1.8zM329.19 271.25h1.8v1.8h-1.8zM333.85 268.45h1.8v1.8h-1.8zM341.5 267.74h1.8v1.8h-1.8zM334.29 283.28h1.8v1.8h-1.8zM334.77 272.26h1.8v1.8h-1.8zM327.95 271.8h1.8v1.8h-1.8zM333.63 275.19h1.8v1.8h-1.8zM333.31 279.27h1.8v1.8h-1.8zM327.74 265.68h1.8v1.8h-1.8zM336.58 269.73h1.8v1.8h-1.8zM325.08 290.83h1.8v1.8h-1.8zM327.93 265.69h1.8v1.8h-1.8zM334.78 263.91h1.8v1.8h-1.8zM327.79 283.53h1.8v1.8h-1.8zM331.59 274.6h1.8v1.8h-1.8zM328.66 272.1h1.8v1.8h-1.8zM329.2 273.89h1.8v1.8h-1.8zM334.03 262.66h1.8v1.8h-1.8zM336.82 273.43h1.8v1.8h-1.8zM331.05 273.58h1.8v1.8h-1.8zM334.92 276.99h1.8v1.8h-1.8zM334.33 272.59h1.8v1.8h-1.8zM330.64 273.6h1.8v1.8h-1.8zM324.02 283.91h1.8v1.8h-1.8zM325.1 265.15h1.8v1.8h-1.8zM333.65 274.6h1.8v1.8h-1.8zM334.19 289.45h1.8v1.8h-1.8zM338.18 286.54h1.8v1.8h-1.8zM330.24 292.54h1.8v1.8h-1.8zM327.76 273.32h1.8v1.8h-1.8zM334.89 272.18h1.8v1.8h-1.8zM330.64 270.92h1.8v1.8h-1.8zM335.94 283.64h1.8v1.8h-1.8zM330.83 279.15h1.8v1.8h-1.8zM327.42 284.08h1.8v1.8h-1.8zM342.73 265.83h1.8v1.8h-1.8zM336.41 273.59h1.8v1.8h-1.8zM329.82 269.72h1.8v1.8h-1.8zM330.38 262.83h1.8v1.8h-1.8zM325.94 289.06h1.8v1.8h-1.8zM331.03 279.07h1.8v1.8h-1.8zM332.28 278.39h1.8v1.8h-1.8zM325.3 265.56h1.8v1.8h-1.8zM333.51 283.08h1.8v1.8h-1.8zM326.75 268.9h1.8v1.8h-1.8zM327.04 279.98h1.8v1.8h-1.8zM332.41 274.4h1.8v1.8h-1.8zM328.63 277.19h1.8v1.8h-1.8zM331.22 267.41h1.8v1.8h-1.8zM332.37 268.12h1.8v1.8h-1.8zM334.72 279.73h1.8v1.8h-1.8zM328.49 279.38h1.8v1.8h-1.8zM331.36 267.75h1.8v1.8h-1.8zM327.63 259.14h1.8v1.8h-1.8zM326.8 277.22h1.8v1.8h-1.8zM335.69 268.45h1.8v1.8h-1.8zM331.71 277.2h1.8v1.8h-1.8zM334.07 278.09h1.8v1.8h-1.8zM335.76 281h1.8v1.8h-1.8zM328.2 277.67h1.8v1.8h-1.8zM322.2 272.49h1.8v1.8h-1.8zM331.18 279.31h1.8v1.8h-1.8zM329.95 281.59h1.8v1.8h-1.8zM336.12 266.55h1.8v1.8h-1.8zM329.04 276.44h1.8v1.8h-1.8zM332.96 275.39h1.8v1.8h-1.8zM334.26 263.46h1.8v1.8h-1.8zM334.05 284.6h1.8v1.8h-1.8zM335.32 277.94h1.8v1.8h-1.8zM330.2 277.7h1.8v1.8h-1.8zM330.82 259.82h1.8v1.8h-1.8zM328.8 273.74h1.8v1.8h-1.8zM329.14 265.71h1.8v1.8h-1.8zM330.22 270.76h1.8v1.8h-1.8zM331.36 273.66h1.8v1.8h-1.8zM331.75 283.04h1.8v1.8h-1.8zM331.62 277.76h1.8v1.8h-1.8zM329.58 280.2h1.8v1.8h-1.8zM329.81 268.49h1.8v1.8h-1.8zM326.39 282.13h1.8v1.8h-1.8zM329.1 276.31h1.8v1.8h-1.8zM335.4 278.92h1.8v1.8h-1.8zM339.62 272.91h1.8v1.8h-1.8zM334.73 280.34h1.8v1.8h-1.8zM328.61 274.53h1.8v1.8h-1.8zM328.95 264.88h1.8v1.8h-1.8zM332.24 267.13h1.8v1.8h-1.8zM337.48 267.43h1.8v1.8h-1.8zM329.03 274.92h1.8v1.8h-1.8zM329.13 274.58h1.8v1.8h-1.8zM328.79 261.3h1.8v1.8h-1.8zM321.93 262.49h1.8v1.8h-1.8zM336.88 278.1h1.8v1.8h-1.8zM331.68 269.92h1.8v1.8h-1.8zM330.55 276.79h1.8v1.8h-1.8zM325.82 266.92h1.8v1.8h-1.8zM327.72 285.43h1.8v1.8h-1.8zM327.09 284.65h1.8v1.8h-1.8zM330.8 274.39h1.8v1.8h-1.8zM336.23 281.97h1.8v1.8h-1.8zM334.67 264.48h1.8v1.8h-1.8zM335.42 289.22h1.8v1.8h-1.8zM330.71 269.74h1.8v1.8h-1.8zM326.95 283.26h1.8v1.8h-1.8zM332.22 274.16h1.8v1.8h-1.8zM326.41 288.69h1.8v1.8h-1.8zM334.43 273.92h1.8v1.8h-1.8zM336.71 265.54h1.8v1.8h-1.8zM334.45 265.11h1.8v1.8h-1.8zM336.46 271.62h1.8v1.8h-1.8zM335.75 270.36h1.8v1.8h-1.8zM332.61 284.38h1.8v1.8h-1.8zM327.67 274.97h1.8v1.8h-1.8zM327.91 281.77h1.8v1.8h-1.8zM328.81 270.74h1.8v1.8h-1.8zM330.33 284.58h1.8v1.8h-1.8zM327.14 273.87h1.8v1.8h-1.8zM329.85 269.15h1.8v1.8h-1.8zM328.11 272.66h1.8v1.8h-1.8zM331.84 260.17h1.8v1.8h-1.8zM331.99 263.44h1.8v1.8h-1.8zM327.42 273.51h1.8v1.8h-1.8zM330.13 282.93h1.8v1.8h-1.8zM329.3 258.03h1.8v1.8h-1.8zM324.98 275.69h1.8v1.8h-1.8zM332.06 283.7h1.8v1.8h-1.8zM329.06 280.09h1.8v1.8h-1.8zM327.06 285.76h1.8v1.8h-1.8zM330.83 268h1.8v1.8h-1.8zM331.78 289.78h1.8v1.8h-1.8zM327.88 262.94h1.8v1.8h-1.8zM327.24 263.7h1.8v1.8h-1.8zM330.91 277.26h1.8v1.8h-1.8zM330.48 275.87h1.8v1.8h-1.8zM335.6 271.5h1.8v1.8h-1.8zM332.02 267.98h1.8v1.8h-1.8zM330.15 277.79h1.8v1.8h-1.8zM332.86 259.99h1.8v1.8h-1.8zM327.46 274.77h1.8v1.8h-1.8zM330.55 284.42h1.8v1.8h-1.8zM335.55 259.38h1.8v1.8h-1.8zM327.41 277.61h1.8v1.8h-1.8zM332.01 278.92h1.8v1.8h-1.8zM333.15 267.65h1.8v1.8h-1.8zM335.87 258.9h1.8v1.8h-1.8zM328.87 276.7h1.8v1.8h-1.8zM331.62 265.47h1.8v1.8h-1.8zM337.1 287.34h1.8v1.8h-1.8zM327.55 277.46h1.8v1.8h-1.8zM328.69 270.21h1.8v1.8h-1.8zM334.85 275.24h1.8v1.8h-1.8zM330.69 275.02h1.8v1.8h-1.8zM326.65 285.09h1.8v1.8h-1.8zM328.25 285.88h1.8v1.8h-1.8zM329.36 270h1.8v1.8h-1.8zM336.75 275.82h1.8v1.8h-1.8zM328.67 269.28h1.8v1.8h-1.8zM333.4 290.94h1.8v1.8h-1.8zM333.43 270.56h1.8v1.8h-1.8zM326.84 268.05h1.8v1.8h-1.8zM330.65 276.3h1.8v1.8h-1.8zM328.61 285.62h1.8v1.8h-1.8zM327.46 267.67h1.8v1.8h-1.8zM332.99 278.43h1.8v1.8h-1.8zM329.62 282.76h1.8v1.8h-1.8zM325.75 288.8h1.8v1.8h-1.8zM339.41 291.67h1.8v1.8h-1.8zM331.55 291.8h1.8v1.8h-1.8zM331.3 286.06h1.8v1.8h-1.8zM330.34 275.85h1.8v1.8h-1.8zM333.09 258.38h1.8v1.8h-1.8zM330.31 289.56h1.8v1.8h-1.8zM334.6 277.05h1.8v1.8h-1.8zM331.84 286.58h1.8v1.8h-1.8zM327.51 271.44h1.8v1.8h-1.8zM331.65 270.07h1.8v1.8h-1.8zM330.7 289.11h1.8v1.8h-1.8zM334.66 279.52h1.8v1.8h-1.8zM331.16 274.67h1.8v1.8h-1.8zM332.48 276.28h1.8v1.8h-1.8zM328.35 281.13h1.8v1.8h-1.8zM327.96 273.74h1.8v1.8h-1.8zM329.74 263.75h1.8v1.8h-1.8zM333.4 273.48h1.8v1.8h-1.8zM326.68 273.4h1.8v1.8h-1.8zM325.87 287h1.8v1.8h-1.8zM333.06 291.95h1.8v1.8h-1.8zM328.95 280.44h1.8v1.8h-1.8zM327.43 266.45h1.8v1.8h-1.8zM330.76 277.79h1.8v1.8h-1.8zM334.61 271.7h1.8v1.8h-1.8zM335.28 282.76h1.8v1.8h-1.8zM327.78 272.5h1.8v1.8h-1.8zM327.63 289.41h1.8v1.8h-1.8zM329.01 282.04h1.8v1.8h-1.8zM334.56 271.82h1.8v1.8h-1.8zM329.26 277.19h1.8v1.8h-1.8zM328.16 262.76h1.8v1.8h-1.8zM327.44 277.14h1.8v1.8h-1.8zM331.83 289.91h1.8v1.8h-1.8zM324.18 278.61h1.8v1.8h-1.8zM326.73 284.45h1.8v1.8h-1.8zM333.73 275.24h1.8v1.8h-1.8zM336.68 270.76h1.8v1.8h-1.8zM329.09 264.68h1.8v1.8h-1.8zM328.62 275.13h1.8v1.8h-1.8zM333.64 285.57h1.8v1.8h-1.8zM330.08 267.56h1.8v1.8h-1.8zM329.84 270.26h1.8v1.8h-1.8zM329.33 270.5h1.8v1.8h-1.8zM327.81 273.63h1.8v1.8h-1.8zM329.16 272.59h1.8v1.8h-1.8zM325.87 275.4h1.8v1.8h-1.8zM333.26 279.89h1.8v1.8h-1.8zM329.03 263.91h1.8v1.8h-1.8zM326.19 263.62h1.8v1.8h-1.8zM328.67 271.33h1.8v1.8h-1.8zM324.41 280.09h1.8v1.8h-1.8zM325.29 267.98h1.8v1.8h-1.8zM328.38 281.5h1.8v1.8h-1.8zM338.04 270.94h1.8v1.8h-1.8zM330.07 270.6h1.8v1.8h-1.8zM330.35 272.59h1.8v1.8h-1.8zM340.4 264.39h1.8v1.8h-1.8zM330.69 267.06h1.8v1.8h-1.8zM332.44 269.47h1.8v1.8h-1.8zM333.27 264.47h1.8v1.8h-1.8zM339.05 275.97h1.8v1.8h-1.8zM324.45 280.34h1.8v1.8h-1.8zM337.94 262.1h1.8v1.8h-1.8zM340.19 266.51h1.8v1.8h-1.8zM340.93 266.31h1.8v1.8h-1.8zM341.33 271.13h1.8v1.8h-1.8zM339.99 271.19h1.8v1.8h-1.8zM338.2 267.6h1.8v1.8h-1.8zM340.22 275.01h1.8v1.8h-1.8zM338.09 285.58h1.8v1.8h-1.8zM343.28 262.18h1.8v1.8h-1.8zM341.79 269.62h1.8v1.8h-1.8zM339.68 264.65h1.8v1.8h-1.8zM343.18 264.41h1.8v1.8h-1.8zM338.9 265.1h1.8v1.8h-1.8zM343.88 278.76h1.8v1.8h-1.8zM335.84 267h1.8v1.8h-1.8zM340 267.13h1.8v1.8h-1.8zM338.23 262.68h1.8v1.8h-1.8zM339.72 262.57h1.8v1.8h-1.8zM341.16 286.65h1.8v1.8h-1.8zM338.3 281.45h1.8v1.8h-1.8zM340.02 265.49h1.8v1.8h-1.8zM338.25 263.48h1.8v1.8h-1.8zM339.38 274.93h1.8v1.8h-1.8zM341.4 268.19h1.8v1.8h-1.8zM336.16 269.59h1.8v1.8h-1.8zM343.23 272.05h1.8v1.8h-1.8zM338.03 273.86h1.8v1.8h-1.8zM336.77 279.4h1.8v1.8h-1.8zM337.71 264.12h1.8v1.8h-1.8zM337.67 269.48h1.8v1.8h-1.8zM341.56 266.23h1.8v1.8h-1.8zM334.71 269.57h1.8v1.8h-1.8zM340.39 280.71h1.8v1.8h-1.8zM336.34 280.3h1.8v1.8h-1.8zM340.77 273.24h1.8v1.8h-1.8zM337.21 264.05h1.8v1.8h-1.8zM336.75 276.53h1.8v1.8h-1.8zM339.64 277.45h1.8v1.8h-1.8zM343.58 270.25h1.8v1.8h-1.8zM338.98 283.29h1.8v1.8h-1.8zM335.89 267.04h1.8v1.8h-1.8zM338.19 267.52h1.8v1.8h-1.8zM339.45 264.37h1.8v1.8h-1.8zM341.96 260.76h1.8v1.8h-1.8zM337.1 258.53h1.8v1.8h-1.8zM335.65 274.16h1.8v1.8h-1.8zM340.65 268.78h1.8v1.8h-1.8zM341.18 274.37h1.8v1.8h-1.8zM337.68 269.86h1.8v1.8h-1.8zM340 283.92h1.8v1.8h-1.8zM338.02 272.67h1.8v1.8h-1.8zM340.44 278.49h1.8v1.8h-1.8zM340.15 277.49h1.8v1.8h-1.8zM336.48 268.33h1.8v1.8h-1.8zM334.34 269.79h1.8v1.8h-1.8zM344.83 271.79h1.8v1.8h-1.8zM339.32 271.96h1.8v1.8h-1.8zM339.46 261.06h1.8v1.8h-1.8zM337.4 268.94h1.8v1.8h-1.8zM339.51 264.23h1.8v1.8h-1.8zM338.84 265.11h1.8v1.8h-1.8zM335.86 265.63h1.8v1.8h-1.8zM337.12 275.88h1.8v1.8h-1.8zM342.39 274.11h1.8v1.8h-1.8zM338.58 266.33h1.8v1.8h-1.8zM335.24 266.54h1.8v1.8h-1.8zM342.95 278.04h1.8v1.8h-1.8zM339.65 268.46h1.8v1.8h-1.8zM339.11 273.03h1.8v1.8h-1.8zM339.08 273.07h1.8v1.8h-1.8zM308.56 279.51h1.8v1.8h-1.8zM311.03 287.56h1.8v1.8h-1.8zM305.79 289.29h1.8v1.8h-1.8zM312.6 275.22h1.8v1.8h-1.8zM313.23 280.12h1.8v1.8h-1.8zM311.73 282.46h1.8v1.8h-1.8zM309.7 265.93h1.8v1.8h-1.8zM317.21 278.96h1.8v1.8h-1.8zM322.92 282.17h1.8v1.8h-1.8zM301.3 288.84h1.8v1.8h-1.8zM309.05 283.43h1.8v1.8h-1.8zM306.65 278.44h1.8v1.8h-1.8zM303.63 284.37h1.8v1.8h-1.8zM316.42 271.15h1.8v1.8h-1.8zM315.77 286.45h1.8v1.8h-1.8zM317.86 273.93h1.8v1.8h-1.8zM309.02 270.42h1.8v1.8h-1.8zM305.48 281.62h1.8v1.8h-1.8zM313.34 289.31h1.8v1.8h-1.8zM314.72 276.65h1.8v1.8h-1.8zM304.69 291.2h1.8v1.8h-1.8zM314.07 278.92h1.8v1.8h-1.8zM307.18 271h1.8v1.8h-1.8zM316.83 271.58h1.8v1.8h-1.8zM316.55 284.06h1.8v1.8h-1.8zM310.85 266.54h1.8v1.8h-1.8zM315.52 290.11h1.8v1.8h-1.8zM308.24 269.34h1.8v1.8h-1.8zM319.52 280.28h1.8v1.8h-1.8zM309.43 288.71h1.8v1.8h-1.8zM311.47 282.68h1.8v1.8h-1.8zM310.73 273.33h1.8v1.8h-1.8zM314.4 272.49h1.8v1.8h-1.8zM302.65 274.97h1.8v1.8h-1.8zM320.37 287.71h1.8v1.8h-1.8zM316.44 243.97h1.8v1.8h-1.8zM315.06 240.36h1.8v1.8h-1.8zM310.03 241.41h1.8v1.8h-1.8zM308.77 242.72h1.8v1.8h-1.8zM310 240.4h1.8v1.8h-1.8zM309.01 238.5h1.8v1.8h-1.8zM313.51 238.1h1.8v1.8h-1.8zM309.45 240.52h1.8v1.8h-1.8zM313.26 238.24h1.8v1.8h-1.8zM308.23 231.59h1.8v1.8h-1.8zM307.81 244.32h1.8v1.8h-1.8zM310.88 241.47h1.8v1.8h-1.8zM313.73 240.53h1.8v1.8h-1.8zM312.28 236.7h1.8v1.8h-1.8zM304.1 198.8h1.8v1.8h-1.8zM317.1 229.6h1.8v1.8h-1.8zM299.1 247.1h1.8v1.8h-1.8zM295.1 249.1h1.8v1.8h-1.8zM339.1 251.1h1.8v1.8h-1.8zM329.1 250.1h1.8v1.8h-1.8z" fill="#000"/>
<rect x="402.25" y="192.75" width="105" height="101.75" fill="none" stroke="#000" stroke-width="1.6"/>
<line x1="441.6" y1="192.75" x2="441.6" y2="294.5" stroke="#000" stroke-width="1.5"/>
<line x1="402.25" y1="255.5" x2="507.25" y2="255.5" stroke="#000" stroke-width="1.5"/>
<line x1="401.45" y1="294.3" x2="395.95" y2="294.3" stroke="#000" stroke-width="1.25"/>
<line x1="401.45" y1="286.78" x2="398.65" y2="286.78" stroke="#000" stroke-width="1.25"/>
<line x1="401.45" y1="282.38" x2="398.65" y2="282.38" stroke="#000" stroke-width="1.25"/>
<line x1="401.45" y1="279.26" x2="398.65" y2="279.26" stroke="#000" stroke-width="1.25"/>
<line x1="401.45" y1="276.83" x2="398.65" y2="276.83" stroke="#000" stroke-width="1.25"/>
<line x1="401.45" y1="274.86" x2="398.65" y2="274.86" stroke="#000" stroke-width="1.25"/>
<line x1="401.45" y1="273.18" x2="398.65" y2="273.18" stroke="#000" stroke-width="1.25"/>
<line x1="401.45" y1="271.73" x2="398.65" y2="271.73" stroke="#000" stroke-width="1.25"/>
<line x1="401.45" y1="270.46" x2="398.65" y2="270.46" stroke="#000" stroke-width="1.25"/>
<line x1="401.45" y1="269.31" x2="395.95" y2="269.31" stroke="#000" stroke-width="1.25"/>
<line x1="401.45" y1="261.79" x2="398.65" y2="261.79" stroke="#000" stroke-width="1.25"/>
<line x1="401.45" y1="257.39" x2="398.65" y2="257.39" stroke="#000" stroke-width="1.25"/>
<line x1="401.45" y1="254.27" x2="398.65" y2="254.27" stroke="#000" stroke-width="1.25"/>
<line x1="401.45" y1="251.85" x2="398.65" y2="251.85" stroke="#000" stroke-width="1.25"/>
<line x1="401.45" y1="249.87" x2="398.65" y2="249.87" stroke="#000" stroke-width="1.25"/>
<line x1="401.45" y1="248.2" x2="398.65" y2="248.2" stroke="#000" stroke-width="1.25"/>
<line x1="401.45" y1="246.75" x2="398.65" y2="246.75" stroke="#000" stroke-width="1.25"/>
<line x1="401.45" y1="245.47" x2="398.65" y2="245.47" stroke="#000" stroke-width="1.25"/>
<line x1="401.45" y1="244.32" x2="395.95" y2="244.32" stroke="#000" stroke-width="1.25"/>
<line x1="401.45" y1="236.8" x2="398.65" y2="236.8" stroke="#000" stroke-width="1.25"/>
<line x1="401.45" y1="232.4" x2="398.65" y2="232.4" stroke="#000" stroke-width="1.25"/>
<line x1="401.45" y1="229.28" x2="398.65" y2="229.28" stroke="#000" stroke-width="1.25"/>
<line x1="401.45" y1="226.86" x2="398.65" y2="226.86" stroke="#000" stroke-width="1.25"/>
<line x1="401.45" y1="224.88" x2="398.65" y2="224.88" stroke="#000" stroke-width="1.25"/>
<line x1="401.45" y1="223.21" x2="398.65" y2="223.21" stroke="#000" stroke-width="1.25"/>
<line x1="401.45" y1="221.76" x2="398.65" y2="221.76" stroke="#000" stroke-width="1.25"/>
<line x1="401.45" y1="220.48" x2="398.65" y2="220.48" stroke="#000" stroke-width="1.25"/>
<line x1="401.45" y1="219.34" x2="395.95" y2="219.34" stroke="#000" stroke-width="1.25"/>
<line x1="401.45" y1="211.82" x2="398.65" y2="211.82" stroke="#000" stroke-width="1.25"/>
<line x1="401.45" y1="207.42" x2="398.65" y2="207.42" stroke="#000" stroke-width="1.25"/>
<line x1="401.45" y1="204.29" x2="398.65" y2="204.29" stroke="#000" stroke-width="1.25"/>
<line x1="401.45" y1="201.87" x2="398.65" y2="201.87" stroke="#000" stroke-width="1.25"/>
<line x1="401.45" y1="199.89" x2="398.65" y2="199.89" stroke="#000" stroke-width="1.25"/>
<line x1="401.45" y1="198.22" x2="398.65" y2="198.22" stroke="#000" stroke-width="1.25"/>
<line x1="401.45" y1="196.77" x2="398.65" y2="196.77" stroke="#000" stroke-width="1.25"/>
<line x1="401.45" y1="195.49" x2="398.65" y2="195.49" stroke="#000" stroke-width="1.25"/>
<line x1="401.45" y1="194.35" x2="395.95" y2="194.35" stroke="#000" stroke-width="1.25"/>
<line x1="403.75" y1="295.3" x2="403.75" y2="300.8" stroke="#000" stroke-width="1.25"/>
<line x1="411.48" y1="295.3" x2="411.48" y2="298.1" stroke="#000" stroke-width="1.25"/>
<line x1="416" y1="295.3" x2="416" y2="298.1" stroke="#000" stroke-width="1.25"/>
<line x1="419.21" y1="295.3" x2="419.21" y2="298.1" stroke="#000" stroke-width="1.25"/>
<line x1="421.7" y1="295.3" x2="421.7" y2="298.1" stroke="#000" stroke-width="1.25"/>
<line x1="423.73" y1="295.3" x2="423.73" y2="298.1" stroke="#000" stroke-width="1.25"/>
<line x1="425.45" y1="295.3" x2="425.45" y2="298.1" stroke="#000" stroke-width="1.25"/>
<line x1="426.94" y1="295.3" x2="426.94" y2="298.1" stroke="#000" stroke-width="1.25"/>
<line x1="428.25" y1="295.3" x2="428.25" y2="298.1" stroke="#000" stroke-width="1.25"/>
<line x1="429.43" y1="295.3" x2="429.43" y2="300.8" stroke="#000" stroke-width="1.25"/>
<line x1="437.15" y1="295.3" x2="437.15" y2="298.1" stroke="#000" stroke-width="1.25"/>
<line x1="441.68" y1="295.3" x2="441.68" y2="298.1" stroke="#000" stroke-width="1.25"/>
<line x1="444.88" y1="295.3" x2="444.88" y2="298.1" stroke="#000" stroke-width="1.25"/>
<line x1="447.37" y1="295.3" x2="447.37" y2="298.1" stroke="#000" stroke-width="1.25"/>
<line x1="449.4" y1="295.3" x2="449.4" y2="298.1" stroke="#000" stroke-width="1.25"/>
<line x1="451.12" y1="295.3" x2="451.12" y2="298.1" stroke="#000" stroke-width="1.25"/>
<line x1="452.61" y1="295.3" x2="452.61" y2="298.1" stroke="#000" stroke-width="1.25"/>
<line x1="453.93" y1="295.3" x2="453.93" y2="298.1" stroke="#000" stroke-width="1.25"/>
<line x1="455.1" y1="295.3" x2="455.1" y2="300.8" stroke="#000" stroke-width="1.25"/>
<line x1="462.83" y1="295.3" x2="462.83" y2="298.1" stroke="#000" stroke-width="1.25"/>
<line x1="467.35" y1="295.3" x2="467.35" y2="298.1" stroke="#000" stroke-width="1.25"/>
<line x1="470.56" y1="295.3" x2="470.56" y2="298.1" stroke="#000" stroke-width="1.25"/>
<line x1="473.05" y1="295.3" x2="473.05" y2="298.1" stroke="#000" stroke-width="1.25"/>
<line x1="475.08" y1="295.3" x2="475.08" y2="298.1" stroke="#000" stroke-width="1.25"/>
<line x1="476.8" y1="295.3" x2="476.8" y2="298.1" stroke="#000" stroke-width="1.25"/>
<line x1="478.29" y1="295.3" x2="478.29" y2="298.1" stroke="#000" stroke-width="1.25"/>
<line x1="479.6" y1="295.3" x2="479.6" y2="298.1" stroke="#000" stroke-width="1.25"/>
<line x1="480.77" y1="295.3" x2="480.77" y2="300.8" stroke="#000" stroke-width="1.25"/>
<line x1="488.5" y1="295.3" x2="488.5" y2="298.1" stroke="#000" stroke-width="1.25"/>
<line x1="493.03" y1="295.3" x2="493.03" y2="298.1" stroke="#000" stroke-width="1.25"/>
<line x1="496.23" y1="295.3" x2="496.23" y2="298.1" stroke="#000" stroke-width="1.25"/>
<line x1="498.72" y1="295.3" x2="498.72" y2="298.1" stroke="#000" stroke-width="1.25"/>
<line x1="500.75" y1="295.3" x2="500.75" y2="298.1" stroke="#000" stroke-width="1.25"/>
<line x1="502.47" y1="295.3" x2="502.47" y2="298.1" stroke="#000" stroke-width="1.25"/>
<line x1="503.96" y1="295.3" x2="503.96" y2="298.1" stroke="#000" stroke-width="1.25"/>
<line x1="505.28" y1="295.3" x2="505.28" y2="298.1" stroke="#000" stroke-width="1.25"/>
<line x1="506.45" y1="295.3" x2="506.45" y2="300.8" stroke="#000" stroke-width="1.25"/>
<text transform="translate(392.55,293.3) rotate(-90) scale(0.87,1)" font-family="'Liberation Sans', sans-serif" font-size="14.2" text-anchor="middle">1<tspan dx="-1.8">0</tspan><tspan dx="2" dy="-6.6" font-size="12">0</tspan></text>
<text transform="translate(392.55,268.31) rotate(-90) scale(0.87,1)" font-family="'Liberation Sans', sans-serif" font-size="14.2" text-anchor="middle">1<tspan dx="-1.8">0</tspan><tspan dx="2" dy="-6.6" font-size="12">1</tspan></text>
<text transform="translate(392.55,243.32) rotate(-90) scale(0.87,1)" font-family="'Liberation Sans', sans-serif" font-size="14.2" text-anchor="middle">1<tspan dx="-1.8">0</tspan><tspan dx="2" dy="-6.6" font-size="12">2</tspan></text>
<text transform="translate(392.55,218.34) rotate(-90) scale(0.87,1)" font-family="'Liberation Sans', sans-serif" font-size="14.2" text-anchor="middle">1<tspan dx="-1.8">0</tspan><tspan dx="2" dy="-6.6" font-size="12">3</tspan></text>
<text transform="translate(392.55,193.35) rotate(-90) scale(0.87,1)" font-family="'Liberation Sans', sans-serif" font-size="14.2" text-anchor="middle">1<tspan dx="-1.8">0</tspan><tspan dx="2" dy="-6.6" font-size="12">4</tspan></text>
<text x="403.75" y="315.5" font-family="'Liberation Sans', sans-serif" font-size="14.2" text-anchor="middle">1<tspan dx="-1.8">0</tspan><tspan dx="0.6" dy="-7" font-size="12">0</tspan></text>
<text x="429.43" y="315.5" font-family="'Liberation Sans', sans-serif" font-size="14.2" text-anchor="middle">1<tspan dx="-1.8">0</tspan><tspan dx="0.6" dy="-7" font-size="12">1</tspan></text>
<text x="455.1" y="315.5" font-family="'Liberation Sans', sans-serif" font-size="14.2" text-anchor="middle">1<tspan dx="-1.8">0</tspan><tspan dx="0.6" dy="-7" font-size="12">2</tspan></text>
<text x="480.77" y="315.5" font-family="'Liberation Sans', sans-serif" font-size="14.2" text-anchor="middle">1<tspan dx="-1.8">0</tspan><tspan dx="0.6" dy="-7" font-size="12">3</tspan></text>
<text x="506.45" y="315.5" font-family="'Liberation Sans', sans-serif" font-size="14.2" text-anchor="middle">1<tspan dx="-1.8">0</tspan><tspan dx="0.6" dy="-7" font-size="12">4</tspan></text>
<text transform="translate(374.55,248.5) rotate(-90)" font-family="'Liberation Sans', sans-serif" font-size="13.5" text-anchor="middle">CD19-PC5</text>
<text x="427.5" y="329.8" font-family="'Liberation Sans', sans-serif" font-size="13.3" text-anchor="start" >CD33-PE</text>
<text x="405" y="205.5" font-family="'Liberation Serif', serif" font-size="13.8" text-anchor="start"  class="s">52</text>
<text x="491" y="292.2" font-family="'Liberation Serif', serif" font-size="14" text-anchor="start"  class="s">10</text>
<path d="M402.73 234.51h1.8v1.8h-1.8zM419.06 234.22h1.8v1.8h-1.8zM408.61 230.4h1.8v1.8h-1.8zM421.16 238.14h1.8v1.8h-1.8zM417.6 231.83h1.8v1.8h-1.8zM415.34 238.01h1.8v1.8h-1.8zM419.12 229.18h1.8v1.8h-1.8zM424.8 229.89h1.8v1.8h-1.8zM414.55 239.37h1.8v1.8h-1.8zM430.69 231.75h1.8v1.8h-1.8zM428.82 235.55h1.8v1.8h-1.8zM426.37 231.41h1.8v1.8h-1.8zM420.88 233.33h1.8v1.8h-1.8zM426.2 233.05h1.8v1.8h-1.8zM414.17 230.77h1.8v1.8h-1.8zM425.04 225.95h1.8v1.8h-1.8zM420 235.18h1.8v1.8h-1.8zM421.92 229.66h1.8v1.8h-1.8zM419.86 228.61h1.8v1.8h-1.8zM430.69 229.18h1.8v1.8h-1.8zM423.33 232.28h1.8v1.8h-1.8zM415.02 224.23h1.8v1.8h-1.8zM418.49 226.74h1.8v1.8h-1.8zM413.03 231.17h1.8v1.8h-1.8zM411.84 232.82h1.8v1.8h-1.8zM412.14 228.72h1.8v1.8h-1.8zM417.65 238.89h1.8v1.8h-1.8zM437.08 236.16h1.8v1.8h-1.8zM412.17 231.21h1.8v1.8h-1.8zM429.94 235.43h1.8v1.8h-1.8zM412.14 235.14h1.8v1.8h-1.8zM426.97 228.35h1.8v1.8h-1.8zM419.19 241.18h1.8v1.8h-1.8zM414.43 228.7h1.8v1.8h-1.8zM435.99 230.98h1.8v1.8h-1.8zM425.25 224.56h1.8v1.8h-1.8zM439.36 236.36h1.8v1.8h-1.8zM423.95 234.9h1.8v1.8h-1.8zM414.72 228.69h1.8v1.8h-1.8zM403.18 233.13h1.8v1.8h-1.8zM433.42 235.69h1.8v1.8h-1.8zM430 234.91h1.8v1.8h-1.8zM410.19 224.33h1.8v1.8h-1.8zM427 232.06h1.8v1.8h-1.8zM430.71 229.74h1.8v1.8h-1.8zM410.61 233.52h1.8v1.8h-1.8zM414.11 222.58h1.8v1.8h-1.8zM413.55 226.58h1.8v1.8h-1.8zM408.1 228.3h1.8v1.8h-1.8zM430.32 243.53h1.8v1.8h-1.8zM438.71 229.01h1.8v1.8h-1.8zM432.4 230.81h1.8v1.8h-1.8zM424.43 227.64h1.8v1.8h-1.8zM419.3 222.39h1.8v1.8h-1.8zM439.39 227.18h1.8v1.8h-1.8zM426.4 228.11h1.8v1.8h-1.8zM423.01 225.03h1.8v1.8h-1.8zM416.07 235.97h1.8v1.8h-1.8zM426.5 221.02h1.8v1.8h-1.8zM429.27 224.32h1.8v1.8h-1.8zM423.17 233.91h1.8v1.8h-1.8zM413.19 229.53h1.8v1.8h-1.8zM417.45 233.29h1.8v1.8h-1.8zM429.94 238.32h1.8v1.8h-1.8zM423.62 241.63h1.8v1.8h-1.8zM409.91 240.5h1.8v1.8h-1.8zM417.28 235.2h1.8v1.8h-1.8zM418.75 231.63h1.8v1.8h-1.8zM410.22 233.22h1.8v1.8h-1.8zM419.87 231.21h1.8v1.8h-1.8zM427.78 230.12h1.8v1.8h-1.8zM420.05 232.32h1.8v1.8h-1.8zM434.13 236.16h1.8v1.8h-1.8zM408.76 227.89h1.8v1.8h-1.8zM420.32 235.62h1.8v1.8h-1.8zM430.53 230.11h1.8v1.8h-1.8zM435.24 238.63h1.8v1.8h-1.8zM437.28 232.24h1.8v1.8h-1.8zM426.3 223.21h1.8v1.8h-1.8zM427.85 236.75h1.8v1.8h-1.8zM419 236.62h1.8v1.8h-1.8zM426.33 239.15h1.8v1.8h-1.8zM402.96 226.86h1.8v1.8h-1.8zM409.8 225.74h1.8v1.8h-1.8zM437.85 226.36h1.8v1.8h-1.8zM411.17 229.11h1.8v1.8h-1.8zM429.62 228.78h1.8v1.8h-1.8zM428.04 234.06h1.8v1.8h-1.8zM413.21 218.85h1.8v1.8h-1.8zM410.22 224.67h1.8v1.8h-1.8zM437.72 227.44h1.8v1.8h-1.8zM408.57 233.16h1.8v1.8h-1.8zM420.68 226.3h1.8v1.8h-1.8zM431.9 235.97h1.8v1.8h-1.8zM423.11 227.23h1.8v1.8h-1.8zM410.7 220.48h1.8v1.8h-1.8zM424.23 233.24h1.8v1.8h-1.8zM410.19 231.32h1.8v1.8h-1.8zM415.51 228.6h1.8v1.8h-1.8zM426.81 230.5h1.8v1.8h-1.8zM430.82 233.87h1.8v1.8h-1.8zM432.61 231.8h1.8v1.8h-1.8zM422.82 223.92h1.8v1.8h-1.8zM420.82 235.78h1.8v1.8h-1.8zM409.09 231.39h1.8v1.8h-1.8zM412.14 225.93h1.8v1.8h-1.8zM413.44 237.84h1.8v1.8h-1.8zM427.5 231.02h1.8v1.8h-1.8zM419.22 231.84h1.8v1.8h-1.8zM423.19 232.13h1.8v1.8h-1.8zM410.87 217.56h1.8v1.8h-1.8zM427.69 224.86h1.8v1.8h-1.8zM418.57 230.68h1.8v1.8h-1.8zM413.73 233.96h1.8v1.8h-1.8zM417.16 229.71h1.8v1.8h-1.8zM409.8 229.7h1.8v1.8h-1.8zM408.92 231.38h1.8v1.8h-1.8zM434.39 236.44h1.8v1.8h-1.8zM424.72 224.04h1.8v1.8h-1.8zM431.21 236.05h1.8v1.8h-1.8zM420.28 229.42h1.8v1.8h-1.8zM431.85 225.48h1.8v1.8h-1.8zM415.99 243.29h1.8v1.8h-1.8zM430.85 220.73h1.8v1.8h-1.8zM420.33 238.31h1.8v1.8h-1.8zM413.43 234.28h1.8v1.8h-1.8zM421.17 223.5h1.8v1.8h-1.8zM413.33 237.09h1.8v1.8h-1.8zM432.91 228h1.8v1.8h-1.8zM432.27 227.43h1.8v1.8h-1.8zM422.77 231.03h1.8v1.8h-1.8zM406.59 232.84h1.8v1.8h-1.8zM415.9 216.77h1.8v1.8h-1.8zM411.14 226.71h1.8v1.8h-1.8zM411.07 226.03h1.8v1.8h-1.8zM412.65 218.3h1.8v1.8h-1.8zM429.73 231.52h1.8v1.8h-1.8zM422.85 229.75h1.8v1.8h-1.8zM420.79 229.77h1.8v1.8h-1.8zM408.31 223.18h1.8v1.8h-1.8zM420.91 236.47h1.8v1.8h-1.8zM422.64 239.6h1.8v1.8h-1.8zM405.34 229.75h1.8v1.8h-1.8zM413.42 237.6h1.8v1.8h-1.8zM438.44 228.4h1.8v1.8h-1.8zM428.01 229.86h1.8v1.8h-1.8zM409.3 230.55h1.8v1.8h-1.8zM408.84 239.27h1.8v1.8h-1.8zM426.49 237.37h1.8v1.8h-1.8zM423.98 218.37h1.8v1.8h-1.8zM428.78 231.61h1.8v1.8h-1.8zM431.04 240.11h1.8v1.8h-1.8zM409.03 235.27h1.8v1.8h-1.8zM423.71 230.22h1.8v1.8h-1.8zM417.03 233.91h1.8v1.8h-1.8zM426.34 234.59h1.8v1.8h-1.8zM415.69 224.2h1.8v1.8h-1.8zM434.37 237.95h1.8v1.8h-1.8zM413.99 230.96h1.8v1.8h-1.8zM428.84 221.88h1.8v1.8h-1.8zM425.5 243.85h1.8v1.8h-1.8zM423.04 227.41h1.8v1.8h-1.8zM422.39 228.89h1.8v1.8h-1.8zM422.05 221.68h1.8v1.8h-1.8zM406.22 223.36h1.8v1.8h-1.8zM429.86 230.63h1.8v1.8h-1.8zM432.57 220.39h1.8v1.8h-1.8zM413.61 238.79h1.8v1.8h-1.8zM411.53 221.3h1.8v1.8h-1.8zM412.03 229.3h1.8v1.8h-1.8zM419.96 237.98h1.8v1.8h-1.8zM434.48 239.29h1.8v1.8h-1.8zM426.39 228.47h1.8v1.8h-1.8zM414.75 223.32h1.8v1.8h-1.8zM433.87 237.72h1.8v1.8h-1.8zM421.06 226.42h1.8v1.8h-1.8zM427.4 233.69h1.8v1.8h-1.8zM421.77 224.99h1.8v1.8h-1.8zM422.69 228.13h1.8v1.8h-1.8zM428.09 234.26h1.8v1.8h-1.8zM424.86 228.86h1.8v1.8h-1.8zM436.57 235.19h1.8v1.8h-1.8zM433.81 235.53h1.8v1.8h-1.8zM427.27 233.17h1.8v1.8h-1.8zM408.54 221.52h1.8v1.8h-1.8zM409.98 234.35h1.8v1.8h-1.8zM429.95 232.07h1.8v1.8h-1.8zM421.07 240.79h1.8v1.8h-1.8zM415.81 221.71h1.8v1.8h-1.8zM403.38 229.41h1.8v1.8h-1.8zM427.66 234.99h1.8v1.8h-1.8zM417.71 235.42h1.8v1.8h-1.8zM419.58 227.29h1.8v1.8h-1.8zM416.01 235.09h1.8v1.8h-1.8zM430.4 225.18h1.8v1.8h-1.8zM409.43 231.75h1.8v1.8h-1.8zM406.58 233.31h1.8v1.8h-1.8zM425.6 227.88h1.8v1.8h-1.8zM419.82 233.66h1.8v1.8h-1.8zM426.59 235.97h1.8v1.8h-1.8zM432.68 230.73h1.8v1.8h-1.8zM404.55 238.19h1.8v1.8h-1.8zM428.42 227.75h1.8v1.8h-1.8zM431.27 236.58h1.8v1.8h-1.8zM418.6 218.66h1.8v1.8h-1.8zM415.05 227.12h1.8v1.8h-1.8zM411.08 230.67h1.8v1.8h-1.8zM408.44 233.16h1.8v1.8h-1.8zM431.32 228.3h1.8v1.8h-1.8zM425.97 230.43h1.8v1.8h-1.8zM433.94 227.36h1.8v1.8h-1.8zM428.01 227.02h1.8v1.8h-1.8zM422.57 231.03h1.8v1.8h-1.8zM431.84 222.79h1.8v1.8h-1.8zM405.56 238.44h1.8v1.8h-1.8zM424.26 240.05h1.8v1.8h-1.8zM409 232.21h1.8v1.8h-1.8zM426.6 240.42h1.8v1.8h-1.8zM419.53 228.74h1.8v1.8h-1.8zM427.81 230.56h1.8v1.8h-1.8zM412.04 235.12h1.8v1.8h-1.8zM434.76 228.47h1.8v1.8h-1.8zM416.62 233.06h1.8v1.8h-1.8zM432.18 233.89h1.8v1.8h-1.8zM409.72 228.11h1.8v1.8h-1.8zM431.4 230.47h1.8v1.8h-1.8zM413.31 235.71h1.8v1.8h-1.8zM432.39 242.57h1.8v1.8h-1.8zM408.53 227.38h1.8v1.8h-1.8zM412.65 232.97h1.8v1.8h-1.8zM414.97 236.98h1.8v1.8h-1.8zM413.19 229.65h1.8v1.8h-1.8zM426.21 232.17h1.8v1.8h-1.8zM409.22 239.02h1.8v1.8h-1.8zM426.3 228.51h1.8v1.8h-1.8zM422.35 225.27h1.8v1.8h-1.8zM406.9 229.52h1.8v1.8h-1.8zM424.03 231.64h1.8v1.8h-1.8zM411.77 223.8h1.8v1.8h-1.8zM424.07 226.88h1.8v1.8h-1.8zM432.85 233.95h1.8v1.8h-1.8zM415.67 227.87h1.8v1.8h-1.8zM432.33 232.83h1.8v1.8h-1.8zM437.66 233.02h1.8v1.8h-1.8zM413.83 227.94h1.8v1.8h-1.8zM412.55 232.44h1.8v1.8h-1.8zM422.83 234.3h1.8v1.8h-1.8zM424.95 225.56h1.8v1.8h-1.8zM417.91 226.14h1.8v1.8h-1.8zM425.28 224.16h1.8v1.8h-1.8zM413.87 226.58h1.8v1.8h-1.8zM413.48 229.75h1.8v1.8h-1.8zM436.31 229.75h1.8v1.8h-1.8zM404.73 229.51h1.8v1.8h-1.8zM428.12 234.02h1.8v1.8h-1.8zM422.67 241.61h1.8v1.8h-1.8zM431.99 231.58h1.8v1.8h-1.8zM433.13 224.04h1.8v1.8h-1.8zM418.29 226.53h1.8v1.8h-1.8zM422.01 239.63h1.8v1.8h-1.8zM414.79 239.51h1.8v1.8h-1.8zM409.17 238.62h1.8v1.8h-1.8zM430.79 230.62h1.8v1.8h-1.8zM421.65 231.03h1.8v1.8h-1.8zM422.04 230.16h1.8v1.8h-1.8zM409.63 229.57h1.8v1.8h-1.8zM421.29 226.35h1.8v1.8h-1.8zM425.1 240.4h1.8v1.8h-1.8zM417.1 231.2h1.8v1.8h-1.8zM421.12 227.28h1.8v1.8h-1.8zM419.74 231.13h1.8v1.8h-1.8zM419.18 239.23h1.8v1.8h-1.8zM421.49 223.31h1.8v1.8h-1.8zM403.35 234.22h1.8v1.8h-1.8zM416.45 227.84h1.8v1.8h-1.8zM405.61 229.47h1.8v1.8h-1.8zM419.13 227.48h1.8v1.8h-1.8zM416.35 235.78h1.8v1.8h-1.8zM428.49 233.99h1.8v1.8h-1.8zM418.25 223.94h1.8v1.8h-1.8zM428.4 239h1.8v1.8h-1.8zM433.73 237.24h1.8v1.8h-1.8zM423.07 233.08h1.8v1.8h-1.8zM419.96 237.72h1.8v1.8h-1.8zM417.23 242.43h1.8v1.8h-1.8zM428.41 229.4h1.8v1.8h-1.8zM420.09 222.62h1.8v1.8h-1.8zM412.28 229.52h1.8v1.8h-1.8zM429.91 231.51h1.8v1.8h-1.8zM416.94 234.4h1.8v1.8h-1.8zM419.44 231.95h1.8v1.8h-1.8zM427.19 228.52h1.8v1.8h-1.8zM421.39 233.76h1.8v1.8h-1.8zM416.37 233.16h1.8v1.8h-1.8zM423.67 234.87h1.8v1.8h-1.8zM409.56 228.27h1.8v1.8h-1.8zM415.55 237.42h1.8v1.8h-1.8zM422.77 222.38h1.8v1.8h-1.8zM406.46 241.34h1.8v1.8h-1.8zM423.72 224.27h1.8v1.8h-1.8zM410.38 231.85h1.8v1.8h-1.8zM435.34 239.65h1.8v1.8h-1.8zM416.2 229.52h1.8v1.8h-1.8zM436.8 232.89h1.8v1.8h-1.8zM421.11 237.89h1.8v1.8h-1.8zM425.26 226.69h1.8v1.8h-1.8zM403.83 231.19h1.8v1.8h-1.8zM425.57 238.32h1.8v1.8h-1.8zM426.72 239.11h1.8v1.8h-1.8zM428.61 232.23h1.8v1.8h-1.8zM424.71 233.21h1.8v1.8h-1.8zM413.4 230.5h1.8v1.8h-1.8zM421.47 228.72h1.8v1.8h-1.8zM404.45 223.47h1.8v1.8h-1.8zM425.49 233.85h1.8v1.8h-1.8zM421.26 224.93h1.8v1.8h-1.8zM429.2 229.03h1.8v1.8h-1.8zM404.17 243h1.8v1.8h-1.8zM425.8 228.77h1.8v1.8h-1.8zM435.93 238.29h1.8v1.8h-1.8zM422.87 222.06h1.8v1.8h-1.8zM416.03 229.61h1.8v1.8h-1.8zM425.04 230.44h1.8v1.8h-1.8zM423.79 222.48h1.8v1.8h-1.8zM413.23 238.72h1.8v1.8h-1.8zM404.58 235.98h1.8v1.8h-1.8zM405.27 237.68h1.8v1.8h-1.8zM415.74 237.65h1.8v1.8h-1.8zM432.69 232.11h1.8v1.8h-1.8zM439.24 236.3h1.8v1.8h-1.8zM415 225.91h1.8v1.8h-1.8zM424.5 230.49h1.8v1.8h-1.8zM415.06 222.6h1.8v1.8h-1.8zM418.56 230.49h1.8v1.8h-1.8zM430.59 228.38h1.8v1.8h-1.8zM403.4 225.42h1.8v1.8h-1.8zM419.68 232.42h1.8v1.8h-1.8zM427.84 229.08h1.8v1.8h-1.8zM425.87 231.86h1.8v1.8h-1.8zM438.14 230.81h1.8v1.8h-1.8zM421.64 234.1h1.8v1.8h-1.8zM433.12 226.23h1.8v1.8h-1.8zM415.04 229.65h1.8v1.8h-1.8zM431.56 231.22h1.8v1.8h-1.8zM429.78 223.6h1.8v1.8h-1.8zM436.47 233.33h1.8v1.8h-1.8zM407.32 231.38h1.8v1.8h-1.8zM428.17 236.31h1.8v1.8h-1.8zM421.98 228.33h1.8v1.8h-1.8zM428.27 227.07h1.8v1.8h-1.8zM419.28 235.15h1.8v1.8h-1.8zM404.72 233.09h1.8v1.8h-1.8zM406.95 230.63h1.8v1.8h-1.8zM427.74 230.83h1.8v1.8h-1.8zM429.86 231.61h1.8v1.8h-1.8zM417.91 233.71h1.8v1.8h-1.8zM417.56 231.82h1.8v1.8h-1.8zM431.23 228.08h1.8v1.8h-1.8zM432.41 225.23h1.8v1.8h-1.8zM417.76 221.9h1.8v1.8h-1.8zM414.43 239.53h1.8v1.8h-1.8zM423.91 237.83h1.8v1.8h-1.8zM404.4 225.74h1.8v1.8h-1.8zM425.09 235.49h1.8v1.8h-1.8zM429.04 222.22h1.8v1.8h-1.8zM425.57 230.72h1.8v1.8h-1.8zM421.39 233.63h1.8v1.8h-1.8zM417.11 222.13h1.8v1.8h-1.8zM408.67 223.43h1.8v1.8h-1.8zM406.03 230.39h1.8v1.8h-1.8zM434.08 227.31h1.8v1.8h-1.8zM411.93 225.01h1.8v1.8h-1.8zM414.91 229.83h1.8v1.8h-1.8zM409.82 233.68h1.8v1.8h-1.8zM407.24 234.01h1.8v1.8h-1.8zM413.02 235.28h1.8v1.8h-1.8zM410.6 233.45h1.8v1.8h-1.8zM424.81 230.68h1.8v1.8h-1.8zM437.59 232.03h1.8v1.8h-1.8zM410.6 234.77h1.8v1.8h-1.8zM411.28 228.23h1.8v1.8h-1.8zM420.23 232.07h1.8v1.8h-1.8zM438.36 221.83h1.8v1.8h-1.8zM417.35 237.1h1.8v1.8h-1.8zM418.39 232.81h1.8v1.8h-1.8zM436.45 224.56h1.8v1.8h-1.8zM420.57 235.31h1.8v1.8h-1.8zM413.82 221.8h1.8v1.8h-1.8zM409.41 232.13h1.8v1.8h-1.8zM422.13 240.89h1.8v1.8h-1.8zM434.32 222.88h1.8v1.8h-1.8zM431.21 235.96h1.8v1.8h-1.8zM437.46 230.29h1.8v1.8h-1.8zM414.14 231.88h1.8v1.8h-1.8zM436.67 234.41h1.8v1.8h-1.8zM438.28 235.28h1.8v1.8h-1.8zM413.8 225.72h1.8v1.8h-1.8zM416.35 229.41h1.8v1.8h-1.8zM410.34 228.06h1.8v1.8h-1.8zM420.17 243.74h1.8v1.8h-1.8zM419.41 228.32h1.8v1.8h-1.8zM421.43 236.09h1.8v1.8h-1.8zM411.36 228.94h1.8v1.8h-1.8zM427.4 239.08h1.8v1.8h-1.8zM407.26 242.67h1.8v1.8h-1.8zM429.45 229.64h1.8v1.8h-1.8zM415.91 229.45h1.8v1.8h-1.8zM407.1 235.2h1.8v1.8h-1.8zM413.59 227.26h1.8v1.8h-1.8zM425.64 231.7h1.8v1.8h-1.8zM413.84 229.85h1.8v1.8h-1.8zM414.83 238.26h1.8v1.8h-1.8zM430.85 227.23h1.8v1.8h-1.8zM419.67 238.4h1.8v1.8h-1.8zM417.02 240.58h1.8v1.8h-1.8zM424.87 234.66h1.8v1.8h-1.8zM423.74 234.2h1.8v1.8h-1.8zM425.26 233.91h1.8v1.8h-1.8zM414.65 235.89h1.8v1.8h-1.8zM420.78 225.52h1.8v1.8h-1.8zM409.18 231.96h1.8v1.8h-1.8zM423.7 219.35h1.8v1.8h-1.8zM419.98 246.28h1.8v1.8h-1.8zM403.66 229.78h1.8v1.8h-1.8zM413.67 234.07h1.8v1.8h-1.8zM435.22 239.69h1.8v1.8h-1.8zM409.28 237.68h1.8v1.8h-1.8zM407.05 232.74h1.8v1.8h-1.8zM421.94 234.41h1.8v1.8h-1.8zM411.52 238.23h1.8v1.8h-1.8zM419.37 231h1.8v1.8h-1.8zM417.24 225.42h1.8v1.8h-1.8zM427.85 232.89h1.8v1.8h-1.8zM424.99 241.04h1.8v1.8h-1.8zM410.79 229.59h1.8v1.8h-1.8zM420.18 235.66h1.8v1.8h-1.8zM418.19 236.08h1.8v1.8h-1.8zM425 221.72h1.8v1.8h-1.8zM412.77 220.27h1.8v1.8h-1.8zM417.03 228.88h1.8v1.8h-1.8zM426.43 232.01h1.8v1.8h-1.8zM419.42 237.83h1.8v1.8h-1.8zM426.49 224.53h1.8v1.8h-1.8zM412.7 232.85h1.8v1.8h-1.8zM438.38 230.05h1.8v1.8h-1.8zM418.27 232.52h1.8v1.8h-1.8zM428.51 230.62h1.8v1.8h-1.8zM423.26 228.85h1.8v1.8h-1.8zM414.19 226.86h1.8v1.8h-1.8zM427.18 228.13h1.8v1.8h-1.8zM426.01 233.27h1.8v1.8h-1.8zM430.56 216.77h1.8v1.8h-1.8zM409.73 224.59h1.8v1.8h-1.8zM418.34 235.4h1.8v1.8h-1.8zM434.69 233.14h1.8v1.8h-1.8zM415.95 233.96h1.8v1.8h-1.8zM420.19 234.4h1.8v1.8h-1.8zM409.04 225.25h1.8v1.8h-1.8zM413.19 230.87h1.8v1.8h-1.8zM423.85 229.21h1.8v1.8h-1.8zM423.86 234.74h1.8v1.8h-1.8zM407.63 230.56h1.8v1.8h-1.8zM403.37 228.17h1.8v1.8h-1.8zM429.82 227.28h1.8v1.8h-1.8zM429.66 231.66h1.8v1.8h-1.8zM429.4 236.95h1.8v1.8h-1.8zM421.25 228.27h1.8v1.8h-1.8zM414.19 241.42h1.8v1.8h-1.8zM418.13 228.66h1.8v1.8h-1.8zM412.49 222.09h1.8v1.8h-1.8zM414.74 232.84h1.8v1.8h-1.8zM414.88 227.04h1.8v1.8h-1.8zM424.5 233.56h1.8v1.8h-1.8zM415.41 232.75h1.8v1.8h-1.8zM409.65 235.7h1.8v1.8h-1.8zM409.51 229.3h1.8v1.8h-1.8zM421.56 228.86h1.8v1.8h-1.8zM407.8 242.32h1.8v1.8h-1.8zM436.4 221.77h1.8v1.8h-1.8zM421.41 224.32h1.8v1.8h-1.8zM423.45 224.13h1.8v1.8h-1.8zM426.35 233.94h1.8v1.8h-1.8zM438.46 237.55h1.8v1.8h-1.8zM415.18 236.16h1.8v1.8h-1.8zM415.17 230.5h1.8v1.8h-1.8zM414.73 221.68h1.8v1.8h-1.8zM426.59 220.22h1.8v1.8h-1.8zM417.57 233.91h1.8v1.8h-1.8zM421.33 222.67h1.8v1.8h-1.8zM413.12 234.74h1.8v1.8h-1.8zM431.92 239.64h1.8v1.8h-1.8zM414.93 235.19h1.8v1.8h-1.8zM427.71 227.65h1.8v1.8h-1.8zM416.21 225.86h1.8v1.8h-1.8zM432.08 223.99h1.8v1.8h-1.8zM410.29 229.32h1.8v1.8h-1.8zM416.7 242.41h1.8v1.8h-1.8zM423.05 226.64h1.8v1.8h-1.8zM426.34 232.94h1.8v1.8h-1.8zM423.13 230.75h1.8v1.8h-1.8zM425.07 224.83h1.8v1.8h-1.8zM407.18 228.82h1.8v1.8h-1.8zM408.23 234.85h1.8v1.8h-1.8zM424.9 232.91h1.8v1.8h-1.8zM412.74 224.14h1.8v1.8h-1.8zM425.99 223.18h1.8v1.8h-1.8zM423.35 230.34h1.8v1.8h-1.8zM428.17 231.37h1.8v1.8h-1.8zM421.24 227.99h1.8v1.8h-1.8zM427.58 236.7h1.8v1.8h-1.8zM434.91 225.77h1.8v1.8h-1.8zM410.03 234.86h1.8v1.8h-1.8zM415.23 244.87h1.8v1.8h-1.8zM423.48 222.97h1.8v1.8h-1.8zM414.14 239.51h1.8v1.8h-1.8zM405.2 239.68h1.8v1.8h-1.8zM415.29 225.58h1.8v1.8h-1.8zM417.25 224.88h1.8v1.8h-1.8zM423.77 228.57h1.8v1.8h-1.8zM410.99 238.51h1.8v1.8h-1.8zM424.83 226.34h1.8v1.8h-1.8zM436 230.81h1.8v1.8h-1.8zM425.51 231.89h1.8v1.8h-1.8zM432.78 234.4h1.8v1.8h-1.8zM416.36 234.95h1.8v1.8h-1.8zM415.9 231.82h1.8v1.8h-1.8zM437.75 225.41h1.8v1.8h-1.8zM408.97 228.95h1.8v1.8h-1.8zM414.74 238.08h1.8v1.8h-1.8zM402.98 243.39h1.8v1.8h-1.8zM437.15 228.69h1.8v1.8h-1.8zM422.1 229.17h1.8v1.8h-1.8zM427.32 234.65h1.8v1.8h-1.8zM428.19 235.21h1.8v1.8h-1.8zM427.63 230.1h1.8v1.8h-1.8zM420.52 232.28h1.8v1.8h-1.8zM419.54 232.96h1.8v1.8h-1.8zM410.94 230.28h1.8v1.8h-1.8zM413.59 224.84h1.8v1.8h-1.8zM412.5 228.43h1.8v1.8h-1.8zM418.5 222.73h1.8v1.8h-1.8zM417.34 225.05h1.8v1.8h-1.8zM411.3 232.12h1.8v1.8h-1.8zM432.03 232.64h1.8v1.8h-1.8zM414.84 228.75h1.8v1.8h-1.8zM434.51 222.39h1.8v1.8h-1.8zM432.36 223.05h1.8v1.8h-1.8zM413.28 231.35h1.8v1.8h-1.8zM417.72 240.02h1.8v1.8h-1.8zM425.42 230.84h1.8v1.8h-1.8zM430.36 231.3h1.8v1.8h-1.8zM411.43 237.12h1.8v1.8h-1.8zM436.23 237.97h1.8v1.8h-1.8zM407.46 241.34h1.8v1.8h-1.8zM415.61 235.22h1.8v1.8h-1.8zM432.94 243.86h1.8v1.8h-1.8zM402.7 225.62h1.8v1.8h-1.8zM432.8 233.76h1.8v1.8h-1.8zM416.74 215.39h1.8v1.8h-1.8zM424.85 230.1h1.8v1.8h-1.8zM420.05 232.35h1.8v1.8h-1.8zM428.22 229.67h1.8v1.8h-1.8zM410.44 229.17h1.8v1.8h-1.8zM419.24 241.29h1.8v1.8h-1.8zM431.44 231.76h1.8v1.8h-1.8zM428.02 229.65h1.8v1.8h-1.8zM410.34 236.48h1.8v1.8h-1.8zM421.55 239.7h1.8v1.8h-1.8zM417.27 229.09h1.8v1.8h-1.8zM423.81 230.08h1.8v1.8h-1.8zM416.74 226.29h1.8v1.8h-1.8zM422.85 232.84h1.8v1.8h-1.8zM411.46 230.2h1.8v1.8h-1.8zM418.07 222.98h1.8v1.8h-1.8zM426.32 226.39h1.8v1.8h-1.8zM426.94 241.43h1.8v1.8h-1.8zM433.59 232.15h1.8v1.8h-1.8zM414.58 229.7h1.8v1.8h-1.8zM430.54 228.31h1.8v1.8h-1.8zM424.59 236.3h1.8v1.8h-1.8zM410.32 227.94h1.8v1.8h-1.8zM424.94 231.14h1.8v1.8h-1.8zM418.76 228.25h1.8v1.8h-1.8zM419.41 241.08h1.8v1.8h-1.8zM434.76 222.42h1.8v1.8h-1.8zM420.61 231.6h1.8v1.8h-1.8zM420.5 223.67h1.8v1.8h-1.8zM418.7 231.9h1.8v1.8h-1.8zM412.74 232.79h1.8v1.8h-1.8zM421.2 233.2h1.8v1.8h-1.8zM418.31 228.63h1.8v1.8h-1.8zM422.1 236.93h1.8v1.8h-1.8zM429.8 230.67h1.8v1.8h-1.8zM415.08 236.82h1.8v1.8h-1.8zM425.94 235.85h1.8v1.8h-1.8zM417.11 226.47h1.8v1.8h-1.8zM422.12 227.74h1.8v1.8h-1.8zM432.51 235.7h1.8v1.8h-1.8zM434.49 236.69h1.8v1.8h-1.8zM414.99 226.47h1.8v1.8h-1.8zM430.58 236.56h1.8v1.8h-1.8zM420.74 224.89h1.8v1.8h-1.8zM403.61 232.54h1.8v1.8h-1.8zM411.18 227.44h1.8v1.8h-1.8zM424.9 236.75h1.8v1.8h-1.8zM434.13 230.87h1.8v1.8h-1.8zM416.4 234.54h1.8v1.8h-1.8zM407.81 224.52h1.8v1.8h-1.8zM420.33 239.52h1.8v1.8h-1.8zM431.06 231.07h1.8v1.8h-1.8zM431.02 228.89h1.8v1.8h-1.8zM407.37 222.08h1.8v1.8h-1.8zM423.03 235.95h1.8v1.8h-1.8zM424.12 230.9h1.8v1.8h-1.8zM415.77 236.97h1.8v1.8h-1.8zM419.6 223.34h1.8v1.8h-1.8zM434.91 227.61h1.8v1.8h-1.8zM424.33 231.12h1.8v1.8h-1.8zM431.49 232.43h1.8v1.8h-1.8zM433.35 232.24h1.8v1.8h-1.8zM415.13 228.36h1.8v1.8h-1.8zM427.13 226.64h1.8v1.8h-1.8zM430.13 229.81h1.8v1.8h-1.8zM410.08 226.4h1.8v1.8h-1.8zM418.54 240.64h1.8v1.8h-1.8zM428.43 231.21h1.8v1.8h-1.8zM410.32 241.37h1.8v1.8h-1.8zM417.1 231.09h1.8v1.8h-1.8zM415.52 238.29h1.8v1.8h-1.8zM422.01 228.64h1.8v1.8h-1.8zM422.1 225.72h1.8v1.8h-1.8zM408.73 230.23h1.8v1.8h-1.8zM418.57 222.6h1.8v1.8h-1.8zM421.96 232.24h1.8v1.8h-1.8zM428.1 223.92h1.8v1.8h-1.8zM413.61 227.61h1.8v1.8h-1.8zM417.44 243.42h1.8v1.8h-1.8zM417.95 230.88h1.8v1.8h-1.8zM414.61 235.39h1.8v1.8h-1.8zM436.66 225.32h1.8v1.8h-1.8zM431.53 231.25h1.8v1.8h-1.8zM433.62 236.81h1.8v1.8h-1.8zM427.18 222.06h1.8v1.8h-1.8zM421.55 228.4h1.8v1.8h-1.8zM424.94 231.3h1.8v1.8h-1.8zM431.44 222.45h1.8v1.8h-1.8zM412.1 230.69h1.8v1.8h-1.8zM423.57 228.92h1.8v1.8h-1.8zM419.79 231.4h1.8v1.8h-1.8zM431.42 230.49h1.8v1.8h-1.8zM422.72 221.3h1.8v1.8h-1.8zM423.96 218.66h1.8v1.8h-1.8zM424.53 230.58h1.8v1.8h-1.8zM420.13 227.16h1.8v1.8h-1.8zM415.56 235.59h1.8v1.8h-1.8zM423.97 230.96h1.8v1.8h-1.8zM414.82 232.25h1.8v1.8h-1.8zM432.98 231h1.8v1.8h-1.8zM416.13 224.74h1.8v1.8h-1.8zM421.17 226.15h1.8v1.8h-1.8zM404.55 235.8h1.8v1.8h-1.8zM413.36 220.1h1.8v1.8h-1.8zM412.33 241.05h1.8v1.8h-1.8zM418.95 223.95h1.8v1.8h-1.8zM408.17 234.98h1.8v1.8h-1.8zM424.5 232.25h1.8v1.8h-1.8zM417.98 233.71h1.8v1.8h-1.8zM436.76 233.73h1.8v1.8h-1.8zM418.32 223.54h1.8v1.8h-1.8zM424.91 239.57h1.8v1.8h-1.8zM427.11 224.31h1.8v1.8h-1.8zM422.1 238.12h1.8v1.8h-1.8zM413.23 233.77h1.8v1.8h-1.8zM433.2 239.94h1.8v1.8h-1.8zM402.88 221.66h1.8v1.8h-1.8zM424.15 234.9h1.8v1.8h-1.8zM416.27 230.99h1.8v1.8h-1.8zM415.68 237.59h1.8v1.8h-1.8zM406.25 227.44h1.8v1.8h-1.8zM403.5 226.18h1.8v1.8h-1.8zM419.84 231.24h1.8v1.8h-1.8zM439.46 229.91h1.8v1.8h-1.8zM423.85 233.01h1.8v1.8h-1.8zM422.89 239.04h1.8v1.8h-1.8zM421.6 231.91h1.8v1.8h-1.8zM418.88 231.12h1.8v1.8h-1.8zM419.5 236.49h1.8v1.8h-1.8zM420.31 231.47h1.8v1.8h-1.8zM419.58 235.2h1.8v1.8h-1.8zM414.98 236.18h1.8v1.8h-1.8zM413.9 234.85h1.8v1.8h-1.8zM419.15 224.71h1.8v1.8h-1.8zM428.12 231.17h1.8v1.8h-1.8zM429.96 227.54h1.8v1.8h-1.8zM425.74 240.89h1.8v1.8h-1.8zM424.46 229.33h1.8v1.8h-1.8zM405.98 231.05h1.8v1.8h-1.8zM427.24 234.34h1.8v1.8h-1.8zM407.98 225.53h1.8v1.8h-1.8zM409.51 225.57h1.8v1.8h-1.8zM417.11 232.54h1.8v1.8h-1.8zM435.87 222.14h1.8v1.8h-1.8zM436.83 235.43h1.8v1.8h-1.8zM424.88 235.57h1.8v1.8h-1.8zM426.8 241.48h1.8v1.8h-1.8zM428.84 221.66h1.8v1.8h-1.8zM419.19 238.27h1.8v1.8h-1.8zM416.38 227.54h1.8v1.8h-1.8zM416.38 232.81h1.8v1.8h-1.8zM422.13 227.74h1.8v1.8h-1.8zM425.93 234.45h1.8v1.8h-1.8zM410.13 225.06h1.8v1.8h-1.8zM420.22 227.33h1.8v1.8h-1.8zM413.56 230.38h1.8v1.8h-1.8zM420.42 234.2h1.8v1.8h-1.8zM429.14 233.48h1.8v1.8h-1.8zM432.25 225.84h1.8v1.8h-1.8zM426.69 233.13h1.8v1.8h-1.8zM408.76 227.42h1.8v1.8h-1.8zM424.92 231.51h1.8v1.8h-1.8zM406.45 228.1h1.8v1.8h-1.8zM436.67 235.68h1.8v1.8h-1.8zM420.99 238.42h1.8v1.8h-1.8zM410.24 230.17h1.8v1.8h-1.8zM430.52 229.27h1.8v1.8h-1.8zM407.95 234.28h1.8v1.8h-1.8zM437.51 217.32h1.8v1.8h-1.8zM421.78 224.31h1.8v1.8h-1.8zM416.86 223.43h1.8v1.8h-1.8zM420.58 227.27h1.8v1.8h-1.8zM409.34 228.63h1.8v1.8h-1.8zM422.36 240.63h1.8v1.8h-1.8zM423.22 239.61h1.8v1.8h-1.8zM408.52 231.49h1.8v1.8h-1.8zM415.35 222.59h1.8v1.8h-1.8zM422.76 227.01h1.8v1.8h-1.8zM413.84 225.48h1.8v1.8h-1.8zM431.25 228.91h1.8v1.8h-1.8zM418.53 232.08h1.8v1.8h-1.8zM406.77 232.36h1.8v1.8h-1.8zM418.24 233.52h1.8v1.8h-1.8zM415.91 231.31h1.8v1.8h-1.8zM425.73 236.35h1.8v1.8h-1.8zM412.61 236.38h1.8v1.8h-1.8zM409.39 230.07h1.8v1.8h-1.8zM421.52 231.89h1.8v1.8h-1.8zM418.1 236.12h1.8v1.8h-1.8zM412.45 239.31h1.8v1.8h-1.8zM425.97 231.2h1.8v1.8h-1.8zM422.97 236.18h1.8v1.8h-1.8zM411.34 234.31h1.8v1.8h-1.8zM431.66 229.83h1.8v1.8h-1.8zM410.81 225.35h1.8v1.8h-1.8zM424.79 226.73h1.8v1.8h-1.8zM405.91 229.54h1.8v1.8h-1.8zM436.71 234.8h1.8v1.8h-1.8zM409.02 236.73h1.8v1.8h-1.8zM414.94 243.13h1.8v1.8h-1.8zM414.1 234.34h1.8v1.8h-1.8zM426.24 228.69h1.8v1.8h-1.8zM418.43 237.4h1.8v1.8h-1.8zM425.51 230.77h1.8v1.8h-1.8zM424.93 240.6h1.8v1.8h-1.8zM430.23 233.69h1.8v1.8h-1.8zM423.68 222.6h1.8v1.8h-1.8zM421.57 228.45h1.8v1.8h-1.8zM428.06 227.8h1.8v1.8h-1.8zM424.98 225.39h1.8v1.8h-1.8zM429.83 227.14h1.8v1.8h-1.8zM419.79 234.24h1.8v1.8h-1.8zM416.58 231.14h1.8v1.8h-1.8zM431.63 240.71h1.8v1.8h-1.8zM427.44 236.21h1.8v1.8h-1.8zM414.95 231.62h1.8v1.8h-1.8zM418 243.47h1.8v1.8h-1.8zM417.93 224.63h1.8v1.8h-1.8zM403.22 224.16h1.8v1.8h-1.8zM434.26 228.99h1.8v1.8h-1.8zM424.26 234.6h1.8v1.8h-1.8zM428.69 236.1h1.8v1.8h-1.8zM409.49 228.07h1.8v1.8h-1.8zM414.14 231.67h1.8v1.8h-1.8zM417.38 224.41h1.8v1.8h-1.8zM412.56 240.81h1.8v1.8h-1.8zM424.24 230.9h1.8v1.8h-1.8zM410.9 234.97h1.8v1.8h-1.8zM419.34 240.17h1.8v1.8h-1.8zM425.07 229.41h1.8v1.8h-1.8zM429.32 227.23h1.8v1.8h-1.8zM429.71 234.81h1.8v1.8h-1.8zM423.58 235.2h1.8v1.8h-1.8zM421.78 231.02h1.8v1.8h-1.8zM416.33 229.52h1.8v1.8h-1.8zM420.14 225.33h1.8v1.8h-1.8zM427.08 229.33h1.8v1.8h-1.8zM425.78 228.35h1.8v1.8h-1.8zM424.56 231.79h1.8v1.8h-1.8zM429.79 233.61h1.8v1.8h-1.8zM430.24 230.2h1.8v1.8h-1.8zM419.5 229.68h1.8v1.8h-1.8zM406.47 230.42h1.8v1.8h-1.8zM431.93 235.28h1.8v1.8h-1.8zM410.86 232.73h1.8v1.8h-1.8zM428.26 223.72h1.8v1.8h-1.8zM423.89 232.89h1.8v1.8h-1.8zM428.24 232.49h1.8v1.8h-1.8zM433.93 237.96h1.8v1.8h-1.8zM421.05 224.9h1.8v1.8h-1.8zM434.97 230.9h1.8v1.8h-1.8zM425.75 233.7h1.8v1.8h-1.8zM430.46 236.59h1.8v1.8h-1.8zM404.66 223.46h1.8v1.8h-1.8zM421.64 231.15h1.8v1.8h-1.8zM428.55 230.37h1.8v1.8h-1.8zM418.13 242.1h1.8v1.8h-1.8zM435.03 237.39h1.8v1.8h-1.8zM431.37 226.83h1.8v1.8h-1.8zM419.17 230.72h1.8v1.8h-1.8zM408.21 226.39h1.8v1.8h-1.8zM421.85 224.52h1.8v1.8h-1.8zM425.99 233.66h1.8v1.8h-1.8zM417.54 229.26h1.8v1.8h-1.8zM426.65 233.7h1.8v1.8h-1.8zM424.07 224.47h1.8v1.8h-1.8zM413.01 229.12h1.8v1.8h-1.8zM412.14 235.42h1.8v1.8h-1.8zM415.62 228.44h1.8v1.8h-1.8zM411.67 228.71h1.8v1.8h-1.8zM402.96 232.55h1.8v1.8h-1.8zM433.09 231.93h1.8v1.8h-1.8zM414.27 237.94h1.8v1.8h-1.8zM425.4 225.53h1.8v1.8h-1.8zM413.87 227.8h1.8v1.8h-1.8zM419.61 237.67h1.8v1.8h-1.8zM412.44 230.31h1.8v1.8h-1.8zM421.32 224.66h1.8v1.8h-1.8zM414.92 234.42h1.8v1.8h-1.8zM432.4 220.97h1.8v1.8h-1.8zM427.79 229.53h1.8v1.8h-1.8zM434.12 234.46h1.8v1.8h-1.8zM415.8 226.6h1.8v1.8h-1.8zM404.54 234.1h1.8v1.8h-1.8zM425.71 235.53h1.8v1.8h-1.8zM423.91 223.01h1.8v1.8h-1.8zM415.69 229.79h1.8v1.8h-1.8zM421.84 235.24h1.8v1.8h-1.8zM435.52 232.64h1.8v1.8h-1.8zM407.07 232.39h1.8v1.8h-1.8zM417.7 237.13h1.8v1.8h-1.8zM431.83 228.64h1.8v1.8h-1.8zM430.38 231.17h1.8v1.8h-1.8zM425.05 238.38h1.8v1.8h-1.8zM407.62 230.74h1.8v1.8h-1.8zM436.83 226.98h1.8v1.8h-1.8zM422.44 231.82h1.8v1.8h-1.8zM415.58 224.04h1.8v1.8h-1.8zM412.64 225.8h1.8v1.8h-1.8zM431.86 232.44h1.8v1.8h-1.8zM427.74 224.69h1.8v1.8h-1.8zM425.55 231.88h1.8v1.8h-1.8zM431.5 227.21h1.8v1.8h-1.8zM428.91 238.5h1.8v1.8h-1.8zM407.9 223.2h1.8v1.8h-1.8zM430.56 234.31h1.8v1.8h-1.8zM423.82 226.43h1.8v1.8h-1.8zM433.73 239.76h1.8v1.8h-1.8zM419.72 230.45h1.8v1.8h-1.8zM433.03 233.83h1.8v1.8h-1.8zM434.72 228.92h1.8v1.8h-1.8zM423.79 229.28h1.8v1.8h-1.8zM413.91 229.5h1.8v1.8h-1.8zM417.02 233.82h1.8v1.8h-1.8zM416.8 231.48h1.8v1.8h-1.8zM411.32 224.5h1.8v1.8h-1.8zM435.64 225.8h1.8v1.8h-1.8zM415.58 231.21h1.8v1.8h-1.8zM418.17 227.85h1.8v1.8h-1.8zM433.72 230.41h1.8v1.8h-1.8zM430.57 227.41h1.8v1.8h-1.8zM412.61 238.29h1.8v1.8h-1.8zM417.05 225.19h1.8v1.8h-1.8zM418.26 236.77h1.8v1.8h-1.8zM418.36 227.24h1.8v1.8h-1.8zM427.02 236.4h1.8v1.8h-1.8zM417.87 229.39h1.8v1.8h-1.8zM416.15 245.64h1.8v1.8h-1.8zM418.07 240.5h1.8v1.8h-1.8zM418.5 233.29h1.8v1.8h-1.8zM420.69 229.4h1.8v1.8h-1.8zM415.68 223.77h1.8v1.8h-1.8zM403.94 232h1.8v1.8h-1.8zM413.17 230.62h1.8v1.8h-1.8zM418.16 228.38h1.8v1.8h-1.8zM412.21 241.09h1.8v1.8h-1.8zM408.13 228.37h1.8v1.8h-1.8zM416.91 224.9h1.8v1.8h-1.8zM409.7 235.74h1.8v1.8h-1.8zM430.24 231.81h1.8v1.8h-1.8zM433.51 226.72h1.8v1.8h-1.8zM431.89 240.16h1.8v1.8h-1.8zM416.01 240.83h1.8v1.8h-1.8zM411.37 225.01h1.8v1.8h-1.8zM419.63 226.77h1.8v1.8h-1.8zM427.05 225.16h1.8v1.8h-1.8zM421.03 220.59h1.8v1.8h-1.8zM419.78 236.75h1.8v1.8h-1.8zM417.26 232.78h1.8v1.8h-1.8zM431.98 225.21h1.8v1.8h-1.8zM406.32 231.54h1.8v1.8h-1.8zM423.15 229.67h1.8v1.8h-1.8zM409.6 237.62h1.8v1.8h-1.8zM407.5 229.71h1.8v1.8h-1.8zM419.67 235h1.8v1.8h-1.8zM415.27 226.69h1.8v1.8h-1.8zM428.8 230.28h1.8v1.8h-1.8zM414.96 230.87h1.8v1.8h-1.8zM417.36 232.77h1.8v1.8h-1.8zM420.92 225.88h1.8v1.8h-1.8zM415.93 243.66h1.8v1.8h-1.8zM422.67 229.47h1.8v1.8h-1.8zM435.21 228.7h1.8v1.8h-1.8zM411.23 234.82h1.8v1.8h-1.8zM409.65 226.86h1.8v1.8h-1.8zM435.86 222.48h1.8v1.8h-1.8zM419.43 231.74h1.8v1.8h-1.8zM422.95 223.28h1.8v1.8h-1.8zM417.67 229.31h1.8v1.8h-1.8zM411.94 235.8h1.8v1.8h-1.8zM427.24 230.5h1.8v1.8h-1.8zM417.51 229.63h1.8v1.8h-1.8zM403.39 227.72h1.8v1.8h-1.8zM430.31 238.86h1.8v1.8h-1.8zM426.83 218.19h1.8v1.8h-1.8zM417.22 224.32h1.8v1.8h-1.8zM429.08 222.2h1.8v1.8h-1.8zM408.83 225.17h1.8v1.8h-1.8zM424.45 235.6h1.8v1.8h-1.8zM410.17 240.78h1.8v1.8h-1.8zM421.89 226.63h1.8v1.8h-1.8zM423.94 231.03h1.8v1.8h-1.8zM429.18 232.95h1.8v1.8h-1.8zM413.22 235.33h1.8v1.8h-1.8zM428.41 225.74h1.8v1.8h-1.8zM412.02 226.77h1.8v1.8h-1.8zM417.81 237.72h1.8v1.8h-1.8zM414.09 231.51h1.8v1.8h-1.8zM428.03 236.3h1.8v1.8h-1.8zM423.62 225.52h1.8v1.8h-1.8zM434.94 239.79h1.8v1.8h-1.8zM435.39 233.33h1.8v1.8h-1.8zM408 241.01h1.8v1.8h-1.8zM418.2 248.43h1.8v1.8h-1.8zM418.7 243.37h1.8v1.8h-1.8zM417.49 244.91h1.8v1.8h-1.8zM412.99 251.4h1.8v1.8h-1.8zM409.64 239.09h1.8v1.8h-1.8zM422.9 242.37h1.8v1.8h-1.8zM429.29 237.69h1.8v1.8h-1.8zM427.63 242.57h1.8v1.8h-1.8zM436.91 241.6h1.8v1.8h-1.8zM418.62 241.86h1.8v1.8h-1.8zM422.34 241.31h1.8v1.8h-1.8zM427.38 243.27h1.8v1.8h-1.8zM428.8 241.47h1.8v1.8h-1.8zM419.49 245.46h1.8v1.8h-1.8zM429.18 246.89h1.8v1.8h-1.8zM418.48 238.39h1.8v1.8h-1.8zM406.75 239.3h1.8v1.8h-1.8zM409.4 239.85h1.8v1.8h-1.8zM427.09 242.21h1.8v1.8h-1.8zM436.2 240.61h1.8v1.8h-1.8zM411.69 239.84h1.8v1.8h-1.8zM407.94 247.33h1.8v1.8h-1.8zM424 240.87h1.8v1.8h-1.8zM432.58 247.23h1.8v1.8h-1.8zM418.46 246.22h1.8v1.8h-1.8zM426.89 243.71h1.8v1.8h-1.8zM405.99 242.57h1.8v1.8h-1.8zM437.61 242.7h1.8v1.8h-1.8zM426.24 238.43h1.8v1.8h-1.8zM431.24 250.06h1.8v1.8h-1.8zM416.41 242.68h1.8v1.8h-1.8zM421.58 240.88h1.8v1.8h-1.8zM410.37 239.03h1.8v1.8h-1.8zM428.02 244.74h1.8v1.8h-1.8zM437.98 251.54h1.8v1.8h-1.8zM434.95 251.27h1.8v1.8h-1.8zM433.61 237.47h1.8v1.8h-1.8zM407.4 251.74h1.8v1.8h-1.8zM434.93 246.34h1.8v1.8h-1.8zM406.15 285.71h1.8v1.8h-1.8zM410.1 291.63h1.8v1.8h-1.8zM406.39 288.67h1.8v1.8h-1.8zM405.4 288.3h1.8v1.8h-1.8zM422.78 290.6h1.8v1.8h-1.8zM412.85 283.31h1.8v1.8h-1.8zM430.08 287.92h1.8v1.8h-1.8zM403.41 287.9h1.8v1.8h-1.8zM412.94 290.04h1.8v1.8h-1.8zM430.76 284.8h1.8v1.8h-1.8zM424.48 285.18h1.8v1.8h-1.8zM402.95 285.51h1.8v1.8h-1.8zM418.22 291.58h1.8v1.8h-1.8zM416.33 286.54h1.8v1.8h-1.8zM414.71 289.66h1.8v1.8h-1.8zM425.41 290.59h1.8v1.8h-1.8zM406.12 283.31h1.8v1.8h-1.8zM437.64 289.61h1.8v1.8h-1.8zM414.84 289.96h1.8v1.8h-1.8zM432.76 288.29h1.8v1.8h-1.8zM419.67 288.73h1.8v1.8h-1.8zM425.21 284.23h1.8v1.8h-1.8zM428.25 288.56h1.8v1.8h-1.8zM411.34 284.59h1.8v1.8h-1.8zM437.66 283.18h1.8v1.8h-1.8zM418.72 282.01h1.8v1.8h-1.8zM405.52 279.75h1.8v1.8h-1.8zM422.06 283.85h1.8v1.8h-1.8zM407.26 283.93h1.8v1.8h-1.8zM419.6 289.01h1.8v1.8h-1.8zM432.7 290.66h1.8v1.8h-1.8zM417.6 281.07h1.8v1.8h-1.8zM403.09 291.56h1.8v1.8h-1.8zM414.59 287.39h1.8v1.8h-1.8zM405.69 277.21h1.8v1.8h-1.8zM418.32 282.61h1.8v1.8h-1.8zM413.26 292.27h1.8v1.8h-1.8zM437.58 281.87h1.8v1.8h-1.8zM422.73 283.68h1.8v1.8h-1.8zM422.76 287.1h1.8v1.8h-1.8zM414.87 283.62h1.8v1.8h-1.8zM413.49 284.63h1.8v1.8h-1.8zM408.54 284.14h1.8v1.8h-1.8zM426.31 289.06h1.8v1.8h-1.8zM425.84 291.69h1.8v1.8h-1.8zM413.02 289.91h1.8v1.8h-1.8zM429.64 286.43h1.8v1.8h-1.8zM413.49 288.03h1.8v1.8h-1.8zM405.61 288.55h1.8v1.8h-1.8zM416.46 281.81h1.8v1.8h-1.8zM433.23 285.68h1.8v1.8h-1.8zM409.78 279.62h1.8v1.8h-1.8zM430.53 292.49h1.8v1.8h-1.8zM429.57 284.58h1.8v1.8h-1.8zM416.23 279.9h1.8v1.8h-1.8zM418.23 291.63h1.8v1.8h-1.8zM417.73 286.55h1.8v1.8h-1.8zM417.12 289.39h1.8v1.8h-1.8zM421.86 287.04h1.8v1.8h-1.8zM407.75 286.61h1.8v1.8h-1.8zM419.12 282.32h1.8v1.8h-1.8zM419.89 287.83h1.8v1.8h-1.8zM426.65 284.25h1.8v1.8h-1.8zM410.13 286.83h1.8v1.8h-1.8zM412.35 284.32h1.8v1.8h-1.8zM413.8 282.28h1.8v1.8h-1.8zM417.13 289.02h1.8v1.8h-1.8zM405.21 284.55h1.8v1.8h-1.8zM414.35 284.87h1.8v1.8h-1.8zM417.07 287.76h1.8v1.8h-1.8zM406.27 289.8h1.8v1.8h-1.8zM407.91 287.63h1.8v1.8h-1.8zM427.61 286.6h1.8v1.8h-1.8zM433.76 283.41h1.8v1.8h-1.8zM412.45 287.95h1.8v1.8h-1.8zM411.57 285.74h1.8v1.8h-1.8zM433.59 285.6h1.8v1.8h-1.8zM426.03 286.71h1.8v1.8h-1.8zM410.43 278.55h1.8v1.8h-1.8zM421.04 288.55h1.8v1.8h-1.8zM422.59 286.23h1.8v1.8h-1.8zM423.93 281.44h1.8v1.8h-1.8zM431.9 271.87h1.8v1.8h-1.8zM434.76 288.09h1.8v1.8h-1.8zM415.13 281.2h1.8v1.8h-1.8zM407.35 289.89h1.8v1.8h-1.8zM429.39 282.46h1.8v1.8h-1.8zM410.8 283.46h1.8v1.8h-1.8zM432.25 290.4h1.8v1.8h-1.8zM426.43 289.33h1.8v1.8h-1.8zM411.59 290.59h1.8v1.8h-1.8zM425.47 278.57h1.8v1.8h-1.8zM433.82 287.81h1.8v1.8h-1.8zM414.25 287.47h1.8v1.8h-1.8zM428.07 290.24h1.8v1.8h-1.8zM413.12 286.57h1.8v1.8h-1.8zM414.11 285.01h1.8v1.8h-1.8zM411.62 289.7h1.8v1.8h-1.8zM429.34 280.94h1.8v1.8h-1.8zM410.15 288.85h1.8v1.8h-1.8zM421.32 290.26h1.8v1.8h-1.8zM409.96 291.1h1.8v1.8h-1.8zM422.73 288.08h1.8v1.8h-1.8zM416.99 279.42h1.8v1.8h-1.8zM436.48 289.69h1.8v1.8h-1.8zM432.92 283.92h1.8v1.8h-1.8zM414.27 283.08h1.8v1.8h-1.8zM421.01 287.78h1.8v1.8h-1.8zM420.58 281.25h1.8v1.8h-1.8zM425.9 286.99h1.8v1.8h-1.8zM423.45 288.59h1.8v1.8h-1.8zM429 289.86h1.8v1.8h-1.8zM426.8 291.95h1.8v1.8h-1.8zM414.64 290.08h1.8v1.8h-1.8zM413.72 286.94h1.8v1.8h-1.8zM423.12 291.76h1.8v1.8h-1.8zM420.1 288.88h1.8v1.8h-1.8zM426.14 279.21h1.8v1.8h-1.8zM410.21 285.98h1.8v1.8h-1.8zM419.56 287.86h1.8v1.8h-1.8zM417.21 288.24h1.8v1.8h-1.8zM412.34 286.25h1.8v1.8h-1.8zM407.54 290.71h1.8v1.8h-1.8zM430.74 283.97h1.8v1.8h-1.8zM410.04 282.3h1.8v1.8h-1.8zM420.19 283h1.8v1.8h-1.8zM403.37 286.34h1.8v1.8h-1.8zM417.69 282.7h1.8v1.8h-1.8zM417.41 290.68h1.8v1.8h-1.8zM415.27 286.07h1.8v1.8h-1.8zM403.45 286.91h1.8v1.8h-1.8zM429.47 285.19h1.8v1.8h-1.8zM421.6 281.25h1.8v1.8h-1.8zM405.42 290.38h1.8v1.8h-1.8zM424.45 288.49h1.8v1.8h-1.8zM421.17 285.13h1.8v1.8h-1.8zM417.99 286.39h1.8v1.8h-1.8zM415.98 290.62h1.8v1.8h-1.8zM408.16 292.5h1.8v1.8h-1.8zM412.2 285.18h1.8v1.8h-1.8zM417.84 277.79h1.8v1.8h-1.8zM414.5 286.91h1.8v1.8h-1.8zM437.03 288.28h1.8v1.8h-1.8zM412.75 289.52h1.8v1.8h-1.8zM424.87 289.69h1.8v1.8h-1.8zM412.38 288.78h1.8v1.8h-1.8zM426 280.88h1.8v1.8h-1.8zM434.29 291.96h1.8v1.8h-1.8zM424.99 291.99h1.8v1.8h-1.8zM419.93 285.33h1.8v1.8h-1.8zM425.21 289.46h1.8v1.8h-1.8zM419.28 287.53h1.8v1.8h-1.8zM421.34 282.8h1.8v1.8h-1.8zM420.9 284.91h1.8v1.8h-1.8zM423.27 290.82h1.8v1.8h-1.8zM414.31 283.06h1.8v1.8h-1.8zM417.91 286.12h1.8v1.8h-1.8zM430.01 282.56h1.8v1.8h-1.8zM432.33 291.72h1.8v1.8h-1.8zM412.95 281.17h1.8v1.8h-1.8zM418.45 291.78h1.8v1.8h-1.8zM403.36 282.98h1.8v1.8h-1.8zM427.69 286.68h1.8v1.8h-1.8zM435.21 286.19h1.8v1.8h-1.8zM413.49 290.2h1.8v1.8h-1.8zM403.26 288.28h1.8v1.8h-1.8zM416.56 277.61h1.8v1.8h-1.8zM416.25 279.65h1.8v1.8h-1.8zM410.65 292.47h1.8v1.8h-1.8zM435.71 288.09h1.8v1.8h-1.8zM409.72 285.56h1.8v1.8h-1.8zM404.91 281.49h1.8v1.8h-1.8zM419.36 292.54h1.8v1.8h-1.8zM410.85 280.82h1.8v1.8h-1.8zM411.73 286.12h1.8v1.8h-1.8zM436.64 290.8h1.8v1.8h-1.8zM411.73 289.6h1.8v1.8h-1.8zM420.87 288.32h1.8v1.8h-1.8zM428.99 288.04h1.8v1.8h-1.8zM408.34 276.51h1.8v1.8h-1.8zM431.68 290.11h1.8v1.8h-1.8zM424.48 290.56h1.8v1.8h-1.8zM419.59 287.34h1.8v1.8h-1.8zM413.66 289.86h1.8v1.8h-1.8zM412.01 291.59h1.8v1.8h-1.8zM403.71 290.88h1.8v1.8h-1.8zM421.49 290.09h1.8v1.8h-1.8zM419.44 292.24h1.8v1.8h-1.8zM418.28 287.22h1.8v1.8h-1.8zM404.33 288.71h1.8v1.8h-1.8zM438.81 288.76h1.8v1.8h-1.8zM408.55 287.29h1.8v1.8h-1.8zM431.18 289.6h1.8v1.8h-1.8zM425.83 281.04h1.8v1.8h-1.8zM426.21 290.49h1.8v1.8h-1.8zM416.89 288.87h1.8v1.8h-1.8zM421.48 288.25h1.8v1.8h-1.8zM431.32 287.73h1.8v1.8h-1.8zM419.4 288.84h1.8v1.8h-1.8zM421 281.59h1.8v1.8h-1.8zM418.42 286.74h1.8v1.8h-1.8zM427.59 289.21h1.8v1.8h-1.8zM432.22 276.27h1.8v1.8h-1.8zM410.07 284.38h1.8v1.8h-1.8zM421.01 291.77h1.8v1.8h-1.8zM427.82 286.74h1.8v1.8h-1.8zM429.88 284.66h1.8v1.8h-1.8zM413.42 283.75h1.8v1.8h-1.8zM436.31 292.36h1.8v1.8h-1.8zM430.25 289.87h1.8v1.8h-1.8zM434.36 286.15h1.8v1.8h-1.8zM411.12 282.98h1.8v1.8h-1.8zM425.27 291.55h1.8v1.8h-1.8zM430.69 289.39h1.8v1.8h-1.8zM439.2 290.91h1.8v1.8h-1.8zM403.03 286.68h1.8v1.8h-1.8zM415.26 290.53h1.8v1.8h-1.8zM426.35 280.19h1.8v1.8h-1.8zM420.98 287.6h1.8v1.8h-1.8zM417.46 291.06h1.8v1.8h-1.8zM408.68 289.66h1.8v1.8h-1.8zM420.05 288.86h1.8v1.8h-1.8zM424.75 290.04h1.8v1.8h-1.8zM427.35 290.62h1.8v1.8h-1.8zM418.65 288.29h1.8v1.8h-1.8zM407.33 290.55h1.8v1.8h-1.8zM415.39 282.28h1.8v1.8h-1.8zM417.51 283.32h1.8v1.8h-1.8zM403.1 286.02h1.8v1.8h-1.8zM419.68 282.81h1.8v1.8h-1.8zM421.35 289.5h1.8v1.8h-1.8zM409.45 290.39h1.8v1.8h-1.8zM416.83 283.72h1.8v1.8h-1.8zM428.14 282.53h1.8v1.8h-1.8zM434.93 288.1h1.8v1.8h-1.8zM421.26 284.95h1.8v1.8h-1.8zM435.93 286.51h1.8v1.8h-1.8zM435.26 287.51h1.8v1.8h-1.8zM416.61 282.03h1.8v1.8h-1.8zM418.08 292.49h1.8v1.8h-1.8zM416.43 283.53h1.8v1.8h-1.8zM430.94 284.25h1.8v1.8h-1.8zM416.81 279.04h1.8v1.8h-1.8zM405.11 292.44h1.8v1.8h-1.8zM422.3 277.84h1.8v1.8h-1.8zM417.48 290.84h1.8v1.8h-1.8zM407.5 280.57h1.8v1.8h-1.8zM414.72 284.92h1.8v1.8h-1.8zM418.82 278.56h1.8v1.8h-1.8zM406.83 292.03h1.8v1.8h-1.8zM405.58 289.25h1.8v1.8h-1.8zM412.73 281.04h1.8v1.8h-1.8zM424.42 290.44h1.8v1.8h-1.8zM434.78 290.98h1.8v1.8h-1.8zM407.15 289.48h1.8v1.8h-1.8zM415.93 290.02h1.8v1.8h-1.8zM421.1 288.6h1.8v1.8h-1.8zM407.79 284.17h1.8v1.8h-1.8zM404.16 277.98h1.8v1.8h-1.8zM426.5 275h1.8v1.8h-1.8zM417.56 284.13h1.8v1.8h-1.8zM415.9 284.24h1.8v1.8h-1.8zM404.49 278.3h1.8v1.8h-1.8zM414.29 290.84h1.8v1.8h-1.8zM403.85 286.64h1.8v1.8h-1.8zM427.46 290.91h1.8v1.8h-1.8zM410.69 283.39h1.8v1.8h-1.8zM417.12 281.72h1.8v1.8h-1.8zM429.13 287.95h1.8v1.8h-1.8zM423.05 286.59h1.8v1.8h-1.8zM416.24 289.59h1.8v1.8h-1.8zM424 284.29h1.8v1.8h-1.8zM410.12 282.22h1.8v1.8h-1.8zM427.57 291.7h1.8v1.8h-1.8zM427.48 288.06h1.8v1.8h-1.8zM424.42 289.76h1.8v1.8h-1.8zM406.34 291.77h1.8v1.8h-1.8zM403.76 278.99h1.8v1.8h-1.8zM420.01 290.7h1.8v1.8h-1.8zM438.77 281.76h1.8v1.8h-1.8zM434.76 284.73h1.8v1.8h-1.8zM417.51 287.87h1.8v1.8h-1.8zM414.89 289.23h1.8v1.8h-1.8zM415.03 279.46h1.8v1.8h-1.8zM416.64 290.51h1.8v1.8h-1.8zM411.74 268.74h1.8v1.8h-1.8zM407.39 286.16h1.8v1.8h-1.8zM430.19 288.98h1.8v1.8h-1.8zM432.76 289.36h1.8v1.8h-1.8zM425.78 285.31h1.8v1.8h-1.8zM409.74 279.31h1.8v1.8h-1.8zM403.5 288.93h1.8v1.8h-1.8zM434.21 290.42h1.8v1.8h-1.8zM416.87 290.23h1.8v1.8h-1.8zM429.09 289.88h1.8v1.8h-1.8zM419.37 289.66h1.8v1.8h-1.8zM407.38 282.16h1.8v1.8h-1.8zM410.99 290.29h1.8v1.8h-1.8zM428.69 281.24h1.8v1.8h-1.8zM422.53 283.49h1.8v1.8h-1.8zM415.11 280.35h1.8v1.8h-1.8zM434.28 291.69h1.8v1.8h-1.8zM421.69 289.15h1.8v1.8h-1.8zM431.25 285.16h1.8v1.8h-1.8zM439.53 289.96h1.8v1.8h-1.8zM412.54 280.26h1.8v1.8h-1.8zM410.93 291.53h1.8v1.8h-1.8zM434.64 280.38h1.8v1.8h-1.8zM415.34 285.96h1.8v1.8h-1.8zM424.44 288.06h1.8v1.8h-1.8zM418.93 284.27h1.8v1.8h-1.8zM416.34 285.04h1.8v1.8h-1.8zM411.21 284.92h1.8v1.8h-1.8zM420.4 283.25h1.8v1.8h-1.8zM416.84 290.68h1.8v1.8h-1.8zM430.64 285.64h1.8v1.8h-1.8zM427.78 286.34h1.8v1.8h-1.8zM430.99 289.62h1.8v1.8h-1.8zM413.25 278.89h1.8v1.8h-1.8zM421.62 282.67h1.8v1.8h-1.8zM409.7 286.15h1.8v1.8h-1.8zM419.72 277.94h1.8v1.8h-1.8zM429.11 283.21h1.8v1.8h-1.8zM417.58 290.58h1.8v1.8h-1.8zM416.27 284.43h1.8v1.8h-1.8zM415.98 280.13h1.8v1.8h-1.8zM414.58 291.17h1.8v1.8h-1.8zM426.87 283.76h1.8v1.8h-1.8zM406.44 286h1.8v1.8h-1.8zM415.5 289.63h1.8v1.8h-1.8zM425.67 280.55h1.8v1.8h-1.8zM423.83 289.12h1.8v1.8h-1.8zM407.48 289.41h1.8v1.8h-1.8zM414.09 277.25h1.8v1.8h-1.8zM403.98 274.29h1.8v1.8h-1.8zM412.51 282.94h1.8v1.8h-1.8zM437.37 275.62h1.8v1.8h-1.8zM413.29 279.75h1.8v1.8h-1.8zM426.28 279.35h1.8v1.8h-1.8zM427.38 275.18h1.8v1.8h-1.8zM404.22 283.98h1.8v1.8h-1.8zM429.38 274.84h1.8v1.8h-1.8zM404.38 285.81h1.8v1.8h-1.8zM405.02 291.08h1.8v1.8h-1.8zM428.15 275.39h1.8v1.8h-1.8zM417.75 273.24h1.8v1.8h-1.8zM405.85 279.31h1.8v1.8h-1.8zM435.07 290.75h1.8v1.8h-1.8zM430.47 285.17h1.8v1.8h-1.8zM424.22 282.57h1.8v1.8h-1.8zM426.87 282.28h1.8v1.8h-1.8zM417.31 289.25h1.8v1.8h-1.8zM413.74 280.42h1.8v1.8h-1.8zM427.73 291.86h1.8v1.8h-1.8zM415.35 280.98h1.8v1.8h-1.8zM417.47 276.41h1.8v1.8h-1.8zM415.73 288.29h1.8v1.8h-1.8zM409.55 281.89h1.8v1.8h-1.8zM413.11 283.95h1.8v1.8h-1.8zM431.21 274.47h1.8v1.8h-1.8zM420.6 275.94h1.8v1.8h-1.8zM426.52 285.99h1.8v1.8h-1.8zM410.79 276.83h1.8v1.8h-1.8zM413.81 278.83h1.8v1.8h-1.8zM435.63 290.02h1.8v1.8h-1.8zM431.88 280.18h1.8v1.8h-1.8zM419.52 276.23h1.8v1.8h-1.8zM419.63 291.59h1.8v1.8h-1.8zM405.98 280.18h1.8v1.8h-1.8zM409.83 289.42h1.8v1.8h-1.8zM413.75 282.09h1.8v1.8h-1.8zM404.53 286.26h1.8v1.8h-1.8zM421.62 288.52h1.8v1.8h-1.8zM429.29 287.36h1.8v1.8h-1.8zM412.32 277.24h1.8v1.8h-1.8zM424.72 273.11h1.8v1.8h-1.8zM437.26 286.87h1.8v1.8h-1.8zM420.86 279.51h1.8v1.8h-1.8zM405.46 283.47h1.8v1.8h-1.8zM431.2 274.51h1.8v1.8h-1.8zM406.27 286.15h1.8v1.8h-1.8zM419.99 288.33h1.8v1.8h-1.8zM417.82 292.24h1.8v1.8h-1.8zM434.89 278.69h1.8v1.8h-1.8zM422.45 284.13h1.8v1.8h-1.8zM419.27 288.87h1.8v1.8h-1.8zM428.69 288.88h1.8v1.8h-1.8zM411.96 282.45h1.8v1.8h-1.8zM422.71 284.06h1.8v1.8h-1.8zM403.19 288.75h1.8v1.8h-1.8zM419.18 275.36h1.8v1.8h-1.8zM434.23 283.51h1.8v1.8h-1.8zM429.99 287.27h1.8v1.8h-1.8zM425.64 290.84h1.8v1.8h-1.8zM404.67 278.93h1.8v1.8h-1.8zM408.66 285.14h1.8v1.8h-1.8zM410.72 272.68h1.8v1.8h-1.8zM407.64 275.68h1.8v1.8h-1.8zM422.59 281.43h1.8v1.8h-1.8zM419.79 272.35h1.8v1.8h-1.8zM422.14 277.3h1.8v1.8h-1.8zM405.98 273.26h1.8v1.8h-1.8zM408.18 280.32h1.8v1.8h-1.8zM408.77 281.6h1.8v1.8h-1.8zM408.65 287.17h1.8v1.8h-1.8zM435.01 278.74h1.8v1.8h-1.8zM405.26 291.89h1.8v1.8h-1.8zM405.71 285.42h1.8v1.8h-1.8zM430.59 282h1.8v1.8h-1.8zM435.57 275.12h1.8v1.8h-1.8zM429.26 290.7h1.8v1.8h-1.8zM435.79 289.51h1.8v1.8h-1.8zM418.75 282.59h1.8v1.8h-1.8zM434 279.89h1.8v1.8h-1.8zM412.04 272.74h1.8v1.8h-1.8zM410.15 274.98h1.8v1.8h-1.8zM436.99 278.44h1.8v1.8h-1.8zM415.64 292.08h1.8v1.8h-1.8zM428.17 281h1.8v1.8h-1.8zM406.5 279.59h1.8v1.8h-1.8zM413.36 291.54h1.8v1.8h-1.8zM418.17 292.04h1.8v1.8h-1.8zM412.59 273.07h1.8v1.8h-1.8zM435.87 273.64h1.8v1.8h-1.8zM431.76 284.31h1.8v1.8h-1.8zM413.1 289.2h1.8v1.8h-1.8zM418.48 292.26h1.8v1.8h-1.8zM423.25 291.45h1.8v1.8h-1.8zM437.03 279.81h1.8v1.8h-1.8zM428.18 287.02h1.8v1.8h-1.8zM426.84 272.58h1.8v1.8h-1.8zM428.06 287.72h1.8v1.8h-1.8zM409.77 274.05h1.8v1.8h-1.8zM405.1 283.25h1.8v1.8h-1.8zM406.53 289.48h1.8v1.8h-1.8zM417.97 292.51h1.8v1.8h-1.8zM429.76 280.88h1.8v1.8h-1.8zM409.36 280.84h1.8v1.8h-1.8zM425.06 289.76h1.8v1.8h-1.8zM435.6 278.75h1.8v1.8h-1.8zM403.47 285.73h1.8v1.8h-1.8zM428.03 285.37h1.8v1.8h-1.8zM432.32 288.75h1.8v1.8h-1.8zM425.74 288.94h1.8v1.8h-1.8zM407.23 291.49h1.8v1.8h-1.8zM427.26 274.04h1.8v1.8h-1.8zM408.83 285.25h1.8v1.8h-1.8zM413.92 291.31h1.8v1.8h-1.8zM412.92 282.06h1.8v1.8h-1.8zM421.23 291.37h1.8v1.8h-1.8zM413.84 290.39h1.8v1.8h-1.8zM429.36 283.77h1.8v1.8h-1.8zM437.61 290.21h1.8v1.8h-1.8zM430.33 283.28h1.8v1.8h-1.8zM404.22 276.62h1.8v1.8h-1.8zM426.68 274.5h1.8v1.8h-1.8zM426.4 279.21h1.8v1.8h-1.8zM416.93 288.97h1.8v1.8h-1.8zM433.71 287.43h1.8v1.8h-1.8zM419.13 283.09h1.8v1.8h-1.8zM439.07 291.08h1.8v1.8h-1.8zM425.08 273.72h1.8v1.8h-1.8zM435.96 273.04h1.8v1.8h-1.8zM406.94 285.61h1.8v1.8h-1.8zM409.87 287.55h1.8v1.8h-1.8zM428 275.49h1.8v1.8h-1.8zM436.21 292.56h1.8v1.8h-1.8zM426.9 292.23h1.8v1.8h-1.8zM432.24 281.8h1.8v1.8h-1.8zM433.1 291.34h1.8v1.8h-1.8zM428.35 273.82h1.8v1.8h-1.8zM416.38 286.53h1.8v1.8h-1.8zM416.14 275.51h1.8v1.8h-1.8zM419.48 274.99h1.8v1.8h-1.8zM420.15 274.13h1.8v1.8h-1.8zM429.49 276.47h1.8v1.8h-1.8zM437.22 274.3h1.8v1.8h-1.8zM425.96 285.29h1.8v1.8h-1.8zM409.96 284.96h1.8v1.8h-1.8zM422.92 284.72h1.8v1.8h-1.8zM409.45 281.87h1.8v1.8h-1.8zM433.53 284.77h1.8v1.8h-1.8zM411.62 278.95h1.8v1.8h-1.8zM435.13 273.19h1.8v1.8h-1.8zM420.29 282.62h1.8v1.8h-1.8zM418.51 272.15h1.8v1.8h-1.8zM406.54 289.36h1.8v1.8h-1.8zM419.44 278.08h1.8v1.8h-1.8zM419.31 273.17h1.8v1.8h-1.8zM405.61 289.09h1.8v1.8h-1.8zM430.71 276.14h1.8v1.8h-1.8zM414.35 273.67h1.8v1.8h-1.8zM414.36 282.78h1.8v1.8h-1.8zM430.45 282.47h1.8v1.8h-1.8zM433.97 292.56h1.8v1.8h-1.8zM423.59 272.99h1.8v1.8h-1.8zM407.57 285.89h1.8v1.8h-1.8zM407.42 290.53h1.8v1.8h-1.8zM404.61 273.24h1.8v1.8h-1.8zM439.44 280.44h1.8v1.8h-1.8zM423.14 284.32h1.8v1.8h-1.8zM406.98 278.98h1.8v1.8h-1.8zM416.25 287.23h1.8v1.8h-1.8zM431.54 286.34h1.8v1.8h-1.8zM409.29 281.56h1.8v1.8h-1.8zM436.48 275.68h1.8v1.8h-1.8zM415.51 284.72h1.8v1.8h-1.8zM439.42 272.62h1.8v1.8h-1.8zM428.17 281.56h1.8v1.8h-1.8zM422.17 289.33h1.8v1.8h-1.8zM406.15 284.36h1.8v1.8h-1.8zM414.33 287.59h1.8v1.8h-1.8zM429.04 280.62h1.8v1.8h-1.8zM408.23 287.78h1.8v1.8h-1.8zM428.53 283.65h1.8v1.8h-1.8zM430.19 291.55h1.8v1.8h-1.8zM411.65 286.24h1.8v1.8h-1.8zM432.45 277.55h1.8v1.8h-1.8zM436.01 278.53h1.8v1.8h-1.8zM437.97 284.04h1.8v1.8h-1.8zM438.59 290.23h1.8v1.8h-1.8zM431.53 279.7h1.8v1.8h-1.8zM419.55 284.14h1.8v1.8h-1.8zM432.39 280.63h1.8v1.8h-1.8zM435.86 276.54h1.8v1.8h-1.8zM421.87 275.07h1.8v1.8h-1.8zM408.92 278.06h1.8v1.8h-1.8zM404.36 283.78h1.8v1.8h-1.8zM425.55 280.21h1.8v1.8h-1.8zM432.11 283.29h1.8v1.8h-1.8zM427.88 273.85h1.8v1.8h-1.8zM414.8 272.53h1.8v1.8h-1.8zM408.52 289.52h1.8v1.8h-1.8zM407.61 284.32h1.8v1.8h-1.8zM416.57 285.89h1.8v1.8h-1.8zM434.85 289.11h1.8v1.8h-1.8zM438.3 291.9h1.8v1.8h-1.8zM417.35 292.36h1.8v1.8h-1.8zM430.82 277.8h1.8v1.8h-1.8zM414.75 282.83h1.8v1.8h-1.8zM433.88 258.04h1.8v1.8h-1.8zM435.57 266.32h1.8v1.8h-1.8zM424.54 262.5h1.8v1.8h-1.8zM416.72 262.48h1.8v1.8h-1.8zM429.08 263.02h1.8v1.8h-1.8zM429.01 269.31h1.8v1.8h-1.8zM405.82 256.87h1.8v1.8h-1.8zM437.43 259.4h1.8v1.8h-1.8zM432.72 262.47h1.8v1.8h-1.8zM410.92 256.78h1.8v1.8h-1.8zM418.46 265.3h1.8v1.8h-1.8zM404.61 256.77h1.8v1.8h-1.8zM413.23 269.37h1.8v1.8h-1.8zM430.35 260.32h1.8v1.8h-1.8zM417.53 270.02h1.8v1.8h-1.8zM428.82 269.09h1.8v1.8h-1.8zM415.74 270.63h1.8v1.8h-1.8zM411.37 270.1h1.8v1.8h-1.8zM430.27 270.63h1.8v1.8h-1.8zM404.67 269.54h1.8v1.8h-1.8zM423.7 268.72h1.8v1.8h-1.8zM416.94 271.02h1.8v1.8h-1.8zM416.08 268.38h1.8v1.8h-1.8zM434.97 267.56h1.8v1.8h-1.8zM436.13 267.76h1.8v1.8h-1.8zM423.1 270.92h1.8v1.8h-1.8zM417.75 271.48h1.8v1.8h-1.8zM435.29 269.33h1.8v1.8h-1.8zM404.82 268.5h1.8v1.8h-1.8zM435.1 271.29h1.8v1.8h-1.8zM430.5 269.83h1.8v1.8h-1.8zM414.58 271.93h1.8v1.8h-1.8zM423.62 273.49h1.8v1.8h-1.8zM408.54 269.5h1.8v1.8h-1.8zM469.17 259.86h1.8v1.8h-1.8zM464.49 277.84h1.8v1.8h-1.8zM478.62 281.91h1.8v1.8h-1.8zM469.43 285.23h1.8v1.8h-1.8zM472.16 279.71h1.8v1.8h-1.8zM472.14 287.04h1.8v1.8h-1.8zM470.51 258.99h1.8v1.8h-1.8zM471.52 276.52h1.8v1.8h-1.8zM474.49 269.71h1.8v1.8h-1.8zM471.94 266.58h1.8v1.8h-1.8zM471.93 275.74h1.8v1.8h-1.8zM474.3 287.42h1.8v1.8h-1.8zM463.1 278.98h1.8v1.8h-1.8zM475.26 266.42h1.8v1.8h-1.8zM473.45 275.04h1.8v1.8h-1.8zM468.08 280.5h1.8v1.8h-1.8zM482.65 280.14h1.8v1.8h-1.8zM476.98 283.09h1.8v1.8h-1.8zM472.45 282.39h1.8v1.8h-1.8zM469.06 276.44h1.8v1.8h-1.8zM476.62 284.89h1.8v1.8h-1.8zM471.66 272.91h1.8v1.8h-1.8zM475.44 274.5h1.8v1.8h-1.8zM473.78 281.11h1.8v1.8h-1.8zM469.28 281.65h1.8v1.8h-1.8zM474.99 273.12h1.8v1.8h-1.8zM466.85 270.38h1.8v1.8h-1.8zM472.88 282.12h1.8v1.8h-1.8zM463.28 280.42h1.8v1.8h-1.8zM474.06 266.65h1.8v1.8h-1.8zM477.37 278.06h1.8v1.8h-1.8zM475.27 267.79h1.8v1.8h-1.8zM467.58 281.88h1.8v1.8h-1.8zM480.09 277.83h1.8v1.8h-1.8zM472.14 271.73h1.8v1.8h-1.8zM464.56 282.44h1.8v1.8h-1.8zM472.62 284.29h1.8v1.8h-1.8zM469.51 282.94h1.8v1.8h-1.8zM469.54 279.46h1.8v1.8h-1.8zM479.94 269.85h1.8v1.8h-1.8zM477.61 275.04h1.8v1.8h-1.8zM468.44 276.59h1.8v1.8h-1.8zM476.31 269.78h1.8v1.8h-1.8zM471.77 270.87h1.8v1.8h-1.8zM469.28 273.54h1.8v1.8h-1.8zM477.19 271.4h1.8v1.8h-1.8zM479.28 272.26h1.8v1.8h-1.8zM469.67 283.08h1.8v1.8h-1.8zM480.08 270.25h1.8v1.8h-1.8zM476.01 266.44h1.8v1.8h-1.8zM471.08 272.31h1.8v1.8h-1.8zM476.61 265.76h1.8v1.8h-1.8zM470.56 269.97h1.8v1.8h-1.8zM473.6 265.95h1.8v1.8h-1.8zM474.16 263.91h1.8v1.8h-1.8zM477.23 265.32h1.8v1.8h-1.8zM463.76 287.5h1.8v1.8h-1.8zM479.29 268.86h1.8v1.8h-1.8zM467.69 278.62h1.8v1.8h-1.8zM483.16 279.55h1.8v1.8h-1.8zM476.37 266.29h1.8v1.8h-1.8zM464.28 277.97h1.8v1.8h-1.8zM478.11 276.11h1.8v1.8h-1.8zM473.07 285.36h1.8v1.8h-1.8zM468.94 283.23h1.8v1.8h-1.8zM477.21 270.47h1.8v1.8h-1.8zM473.71 275.9h1.8v1.8h-1.8zM475.97 267.85h1.8v1.8h-1.8zM471.95 275.77h1.8v1.8h-1.8zM473.24 275.26h1.8v1.8h-1.8zM474.34 273.68h1.8v1.8h-1.8zM470.63 282.74h1.8v1.8h-1.8zM469.92 272.74h1.8v1.8h-1.8zM468.75 266.61h1.8v1.8h-1.8zM475.31 274.78h1.8v1.8h-1.8zM472.44 278.45h1.8v1.8h-1.8zM472.25 280.13h1.8v1.8h-1.8zM482.01 277.68h1.8v1.8h-1.8zM471.79 287.34h1.8v1.8h-1.8zM476.58 262.78h1.8v1.8h-1.8zM479.66 276.66h1.8v1.8h-1.8zM477.3 266.56h1.8v1.8h-1.8zM468.92 270.3h1.8v1.8h-1.8zM475.82 266.78h1.8v1.8h-1.8zM469.61 282.14h1.8v1.8h-1.8zM469.93 275.96h1.8v1.8h-1.8zM468.67 262.52h1.8v1.8h-1.8zM472.69 274.21h1.8v1.8h-1.8zM466.05 282.29h1.8v1.8h-1.8zM477.13 281.63h1.8v1.8h-1.8zM470.58 266.63h1.8v1.8h-1.8zM472.65 276.31h1.8v1.8h-1.8zM472.24 270.76h1.8v1.8h-1.8zM468.2 269.67h1.8v1.8h-1.8zM472.69 271.5h1.8v1.8h-1.8zM481.29 273.06h1.8v1.8h-1.8zM475.32 271.66h1.8v1.8h-1.8zM472.19 267.91h1.8v1.8h-1.8zM470.72 264.05h1.8v1.8h-1.8zM462.9 284.97h1.8v1.8h-1.8zM467.91 278.28h1.8v1.8h-1.8zM472.48 270.91h1.8v1.8h-1.8zM476.66 271h1.8v1.8h-1.8zM475.23 272.37h1.8v1.8h-1.8zM477.86 282.14h1.8v1.8h-1.8zM473.42 283.16h1.8v1.8h-1.8zM475.57 286.55h1.8v1.8h-1.8zM472.5 263.72h1.8v1.8h-1.8zM474.13 276.84h1.8v1.8h-1.8zM471.31 273.56h1.8v1.8h-1.8zM471.77 265.87h1.8v1.8h-1.8zM481.51 269.39h1.8v1.8h-1.8zM467.85 263.46h1.8v1.8h-1.8zM468.96 274.81h1.8v1.8h-1.8zM480.33 279.49h1.8v1.8h-1.8zM469.53 265.94h1.8v1.8h-1.8zM467.61 274.48h1.8v1.8h-1.8zM477.35 271.56h1.8v1.8h-1.8zM480.94 289.3h1.8v1.8h-1.8zM473.87 259.18h1.8v1.8h-1.8zM478.43 274.37h1.8v1.8h-1.8zM476.36 282.34h1.8v1.8h-1.8zM468.16 275.56h1.8v1.8h-1.8zM473.96 269.56h1.8v1.8h-1.8zM476.49 274.14h1.8v1.8h-1.8zM471.11 288.9h1.8v1.8h-1.8zM473.91 287.09h1.8v1.8h-1.8zM472.33 282.71h1.8v1.8h-1.8zM469.41 276.17h1.8v1.8h-1.8zM478.38 259.12h1.8v1.8h-1.8zM475.72 273.09h1.8v1.8h-1.8zM478.42 276.4h1.8v1.8h-1.8zM472.72 265.68h1.8v1.8h-1.8zM487.46 269.67h1.8v1.8h-1.8zM471.5 269.78h1.8v1.8h-1.8zM471.6 276.7h1.8v1.8h-1.8zM466.55 282.84h1.8v1.8h-1.8zM471.81 279.49h1.8v1.8h-1.8zM462.77 271.25h1.8v1.8h-1.8zM471.63 272.23h1.8v1.8h-1.8zM469.82 277.35h1.8v1.8h-1.8zM475.08 267.88h1.8v1.8h-1.8zM463.49 280.44h1.8v1.8h-1.8zM471.52 282.93h1.8v1.8h-1.8zM477.35 274.31h1.8v1.8h-1.8zM466.09 272.43h1.8v1.8h-1.8zM469.52 284.2h1.8v1.8h-1.8zM464.8 281.8h1.8v1.8h-1.8zM465.55 270.88h1.8v1.8h-1.8zM466.17 269.96h1.8v1.8h-1.8zM446.7 285.62h1.8v1.8h-1.8zM445.91 287.8h1.8v1.8h-1.8zM458.48 284.18h1.8v1.8h-1.8zM442.88 281.86h1.8v1.8h-1.8zM448.52 280.61h1.8v1.8h-1.8zM455.25 291h1.8v1.8h-1.8zM459.83 286.67h1.8v1.8h-1.8zM452.67 277.55h1.8v1.8h-1.8zM445.84 289.31h1.8v1.8h-1.8zM449.84 275.37h1.8v1.8h-1.8zM445.94 261.95h1.8v1.8h-1.8zM449.05 274.7h1.8v1.8h-1.8zM448.78 274.94h1.8v1.8h-1.8zM444.08 279.54h1.8v1.8h-1.8zM464.01 274.94h1.8v1.8h-1.8zM442.7 279.39h1.8v1.8h-1.8zM454.76 288.56h1.8v1.8h-1.8zM452.8 280.86h1.8v1.8h-1.8zM449.75 277.8h1.8v1.8h-1.8zM448.09 277.55h1.8v1.8h-1.8zM459.42 285.8h1.8v1.8h-1.8zM445.03 282.33h1.8v1.8h-1.8zM446.64 291.43h1.8v1.8h-1.8zM448.91 278.72h1.8v1.8h-1.8zM452.71 285.27h1.8v1.8h-1.8zM445.39 277.78h1.8v1.8h-1.8zM449.82 271.86h1.8v1.8h-1.8zM444.15 290h1.8v1.8h-1.8zM453.69 290.71h1.8v1.8h-1.8zM446.67 278.99h1.8v1.8h-1.8zM447.59 279.79h1.8v1.8h-1.8zM455.92 281.55h1.8v1.8h-1.8zM456.32 278.21h1.8v1.8h-1.8zM445.07 278.6h1.8v1.8h-1.8zM445.83 272.02h1.8v1.8h-1.8zM447.45 278.66h1.8v1.8h-1.8zM460.88 279.8h1.8v1.8h-1.8zM454.15 282.84h1.8v1.8h-1.8zM450.59 287.98h1.8v1.8h-1.8zM446.03 283.35h1.8v1.8h-1.8zM456.62 284.23h1.8v1.8h-1.8zM448.75 291.08h1.8v1.8h-1.8zM449.33 284.31h1.8v1.8h-1.8zM452.56 278.06h1.8v1.8h-1.8zM444.4 289.46h1.8v1.8h-1.8zM452.7 288.67h1.8v1.8h-1.8zM456.37 273.89h1.8v1.8h-1.8zM454.16 268.96h1.8v1.8h-1.8zM449.32 285.38h1.8v1.8h-1.8zM454.55 290.51h1.8v1.8h-1.8zM444.04 281.2h1.8v1.8h-1.8zM448.19 278.31h1.8v1.8h-1.8zM444.65 278.53h1.8v1.8h-1.8zM455.19 292.4h1.8v1.8h-1.8zM449.51 275.62h1.8v1.8h-1.8zM445.53 284.47h1.8v1.8h-1.8zM454.54 291.4h1.8v1.8h-1.8zM444.23 289.63h1.8v1.8h-1.8zM446.18 287.16h1.8v1.8h-1.8zM446.21 284.75h1.8v1.8h-1.8zM451.32 280.2h1.8v1.8h-1.8zM449.52 287.16h1.8v1.8h-1.8zM461.38 286.18h1.8v1.8h-1.8zM446.05 270.48h1.8v1.8h-1.8zM443.9 286.64h1.8v1.8h-1.8zM452.67 286.14h1.8v1.8h-1.8zM452.2 278.94h1.8v1.8h-1.8zM457.56 275.37h1.8v1.8h-1.8zM451.76 281.26h1.8v1.8h-1.8zM447.55 287.96h1.8v1.8h-1.8zM455.83 284.21h1.8v1.8h-1.8zM445.49 281.61h1.8v1.8h-1.8zM453.09 277.84h1.8v1.8h-1.8zM453.99 289.75h1.8v1.8h-1.8zM448.37 286.26h1.8v1.8h-1.8zM447.32 274.43h1.8v1.8h-1.8zM448.54 288.33h1.8v1.8h-1.8zM447.09 267.7h1.8v1.8h-1.8zM444.75 290.56h1.8v1.8h-1.8zM450.23 290.8h1.8v1.8h-1.8zM446.7 229.3h1.8v1.8h-1.8zM453 228.2h1.8v1.8h-1.8zM453.6 232.4h1.8v1.8h-1.8zM446.1 238.8h1.8v1.8h-1.8zM446.1 240.9h1.8v1.8h-1.8zM456.1 239.8h1.8v1.8h-1.8zM460.4 239.8h1.8v1.8h-1.8zM463.6 238.8h1.8v1.8h-1.8zM466.8 236.7h1.8v1.8h-1.8zM457.2 245.1h1.8v1.8h-1.8zM455.1 247.2h1.8v1.8h-1.8zM449.8 246.1h1.8v1.8h-1.8zM473.1 247.9h1.8v1.8h-1.8zM442.4 220.8h1.8v1.8h-1.8zM486.1 261.1h1.8v1.8h-1.8zM489.1 257.1h1.8v1.8h-1.8z" fill="#000"/>
</svg></body></html>
